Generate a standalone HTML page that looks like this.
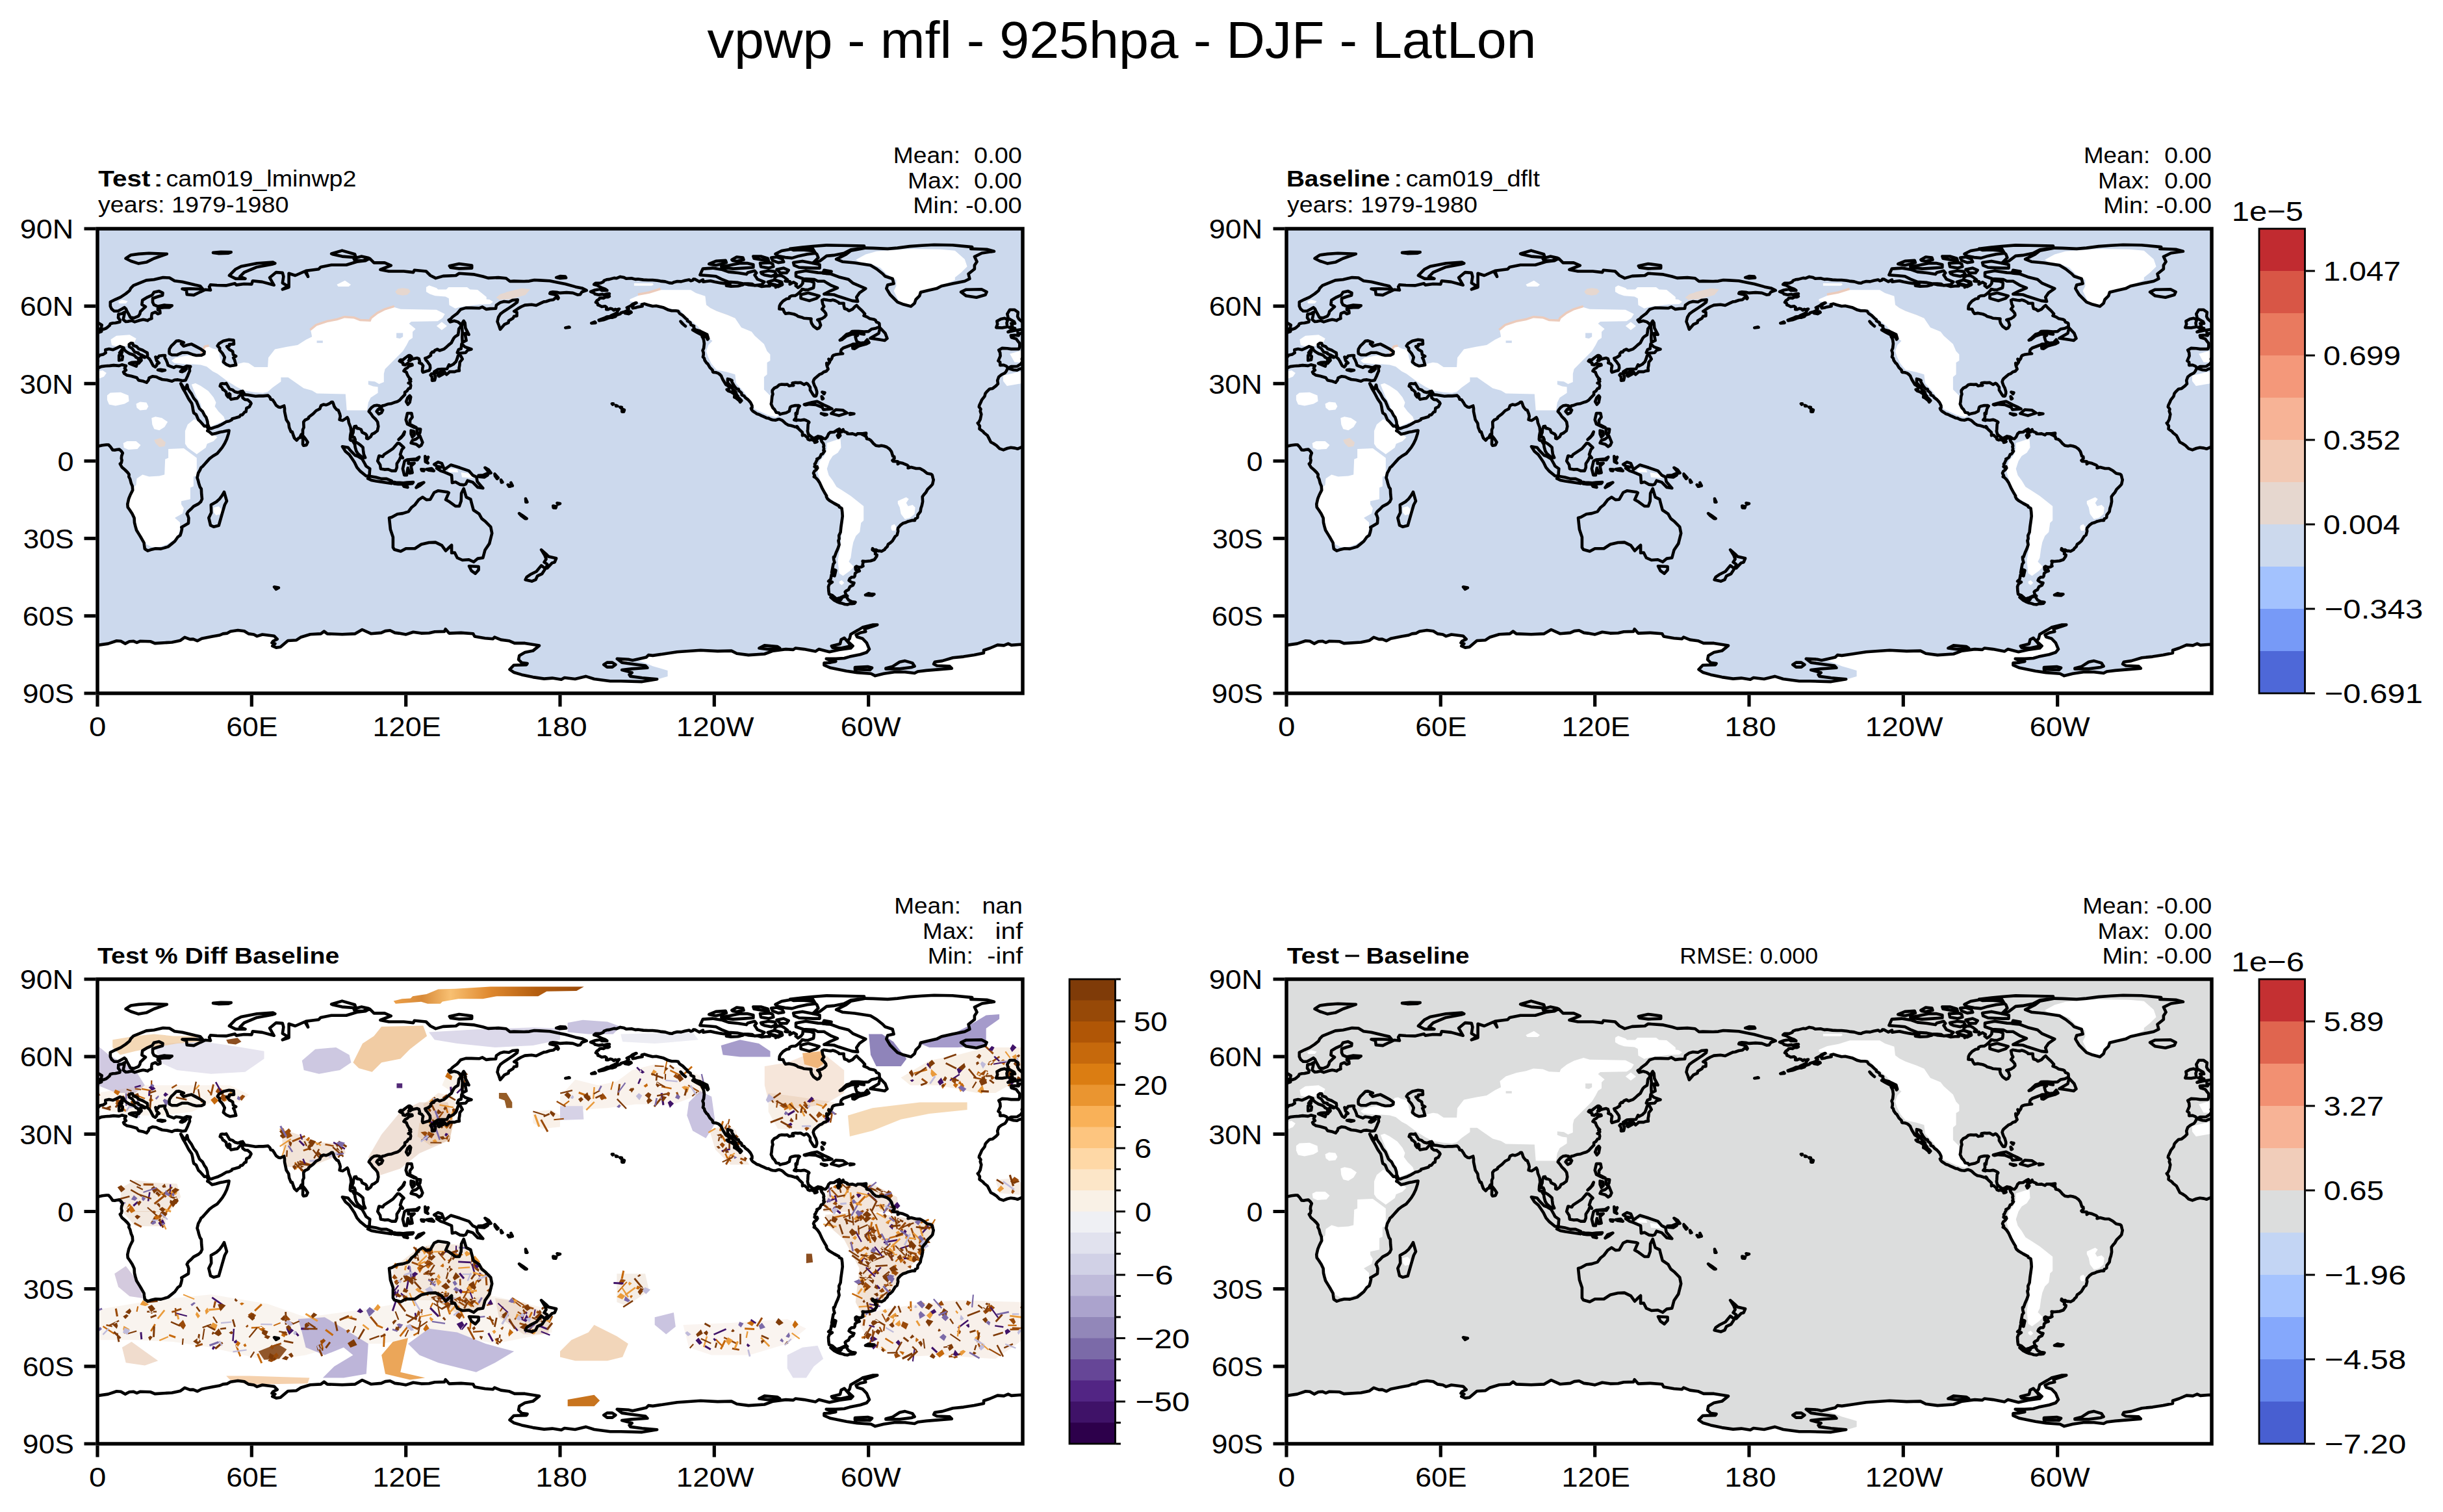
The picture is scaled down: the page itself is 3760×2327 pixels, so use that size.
<!DOCTYPE html>
<html><head><meta charset="utf-8"><title>vpwp - mfl - 925hpa - DJF - LatLon</title><style>html,body{margin:0;padding:0;background:#fff;overflow:hidden}svg{display:block}</style></head><body><svg width="3760" height="2327" viewBox="0 0 3760 2327" font-family='"Liberation Sans", sans-serif'>
<defs>
<path id="coast" d="M2176.7 94.9L2169.6 91.4L2159.7 89.4L2143.9 85L2136 83.4L2120.2 80.2L2104.4 79.4L2096.4 79L2088.5 80.6L2080.6 81L2064.8 80.6L2058.9 81L2052.9 76.3L2041.1 75.1L2025.2 75.9L2017.3 73.5L2004 70.4L1980.6 68.8L1975.7 72L1956 72.9L1944.6 76.1L1936.4 72L1929.8 65.5L1911.8 63.8L1910.2 67.1L1895.4 65.5L1872.5 65.5L1859.4 63L1875.8 56.5L1866 52.4L1849.6 52.4L1843.1 45.8L1836.5 49.1L1823.4 50.7L1807 55.7L1784.1 55.7L1767.7 58.9L1764.5 62.2L1744.8 64.7L1748.1 73.7L1743.2 65.5L1728.4 72L1718.6 68.8L1718.6 80.2L1718.6 90L1708.8 93.3L1717 88.4L1708.8 83.5L1710.4 73.7L1708.8 67.9L1699 67.1L1689.1 75.3L1695.7 86.8L1677.7 81.9L1662.9 80.2L1661.3 85.4L1649.5 85L1637.6 86.6L1635.6 84.2L1621.8 87.4L1607.9 87L1598 86.2L1596.1 89.4L1598 94.5L1590.1 93.7L1582.2 97.3L1572.3 102.1L1561.7 101.3L1560.9 94.5L1554.5 92.6L1566.4 92.2L1586.2 93L1582.2 88.2L1574.3 86.6L1554.5 81.8L1542.7 80.2L1534.8 75.5L1524.9 75.1L1511 78.3L1499.2 79.4L1489.3 83.4L1479.4 87.4L1475.4 91.4L1473.4 95.3L1467.5 100.1L1459.6 105.3L1451.7 108.8L1443.8 112.8L1443.8 119.2L1445.8 123.5L1449.7 126.7L1455.6 126.7L1461.6 123.5L1465.5 121.2L1467.9 123.5L1469.5 127.1L1472.7 132.7L1474.6 136.6L1480.2 137.4L1486.9 134.7L1489.3 131.1L1490.1 127.5L1495.2 122.7L1498 120L1492.4 116.8L1493.2 110L1501.1 105.3L1508.3 102.1L1511 97.7L1518.9 96.1L1524.5 98.9L1524.1 102.5L1517 104.5L1509 107.2L1509 113.2L1511 117.2L1517 119.6L1526.8 117.6L1538.7 118.4L1534.8 121.2L1526.8 121.2L1517 122.3L1517 125.1L1520.1 125.9L1520.5 129.9L1517 131.1L1513 128.3L1507.9 130.3L1507.1 135.1L1507.5 138.2L1503.1 139.8L1501.1 141.4L1497.2 140.2L1494.4 139.8L1488.9 141L1481.4 143.4L1476.6 141.4L1471.5 142.6L1467.5 143L1465.5 141.4L1463.6 139.8L1465.1 133.1L1465.9 128.3L1461.6 130.7L1456.4 131.5L1456 137L1458.8 140.6L1458.4 143.4L1455.2 144.2L1451.7 145L1447.7 145.2L1443.8 146.2L1442.6 149L1439.8 151.3L1437.1 153.3L1433.9 154.5L1430.3 155.3L1430.3 158.1L1424.8 160.1L1419.3 161.7L1416.5 160.1L1417.7 164.4L1411.3 163.7L1405.8 164.4L1406.6 167.2L1414.1 169.6L1416.5 172.8L1419.3 176.4L1419.3 181.9L1418.1 185.1L1412.1 185.1L1406.2 185.1L1400.3 184.3L1392.4 183.9L1387.2 186.7L1389.2 190.7L1389.6 195.8L1386.4 203.4L1389.2 205.4L1389.2 210.1L1394.3 209.7L1398.7 211.3L1401.8 214.5L1406.2 212.1L1415.7 211.7L1421.2 208.1L1424.4 203.4L1422.8 200.6L1424.4 198.2L1427.6 194.6L1432.7 193.4L1436.7 191.1L1436.3 186.3L1441.8 185.1L1447.7 186.3L1453.3 183.9L1458.8 181.1L1464.3 183.1L1465.5 186.7L1468.3 189.1L1473.4 192.3L1478.2 193.8L1481.8 195.8L1483.3 197.8L1486.1 199L1487.7 203L1486.1 205.8L1487.7 207L1489.7 204.6L1491.6 202.6L1491.2 200.6L1489.3 199.4L1492 196.6L1496.8 198.2L1497.2 197L1493.2 195L1487.3 192.7L1486.9 191.1L1481.4 189.9L1477.8 184.7L1473 181.5L1472.7 178L1475.4 176L1478.2 176.4L1479 179.5L1484.5 181.5L1487.3 184.7L1493.2 186.7L1497.2 189.1L1500.7 191.1L1501.1 194.6L1500.7 197.4L1503.9 200.2L1505.9 203.4L1508.3 208.1L1509.8 210.9L1513 212.9L1515 210.5L1515.8 208.1L1518.9 206.6L1515 203L1513.4 197.4L1517 198.6L1518.9 195.8L1524.9 195L1528 195L1527.6 198.6L1529.6 201.8L1531.6 206.6L1532.4 210.1L1535.9 211.7L1541.5 213.7L1545 211.7L1550.6 212.5L1556.5 213.7L1561.3 211.3L1567.2 212.1L1565.6 214.9L1566 218.9L1564.4 222.4L1562.8 226.4L1560.9 230.4L1559.7 233.2L1554.5 234L1551.8 233.2L1547.8 232.4L1542.7 232.8L1538.7 234.8L1530.8 232.8L1523.7 232L1518.5 230L1514.6 228L1509 227.2L1503.5 229.6L1502.7 232.8L1499.6 236.7L1494.8 234.8L1487.3 233.2L1484.5 229.2L1475.8 226.8L1469.5 225.6L1465.1 222.8L1464 220.5L1467.9 217.7L1465.9 214.9L1467.9 210.9L1461.6 209.3L1457.2 210.9L1448.9 210.1L1443 210.9L1436.7 211.3L1429.9 212.1L1424 214.9L1419.3 215.7L1415.3 217.7L1409.8 217.3L1403.4 215.3L1400.7 215.3L1398.7 219.3L1396.7 222L1391.2 224.8L1387.2 228L1385.2 233.6L1386 238.7L1382.9 241.9L1377.7 245.9L1373 246.7L1369 250.6L1366.6 253.4L1365.5 257.8L1361.1 263.4L1359.5 267.3L1357.2 272.1L1356.8 274.1L1359.5 277.7L1358.7 280.8L1360.3 285.6L1358.7 293.5L1356.4 297.9L1354.8 299.1L1357.9 303.5L1357.5 308.2L1362.7 311.8L1364.7 314.2L1369.8 318.2L1371.8 322.1L1375 328.5L1378.9 330.5L1383.7 333.7L1388.4 338.4L1394.3 340.4L1400.3 338L1405.8 336.8L1412.1 337.6L1416.1 338.8L1420 337.2L1426 334.5L1431.5 333.3L1437.8 332.5L1441 332.5L1443.8 335.3L1447.3 340.4L1450.5 340.8L1453.7 340L1457.6 339.6L1460.4 342L1462.8 345.2L1461.2 349.6L1460.8 353.5L1461.6 356.3L1460.8 360.3L1458.8 361.9L1461.6 367L1466.3 371L1470.3 375L1472.7 378.2L1472.3 381.7L1474.2 385.3L1475.8 391.7L1477.8 396.4L1478.2 402.4L1474.6 409.5L1472.3 415.1L1470.3 423.8L1470.7 428.6L1473.8 433L1477.4 438.5L1480.6 445.3L1481 452.4L1482.5 458.4L1484.1 464L1488.5 471.1L1491.6 476.3L1495.6 483.4L1496 487L1496.8 492.6L1498.8 494.1L1501.5 495.7L1505.9 494.1L1513.4 492.2L1521.7 492.6L1526.1 491.4L1532.8 489.4L1538.7 484.6L1543.1 481L1547.8 474.3L1551.4 471.9L1553 466.7L1554.1 461.6L1553.3 459.6L1558.1 456.8L1564 453.2L1564.4 445.3L1563.2 441.7L1561.7 438.9L1563.6 435.4L1567.6 431.8L1571.9 427.4L1579.5 423.4L1583 420.3L1585 415.9L1584.2 408.3L1583.8 400.4L1581.8 397.6L1579.8 391.3L1579.1 388.1L1577.5 383.3L1579.1 376.2L1581.4 372.2L1583.4 367.8L1586.2 365.4L1589.7 361.5L1592.9 357.9L1596.5 353.9L1601.6 350L1608.3 346L1612.7 340.8L1616.2 336.4L1619.8 330.5L1623 323.7L1625.7 315.4L1626.5 310.6L1623 311L1617.4 312.2L1612.7 313L1606 315L1600.4 316.2L1596.1 312.6L1593.3 311L1594.9 308.2L1591.7 303.5L1588.6 303.9L1585.8 300.7L1581.8 296.3L1579.5 294.3L1575.9 286L1572.3 283.6L1571.1 278.9L1570.4 274.1L1569.2 268.9L1564.8 262.6L1563.2 259.8L1560.1 253.8L1558.1 250.2L1555.3 245.5L1553 240.3L1552.2 238.3L1554.1 240.7L1557.3 245.5L1559.3 247.1L1560.5 243.9L1562 240.3L1563.2 245.9L1565.6 249.9L1568.8 254.2L1572.3 261L1576.3 265.7L1578.7 271.3L1581 276.9L1585.8 281.2L1588.6 286.8L1591.3 290.4L1593.3 296.7L1593.7 300.7L1595.3 304.7L1596.1 307.1L1599.2 307.5L1603.6 305.9L1608.7 304.3L1613.9 301.9L1618.2 299.5L1622.2 297.1L1626.5 296.3L1630.5 294.3L1631.3 292.4L1636 291.2L1642.7 289.2L1644.3 286.8L1647.1 286.4L1650.3 282.4L1652.6 281.6L1653.4 276.1L1657.8 274.1L1660.5 268.9L1659.4 266.9L1655.4 263.4L1651 263L1647.5 260.2L1647.1 254.6L1645.5 254.2L1643.5 256.2L1639.2 261L1635.2 261.4L1629.7 262.6L1628.1 260.6L1628.1 255L1626.9 253.8L1624.9 259L1622.6 255.8L1622.2 251.4L1619 248.3L1617 247.5L1615.4 243.9L1612.7 242.3L1613.9 238.7L1616.2 238.3L1620.2 238.7L1622.2 237.9L1625.3 243.1L1627.3 246.7L1631.7 247.9L1635.6 251L1640.4 252.2L1644.3 250.6L1647.5 249.9L1651 255.4L1655.4 255.8L1659.8 256.6L1667.3 257.8L1672.8 257.4L1679.1 257.4L1686.6 256.6L1689.4 259.4L1690.6 262.6L1693.8 263.4L1696.1 266.9L1697.7 269.7L1699.3 272.1L1702.9 274.5L1705.6 274.9L1711.2 272.5L1712 276.5L1712 281.2L1714.7 293.9L1718.3 299.5L1719.1 305.9L1721.9 312.6L1723.8 312.6L1725 316.6L1727 322.1L1730.6 325.7L1733.7 322.1L1737.3 321L1736.1 319.8L1737.7 316.6L1740 316.2L1740 309.4L1741.6 305.9L1741.2 297.5L1743.6 294.3L1747.2 292.8L1749.1 291.6L1749.1 290L1755.9 284.8L1760.6 280L1766.2 277.3L1768.1 272.1L1772.1 270.5L1775.6 271.3L1778.8 270.1L1782 268.5L1784 266.9L1785.9 266.9L1787.1 269.3L1788.3 273.3L1789.5 275.3L1792.3 278.5L1794.6 279.2L1797 285.2L1797.8 288.8L1796.6 293.9L1799.4 294.7L1801.4 295.1L1805.7 292.4L1808.5 290.4L1810.1 293.5L1810.9 298.7L1813.6 305.5L1814.4 312.2L1813.2 318.2L1812.8 324.1L1813.6 325.7L1816.4 326.1L1820 331.7L1820.7 336.4L1822.3 342L1824.7 346L1827.9 348.8L1833 352.7L1836.2 352.3L1833.8 346.8L1833 340.8L1832.6 336.4L1829 333.3L1825.9 330.9L1820.7 327.7L1820.7 324.5L1819.2 321L1816.4 321L1816.4 316.2L1817.6 313.8L1818 309L1819.2 305.9L1819.6 304.3L1821.9 303.9L1823.5 307.1L1826.3 307.5L1829.8 309L1831.4 313.4L1836.6 315.8L1838.5 318.2L1838.1 322.5L1840.1 323.3L1844.5 320.2L1846.5 316.2L1850 314.6L1854.8 311L1856.3 304.3L1855.2 297.5L1852.4 293.5L1847.6 288.8L1844.9 284.8L1841.7 281.2L1842.9 278.9L1845.7 275.3L1849.6 272.5L1854 271.7L1858.3 272.5L1858.7 276.9L1860.7 276.5L1862.3 272.5L1866.2 271.7L1871.8 269.7L1875.7 269.3L1882.4 266.9L1885.6 266.1L1889.2 263.8L1892.7 259.8L1897.1 255.4L1897.1 251.8L1900.2 249.9L1903 245.9L1905.4 245.5L1906.2 241.5L1905.4 238.3L1902.6 237.5L1906.2 234.8L1904.2 232.4L1906.2 231.6L1903 228.4L1901 224.8L1899.5 220.9L1895.5 218.9L1897.5 216.1L1901 214.1L1903 211.7L1908.6 210.1L1908.2 208.5L1905.4 208.5L1903 208.1L1901.8 207L1897.9 209.7L1894.3 208.9L1894.3 206.6L1888.8 203.8L1890.4 201.8L1894.3 201.8L1897.5 199L1903 195L1905 195L1907.4 197L1904.2 199.4L1905 201L1903 203L1905 203L1907.4 201L1910.1 200.2L1915.7 199L1918.8 200.2L1920 204.2L1919.2 206.6L1922.8 207.7L1925.2 210.9L1924.4 214.1L1924 218.9L1924.8 220.9L1927.9 220.1L1931.1 218.9L1934.7 218.1L1936.2 214.5L1935.8 210.1L1931.5 204.2L1929.5 202.2L1928.3 199.4L1932.7 197.8L1937 195L1937 192.3L1939.4 189.5L1941.4 189.9L1943.4 187.1L1947.3 185.5L1950.5 187.5L1957.6 185.1L1960 183.1L1964.3 179.1L1968.7 175.6L1970.7 171.6L1972.2 168.8L1974.2 166.4L1979 163.3L1979.8 158.5L1980.2 154.1L1983.3 150.1L1982.9 146.6L1978.6 143.4L1973 141.8L1966.7 143.4L1964.7 140.6L1967.5 139L1970.7 135.5L1977.4 130.7L1982.9 124.3L1986.5 123.1L1990.8 121.9L1999.5 121.9L2011.4 122.3L2016.5 120.4L2022.5 123.9L2028.4 123.1L2037.1 122.7L2037.9 117.6L2043.8 113.6L2049.8 112L2057.3 112.8L2062.8 110L2070.7 109.2L2069.9 113.2L2064 117.6L2057.7 121.9L2049 127.5L2044.2 131.1L2041.1 136.2L2039.5 143L2041.9 149L2043.8 154.9L2050.2 147.4L2056.5 144.6L2056.9 141.8L2063.6 137.8L2065.2 134.7L2069.5 134.3L2069.5 128.7L2065.2 127.1L2071.1 123.1L2076.3 120L2081.8 117.6L2092.1 116.8L2099.2 118L2105.1 115.2L2111.1 112.4L2114.6 112L2120.2 110L2125.7 109.2L2129.7 105.7L2132.8 108L2133.6 106.5L2131.6 102.9L2125.7 100.9L2120.2 99.7L2121 98.1L2124.9 97.3L2130.9 97.7L2136 98.9L2145.9 98.1L2155.8 98.9L2162.9 101.7L2166.9 101.3L2169.6 97.3L2176.7 94.9ZM752.7 94.9L745.6 91.4L735.7 89.4L719.9 85L712 83.4L696.2 80.2L680.4 79.4L672.4 79L664.5 80.6L656.6 81L640.8 80.6L634.9 81L628.9 76.3L617.1 75.1L601.2 75.9L593.3 73.5L580 70.4L556.6 68.8L551.7 72L532 72.9L520.6 76.1L512.4 72L505.8 65.5L487.8 63.8L486.2 67.1L471.4 65.5L448.5 65.5L435.4 63L451.8 56.5L442 52.4L425.6 52.4L419.1 45.8L412.5 49.1L399.4 50.7L383 55.7L360.1 55.7L343.7 58.9L340.5 62.2L320.8 64.7L324.1 73.7L319.2 65.5L304.4 72L294.6 68.8L294.6 80.2L294.6 90L284.8 93.3L293 88.4L284.8 83.5L286.4 73.7L284.8 67.9L275 67.1L265.1 75.3L271.7 86.8L253.7 81.9L238.9 80.2L237.3 85.4L225.5 85L213.6 86.6L211.6 84.2L197.8 87.4L183.9 87L174 86.2L172.1 89.4L174 94.5L166.1 93.7L158.2 97.3L148.3 102.1L137.7 101.3L136.9 94.5L130.5 92.6L142.4 92.2L162.2 93L158.2 88.2L150.3 86.6L130.5 81.8L118.7 80.2L110.8 75.5L100.9 75.1L87 78.3L75.2 79.4L65.3 83.4L55.4 87.4L51.4 91.4L49.4 95.3L43.5 100.1L35.6 105.3L27.7 108.8L19.8 112.8L19.8 119.2L21.8 123.5L25.7 126.7L31.6 126.7L37.6 123.5L41.5 121.2L43.9 123.5L45.5 127.1L48.7 132.7L50.6 136.6L56.2 137.4L62.9 134.7L65.3 131.1L66.1 127.5L71.2 122.7L74 120L68.4 116.8L69.2 110L77.1 105.3L84.3 102.1L87 97.7L94.9 96.1L100.5 98.9L100.1 102.5L93 104.5L85 107.2L85 113.2L87 117.2L93 119.6L102.8 117.6L114.7 118.4L110.8 121.2L102.8 121.2L93 122.3L93 125.1L96.1 125.9L96.5 129.9L93 131.1L89 128.3L83.9 130.3L83.1 135.1L83.5 138.2L79.1 139.8L77.1 141.4L73.2 140.2L70.4 139.8L64.9 141L57.4 143.4L52.6 141.4L47.5 142.6L43.5 143L41.5 141.4L39.6 139.8L41.1 133.1L41.9 128.3L37.6 130.7L32.4 131.5L32 137L34.8 140.6L34.4 143.4L31.2 144.2L27.7 145L23.7 145.2L19.8 146.2L18.6 149L15.8 151.3L13.1 153.3L9.9 154.5L6.3 155.3L6.3 158.1L0.8 160.1L-4.7 161.7L-7.5 160.1L-6.3 164.4L-12.7 163.7L-18.2 164.4L-17.4 167.2L-9.9 169.6L-7.5 172.8L-4.7 176.4L-4.7 181.9L-5.9 185.1L-11.9 185.1L-17.8 185.1L-23.7 184.3L-31.6 183.9L-36.8 186.7L-34.8 190.7L-34.4 195.8L-37.6 203.4L-34.8 205.4L-34.8 210.1L-29.7 209.7L-25.3 211.3L-22.2 214.5L-17.8 212.1L-8.3 211.7L-2.8 208.1L0.4 203.4L-1.2 200.6L0.4 198.2L3.6 194.6L8.7 193.4L12.7 191.1L12.3 186.3L17.8 185.1L23.7 186.3L29.3 183.9L34.8 181.1L40.3 183.1L41.5 186.7L44.3 189.1L49.4 192.3L54.2 193.8L57.8 195.8L59.3 197.8L62.1 199L63.7 203L62.1 205.8L63.7 207L65.7 204.6L67.6 202.6L67.2 200.6L65.3 199.4L68 196.6L72.8 198.2L73.2 197L69.2 195L63.3 192.7L62.9 191.1L57.4 189.9L53.8 184.7L49 181.5L48.7 178L51.4 176L54.2 176.4L55 179.5L60.5 181.5L63.3 184.7L69.2 186.7L73.2 189.1L76.7 191.1L77.1 194.6L76.7 197.4L79.9 200.2L81.9 203.4L84.3 208.1L85.8 210.9L89 212.9L91 210.5L91.8 208.1L94.9 206.6L91 203L89.4 197.4L93 198.6L94.9 195.8L100.9 195L104 195L103.6 198.6L105.6 201.8L107.6 206.6L108.4 210.1L111.9 211.7L117.5 213.7L121 211.7L126.6 212.5L132.5 213.7L137.3 211.3L143.2 212.1L141.6 214.9L142 218.9L140.4 222.4L138.8 226.4L136.9 230.4L135.7 233.2L130.5 234L127.8 233.2L123.8 232.4L118.7 232.8L114.7 234.8L106.8 232.8L99.7 232L94.5 230L90.6 228L85 227.2L79.5 229.6L78.7 232.8L75.6 236.7L70.8 234.8L63.3 233.2L60.5 229.2L51.8 226.8L45.5 225.6L41.1 222.8L40 220.5L43.9 217.7L41.9 214.9L43.9 210.9L37.6 209.3L33.2 210.9L24.9 210.1L19 210.9L12.7 211.3L5.9 212.1L0 214.9L-4.7 215.7L-8.7 217.7L-14.2 217.3L-20.6 215.3L-23.3 215.3L-25.3 219.3L-27.3 222L-32.8 224.8L-36.8 228L-38.8 233.6L-38 238.7L-41.1 241.9L-46.3 245.9L-51 246.7L-55 250.6L-57.4 253.4L-58.5 257.8L-62.9 263.4L-64.5 267.3L-66.8 272.1L-67.2 274.1L-64.5 277.7L-65.3 280.8L-63.7 285.6L-65.3 293.5L-67.6 297.9L-69.2 299.1L-66.1 303.5L-66.5 308.2L-61.3 311.8L-59.3 314.2L-54.2 318.2L-52.2 322.1L-49 328.5L-45.1 330.5L-40.3 333.7L-35.6 338.4L-29.7 340.4L-23.7 338L-18.2 336.8L-11.9 337.6L-7.9 338.8L-4 337.2L2 334.5L7.5 333.3L13.8 332.5L17 332.5L19.8 335.3L23.3 340.4L26.5 340.8L29.7 340L33.6 339.6L36.4 342L38.8 345.2L37.2 349.6L36.8 353.5L37.6 356.3L36.8 360.3L34.8 361.9L37.6 367L42.3 371L46.3 375L48.7 378.2L48.3 381.7L50.2 385.3L51.8 391.7L53.8 396.4L54.2 402.4L50.6 409.5L48.3 415.1L46.3 423.8L46.7 428.6L49.8 433L53.4 438.5L56.6 445.3L57 452.4L58.5 458.4L60.1 464L64.5 471.1L67.6 476.3L71.6 483.4L72 487L72.8 492.6L74.8 494.1L77.5 495.7L81.9 494.1L89.4 492.2L97.7 492.6L102.1 491.4L108.8 489.4L114.7 484.6L119.1 481L123.8 474.3L127.4 471.9L129 466.7L130.1 461.6L129.3 459.6L134.1 456.8L140 453.2L140.4 445.3L139.2 441.7L137.7 438.9L139.6 435.4L143.6 431.8L147.9 427.4L155.5 423.4L159 420.3L161 415.9L160.2 408.3L159.8 400.4L157.8 397.6L155.8 391.3L155.1 388.1L153.5 383.3L155.1 376.2L157.4 372.2L159.4 367.8L162.2 365.4L165.7 361.5L168.9 357.9L172.5 353.9L177.6 350L184.3 346L188.7 340.8L192.2 336.4L195.8 330.5L199 323.7L201.7 315.4L202.5 310.6L199 311L193.4 312.2L188.7 313L182 315L176.4 316.2L172.1 312.6L169.3 311L170.9 308.2L167.7 303.5L164.6 303.9L161.8 300.7L157.8 296.3L155.5 294.3L151.9 286L148.3 283.6L147.1 278.9L146.4 274.1L145.2 268.9L140.8 262.6L139.2 259.8L136.1 253.8L134.1 250.2L131.3 245.5L129 240.3L128.2 238.3L130.1 240.7L133.3 245.5L135.3 247.1L136.5 243.9L138 240.3L139.2 245.9L141.6 249.9L144.8 254.2L148.3 261L152.3 265.7L154.7 271.3L157 276.9L161.8 281.2L164.6 286.8L167.3 290.4L169.3 296.7L169.7 300.7L171.3 304.7L172.1 307.1L175.2 307.5L179.6 305.9L184.7 304.3L189.9 301.9L194.2 299.5L198.2 297.1L202.5 296.3L206.5 294.3L207.3 292.4L212 291.2L218.7 289.2L220.3 286.8L223.1 286.4L226.3 282.4L228.6 281.6L229.4 276.1L233.8 274.1L236.5 268.9L235.4 266.9L231.4 263.4L227 263L223.5 260.2L223.1 254.6L221.5 254.2L219.5 256.2L215.2 261L211.2 261.4L205.7 262.6L204.1 260.6L204.1 255L202.9 253.8L200.9 259L198.6 255.8L198.2 251.4L195 248.3L193 247.5L191.4 243.9L188.7 242.3L189.9 238.7L192.2 238.3L196.2 238.7L198.2 237.9L201.3 243.1L203.3 246.7L207.7 247.9L211.6 251L216.4 252.2L220.3 250.6L223.5 249.9L227 255.4L231.4 255.8L235.8 256.6L243.3 257.8L248.8 257.4L255.1 257.4L262.6 256.6L265.4 259.4L266.6 262.6L269.8 263.4L272.1 266.9L273.7 269.7L275.3 272.1L278.9 274.5L281.6 274.9L287.2 272.5L288 276.5L288 281.2L290.7 293.9L294.3 299.5L295.1 305.9L297.9 312.6L299.8 312.6L301 316.6L303 322.1L306.6 325.7L309.7 322.1L313.3 321L312.1 319.8L313.7 316.6L316 316.2L316 309.4L317.6 305.9L317.2 297.5L319.6 294.3L323.2 292.8L325.1 291.6L325.1 290L331.9 284.8L336.6 280L342.2 277.3L344.1 272.1L348.1 270.5L351.6 271.3L354.8 270.1L358 268.5L360 266.9L361.9 266.9L363.1 269.3L364.3 273.3L365.5 275.3L368.3 278.5L370.6 279.2L373 285.2L373.8 288.8L372.6 293.9L375.4 294.7L377.4 295.1L381.7 292.4L384.5 290.4L386.1 293.5L386.9 298.7L389.6 305.5L390.4 312.2L389.2 318.2L388.8 324.1L389.6 325.7L392.4 326.1L396 331.7L396.7 336.4L398.3 342L400.7 346L403.9 348.8L409 352.7L412.2 352.3L409.8 346.8L409 340.8L408.6 336.4L405 333.3L401.9 330.9L396.7 327.7L396.7 324.5L395.2 321L392.4 321L392.4 316.2L393.6 313.8L394 309L395.2 305.9L395.6 304.3L397.9 303.9L399.5 307.1L402.3 307.5L405.8 309L407.4 313.4L412.6 315.8L414.5 318.2L414.1 322.5L416.1 323.3L420.5 320.2L422.5 316.2L426 314.6L430.8 311L432.3 304.3L431.2 297.5L428.4 293.5L423.6 288.8L420.9 284.8L417.7 281.2L418.9 278.9L421.7 275.3L425.6 272.5L430 271.7L434.3 272.5L434.7 276.9L436.7 276.5L438.3 272.5L442.2 271.7L447.8 269.7L451.7 269.3L458.4 266.9L461.6 266.1L465.2 263.8L468.7 259.8L473.1 255.4L473.1 251.8L476.2 249.9L479 245.9L481.4 245.5L482.2 241.5L481.4 238.3L478.6 237.5L482.2 234.8L480.2 232.4L482.2 231.6L479 228.4L477 224.8L475.5 220.9L471.5 218.9L473.5 216.1L477 214.1L479 211.7L484.6 210.1L484.2 208.5L481.4 208.5L479 208.1L477.8 207L473.9 209.7L470.3 208.9L470.3 206.6L464.8 203.8L466.4 201.8L470.3 201.8L473.5 199L479 195L481 195L483.4 197L480.2 199.4L481 201L479 203L481 203L483.4 201L486.1 200.2L491.7 199L494.8 200.2L496 204.2L495.2 206.6L498.8 207.7L501.2 210.9L500.4 214.1L500 218.9L500.8 220.9L503.9 220.1L507.1 218.9L510.7 218.1L512.2 214.5L511.8 210.1L507.5 204.2L505.5 202.2L504.3 199.4L508.7 197.8L513 195L513 192.3L515.4 189.5L517.4 189.9L519.4 187.1L523.3 185.5L526.5 187.5L533.6 185.1L536 183.1L540.3 179.1L544.7 175.6L546.7 171.6L548.2 168.8L550.2 166.4L555 163.3L555.8 158.5L556.2 154.1L559.3 150.1L558.9 146.6L554.6 143.4L549 141.8L542.7 143.4L540.7 140.6L543.5 139L546.7 135.5L553.4 130.7L558.9 124.3L562.5 123.1L566.8 121.9L575.5 121.9L587.4 122.3L592.5 120.4L598.5 123.9L604.4 123.1L613.1 122.7L613.9 117.6L619.8 113.6L625.8 112L633.3 112.8L638.8 110L646.7 109.2L645.9 113.2L640 117.6L633.7 121.9L625 127.5L620.2 131.1L617.1 136.2L615.5 143L617.9 149L619.8 154.9L626.2 147.4L632.5 144.6L632.9 141.8L639.6 137.8L641.2 134.7L645.5 134.3L645.5 128.7L641.2 127.1L647.1 123.1L652.3 120L657.8 117.6L668.1 116.8L675.2 118L681.1 115.2L687.1 112.4L690.6 112L696.2 110L701.7 109.2L705.7 105.7L708.8 108L709.6 106.5L707.6 102.9L701.7 100.9L696.2 99.7L697 98.1L700.9 97.3L706.9 97.7L712 98.9L721.9 98.1L731.8 98.9L738.9 101.7L742.9 101.3L745.6 97.3L752.7 94.9ZM759.1 96.9L765.4 94.5L773.3 93L776.5 94.9L784.4 94.9L781.2 92.6L776.1 91L769.8 87.4L764.2 85.8L766.6 83.8L773.7 83.8L778.5 81.8L779.6 79.8L783.6 78.3L787.6 77.9L795.1 75.9L798.6 76.3L804.6 73.9L810.5 75.1L813.7 76.7L822 76.3L827.9 77.9L831.9 77.5L840.2 78.6L847.7 79L854.4 79L861.9 79.8L866.3 80.6L873.8 81.4L880.1 83.4L884.1 83.8L887.6 82.2L892.4 81L898.3 81.4L904.2 79.8L910.6 78.6L913.3 80.2L916.1 79.4L917.3 77.5L920.1 77.9L926.4 81.4L931.9 78.6L932.3 81.8L937.1 81L943.4 80.2L949.7 81.8L958.8 83.4L964.4 84.2L968.3 83.8L973.5 85.8L967.9 87.8L975 88.6L985.7 88.2L989.3 87.4L993.6 86.2L996 84.6L1001.2 84.6L1007.5 85L1011.4 87.4L1015.8 87L1022.5 89L1028.8 88.2L1034.8 88.2L1034 85.8L1037.5 85L1043.9 86.6L1043.9 90.2L1046.2 87L1049.4 87L1051.4 83L1047 80.6L1042.3 79L1042.7 74.7L1047.4 71.9L1052.6 72.3L1056.5 74.3L1062.1 78.6L1058.5 80.6L1066 81.4L1065.6 85.4L1071.2 82.2L1075.9 85L1074.7 87.8L1078.3 90.6L1082.6 87.8L1085.4 84.2L1085.8 79.8L1091.3 80.2L1097.3 80.6L1102.4 82.6L1102.8 84.6L1102.4 89L1102 91L1094.5 93.7L1089 94.1L1084.6 93L1083.4 94.9L1079.9 98.5L1076.7 101.3L1073.9 102.9L1068.4 103.3L1065.2 104.9L1064.8 107.2L1060.5 108L1055.3 111.2L1051.4 115.6L1049.8 118.8L1049.4 123.5L1055.3 123.9L1056.9 127.9L1058.9 130.7L1064.4 129.9L1072 131.5L1075.9 133.1L1078.7 135.1L1083.4 136.2L1087.8 137.8L1094.1 138.2L1098.5 138.6L1098.1 141.8L1099.2 145.8L1102 150.1L1107.6 154.1L1110.7 152.9L1113.1 148.6L1111.1 142.6L1108.3 140.2L1114.7 138.6L1119 135.9L1121.4 133.1L1121 130.3L1118.2 126.7L1115.1 123.9L1118.2 119.6L1116.3 116L1115.1 110L1117.8 108.8L1124.6 110L1128.5 110.4L1132.1 109.6L1135.6 110.8L1140.4 113.2L1141.6 114.8L1148.7 114.8L1148.7 118.4L1149.9 123.1L1153.4 123.9L1156.6 126.3L1162.1 123.9L1166.1 119.6L1168.5 118L1171.6 121.5L1176.8 126.3L1181.1 131.1L1179.5 133.9L1184.7 135.9L1188.2 138.2L1194.6 139.4L1197.3 140.6L1198.9 143.8L1201.7 144.6L1203.3 145.8L1203.7 150.5L1198.1 153.3L1191.4 154.5L1186.7 158.1L1179.9 158.5L1171.2 157.7L1165.3 157.7L1161.4 158.1L1158.2 160.9L1153 162.5L1147.1 168L1142.8 171.6L1145.9 170.8L1152.3 165.6L1160.6 162.5L1166.5 162.1L1170.1 164.1L1166.5 166.4L1167.7 170.8L1168.9 174L1174 176L1180.7 175.2L1184.7 170.8L1187.5 175.2L1182.7 177.6L1173.6 179.9L1170.1 181.5L1165.3 184.7L1162.5 184.3L1162.1 180.7L1169.3 177.6L1162.9 177.6L1158.6 179.5L1153.4 181.5L1147.9 183.5L1144.7 186.3L1143.9 189.5L1145.1 191.5L1147.1 192.3L1142.8 192.7L1135.6 193.8L1132.5 195L1131.3 196.2L1130.1 199.8L1127.7 203L1125.4 200.6L1126.9 205.4L1123.8 209.7L1122.2 207L1122.6 210.5L1124.6 216.1L1121.8 219.3L1117.8 220.5L1115.1 222.8L1111.1 224.4L1106.4 228.4L1104 230.4L1102.4 232.8L1101.6 235.6L1102.4 238.3L1103.6 241.5L1105.6 245.1L1107.2 250.6L1107.2 253.4L1106 257.4L1104.8 257.8L1102.8 257.4L1100.8 254.6L1098.9 251.4L1096.9 248.3L1096.9 243.9L1092.9 238.7L1091.3 237.9L1087.4 239.9L1082.2 236.7L1077.9 237.1L1074.3 236.7L1069.6 237.5L1070.4 240.3L1071.2 241.1L1068.8 241.1L1064.4 241.9L1061.7 239.5L1058.1 239.9L1053 239.5L1049.4 240.3L1045.8 243.5L1041.9 245.1L1038.7 248.7L1038.7 251.4L1039.5 254.6L1038.3 258.2L1037.5 266.5L1036.8 269.7L1039.5 275.7L1042.3 278.5L1044.7 282.8L1049 283.6L1050.6 285.6L1054.2 284.4L1060.1 283.2L1064.8 280.8L1066 275.3L1066.8 274.1L1069.6 272.9L1073.9 272.1L1079.5 272.1L1080.7 272.9L1078.3 276.9L1077.5 279.6L1076.7 284.8L1074.7 284L1075.1 290L1074.3 292L1072.4 294.3L1075.5 295.1L1077.5 294.3L1082.2 294.7L1087.8 293.9L1090.2 294.7L1094.1 296.7L1095.3 297.9L1093.7 300.7L1093.3 308.2L1092.9 311.4L1094.1 316.2L1097.7 319.4L1100.8 321.8L1104 322.1L1109.1 319.4L1113.5 320.2L1117.8 322.9L1120.2 323.3L1123 320.6L1125.4 315.4L1127.7 313.4L1133.7 313L1138.4 309.8L1141.6 308.2L1142.8 309.4L1139.2 311.4L1140.8 313.8L1140.8 316.2L1138.8 318.2L1140.4 321.4L1143.2 318.2L1141.6 313.8L1146.3 312.2L1147.5 309L1148.7 311.8L1154.2 314.2L1154.2 315.4L1157.8 315.8L1162.1 315.4L1167.3 317.4L1169.7 315.4L1179.2 315L1176 316.2L1180.3 318.2L1183.5 320.2L1183.9 323.3L1187.5 324.1L1190.2 325.7L1192.6 328.5L1194.2 330.5L1198.1 333.7L1202.9 334.5L1206.4 333.7L1210.4 334.5L1214.8 336L1219.1 339.2L1221.9 342.8L1224.2 350L1226.2 350.7L1226.6 353.5L1223.5 356.7L1224.6 357.9L1231.8 358.3L1231.8 362.3L1234.9 359.9L1239.7 361.1L1246.4 363.9L1248.4 365.8L1247.6 368.2L1252.3 367L1259.8 369L1265.8 369L1271.7 372.2L1276.9 376.6L1283.2 377.8L1284.8 379.3L1286 384.1L1286.7 386.5L1285.2 393.2L1283.2 395.6L1277.6 401.2L1274.9 406L1272.1 409.1L1269.7 412.3L1270.1 419.9L1268.9 425.8L1267.4 430.2L1266.6 435.4L1262.6 440.5L1262.2 444.5L1258.7 446.5L1257.9 448.9L1253.5 448.9L1247.6 450.4L1244.4 452L1240.1 453.2L1235.7 456.4L1232.2 460.4L1231.8 463.2L1232.2 465.5L1230.6 471.5L1227.8 473.5L1223.5 480.6L1219.9 483.8L1217.1 485.4L1215.5 489.4L1212.8 491.8L1211.2 494.1L1206.8 496.5L1203.7 495.7L1201.7 496.1L1198.1 494.1L1195.4 494.5L1193 492.2L1192.6 494.1L1197.7 497.7L1197 500.5L1199.7 502.1L1199.3 504.1L1195.8 509.2L1189.8 511.2L1181.9 512L1177.6 511.6L1178.4 514L1177.6 517.2L1178.4 519.2L1176 520.4L1171.6 521.2L1168.1 519.6L1166.5 520.8L1166.9 524.7L1169.7 525.9L1171.6 524.3L1172.8 526.7L1169.3 527.9L1166.1 530.3L1165.7 534.3L1164.5 536.2L1161 536.2L1157.8 538.6L1156.6 541.4L1160.6 544.2L1164.5 545L1162.9 548.6L1158.2 550.9L1155.8 555.7L1152.3 557.3L1150.7 558.9L1151.9 563.3L1154.2 565.2L1149.1 565.2L1143.9 567.6L1137.2 569.6L1131.3 564.5L1126.1 562.5L1125.4 557.7L1125 550.9L1126.5 547L1130.9 543.8L1125 542.6L1128.5 539.4L1129.7 532.7L1134.5 534.3L1136.4 525.9L1133.7 524.7L1132.5 529.9L1130.1 529.1L1132.5 516L1134.5 513.6L1133.3 509.6L1132.9 505.3L1134.5 504.9L1136.8 498.5L1139.6 492.2L1141.6 486.2L1140.4 480.2L1141.6 477.1L1141.2 472.3L1143.6 467.1L1144.3 459.6L1145.5 451.2L1146.7 442.5L1146.3 436.1L1145.5 430.2L1141.6 428.2L1141.2 426.6L1133.7 422.6L1126.5 418.3L1123.4 415.5L1121.8 412.3L1122.2 411.1L1119 406L1115.1 398.8L1111.5 390.9L1108.3 386.1L1105.6 383.3L1102.8 381.7L1104 380.1L1102 376.2L1103.2 373.4L1106.4 371L1108.3 368.2L1107.6 366.2L1106 368.2L1103.6 366.2L1104.4 365.4L1104 361.9L1105.2 361.1L1106 358.7L1107.6 355.9L1107.2 354.3L1109.5 353.5L1111.9 351.9L1112.7 350L1113.9 347.2L1115.9 346.8L1119 342.4L1117.4 341.2L1118.2 338.8L1117.4 335.3L1118.2 334.5L1117.4 330.9L1115.9 328.9L1114.7 327.7L1113.9 325.3L1114.7 324.5L1113.1 322.9L1111.1 321.8L1109.1 322.1L1108.3 323.3L1106 324.5L1105.6 325.3L1107.6 327.7L1106 328.5L1104 328.9L1103.2 326.5L1100.8 325.3L1098.1 324.5L1096.1 325.3L1093.7 324.1L1092.9 322.9L1093.3 321.4L1090.5 319.8L1089 318.2L1087 317.4L1085 318.2L1085 314.6L1085 313.4L1081.8 310.6L1079.1 307.8L1077.1 306.3L1078.3 306.3L1076.7 304.3L1073.9 305.1L1070.8 303.9L1067.6 303.1L1063.3 302.3L1059.3 299.9L1054.6 295.5L1052.6 294.3L1049.4 293.1L1047 293.5L1043.9 294.7L1039.1 294.3L1036.4 293.5L1032.8 291.6L1029.6 291.2L1025.3 289.2L1021.7 287.6L1018.6 286L1014.6 284.8L1012.6 283.2L1008.7 280.8L1006.7 278.5L1005.9 276.5L1007.5 275.7L1007.5 272.5L1005.9 268.9L1004.7 266.9L1001.2 263L997.2 260.2L995.2 257.4L991.7 255.8L991.3 253L989.7 251.4L987.3 249.5L986.5 246.7L984.1 246.7L981.8 244.3L980.2 242.3L977.8 238.3L976.2 235.2L976.6 233.6L973.5 232L969.9 231.2L969.9 234.8L970.3 237.5L971.9 239.1L974.6 241.9L976.6 244.7L977.8 247.1L980.2 249.5L982.6 251.4L983.7 255.4L986.1 258.2L986.1 261L988.1 261L991.3 264.5L989.3 266.9L987.7 264.5L984.9 262.2L982.2 260.2L980.2 259.4L980.6 256.2L979.8 254.2L975 251L971.1 249.9L968.7 247.5L970.7 247.5L972.3 245.9L972.3 243.9L969.5 241.1L967.1 239.9L962.4 232L960.8 228.4L960 226.4L957.6 224L955.3 222.4L951.7 221.3L947.8 220.9L947 220.1L946.6 217.7L942.6 213.7L939.4 208.1L937.5 206.6L934.7 202.6L933.9 199.4L931.9 197.4L932.7 194.2L932.7 190.7L931.5 187.5L933.1 183.9L933.9 176.8L933.1 171.2L931.9 168L930.7 166L937.1 166.8L939 170.4L940.2 169.2L938.3 162.9L930 158.9L927.2 157.3L920.1 155.7L917.7 152.1L918.1 149.8L913.3 147.8L912.5 144.6L907.8 141.8L907.8 139.8L905.4 138.2L900.7 133.5L895.9 130.3L893.6 126.7L890 126.3L883.7 126.3L878.9 125.1L870.6 121.2L859.9 118.8L854.4 119.2L846.9 117.2L842.1 115.6L837.8 116.4L838.6 119.2L831.9 120.4L828.3 121.5L823.9 122.3L823.2 120.4L825.1 116.4L829.5 114L828.3 114L823.2 116.4L820.4 118.8L814.8 121.5L817.6 123.5L814.1 126.7L809.7 128.3L805.7 129.5L804.6 131.1L798.6 133.1L797.4 135.1L792.7 136.6L789.9 136.6L786.4 137.4L782.4 139L778.8 140.2L772.1 141.4L771.7 140.6L776.1 139L779.6 137.8L784 135.5L788.7 135.1L790.7 133.5L796.3 131.1L800.2 128.7L800.6 125.9L803 123.5L798.2 124.7L797 123.9L794.7 125.5L792.3 123.5L789.5 122.7L785.6 124.3L783.2 124.3L783.6 120.8L781.2 119.2L776.1 120L772.5 118L770.1 117.2L769.8 114.8L767 113.2L768.6 110.8L771.7 108.8L772.9 106.9L776.1 106.5L778.8 106.9L782 105.3L785.2 105.3L787.9 104.1L787.2 102.5L785.2 101.7L787.9 100.1L785.6 100.1L781.2 100.9L780 102.1L777.3 100.9L771.3 101.7L765.8 100.5L764.2 98.9L759.1 96.9ZM1337 103.3L1329.1 97.3L1337 93.7L1360.7 93.3L1368.6 97.3L1366.6 101.7L1352.8 105.7L1337 103.3ZM1401.5 158.9L1412.1 156.5L1429.5 154.1L1430.7 148.2L1425.2 145L1418.1 139L1416.1 135.1L1416.9 128.7L1411.3 124.7L1404.2 124.7L1400.3 131.1L1401.8 137.8L1405 139.8L1410.9 143L1412.1 145.8L1406.2 145.8L1408.2 149.8L1403.4 152.1L1412.1 153.3L1401.5 158.9ZM-22.5 158.9L-11.9 156.5L5.5 154.1L6.7 148.2L1.2 145L-5.9 139L-7.9 135.1L-7.1 128.7L-12.7 124.7L-19.8 124.7L-23.7 131.1L-22.2 137.8L-19 139.8L-13.1 143L-11.9 145.8L-17.8 145.8L-15.8 149.8L-20.6 152.1L-11.9 153.3L-22.5 158.9ZM1400.3 150.9L1399.5 145L1401.1 139.8L1396.3 137.8L1390.4 139L1384.4 142.2L1385.2 147L1383.3 152.1L1392.4 152.5L1400.3 150.9ZM114.7 194.2L122.6 194.2L130.5 190.7L138.4 190.7L146 193.4L152.3 195L160.2 194.6L164.2 192.7L164.6 189.1L158.2 184.7L151.5 181.1L144.8 177.6L140.4 178.4L132.5 180.7L129 177.2L132.9 175.2L125.4 172.4L121.4 172.8L117.5 176.8L113.5 180.7L110.8 185.1L110.4 188.7L110.8 192.3L114.7 194.2ZM187.1 176.8L193.8 172.8L202.5 170.8L209.6 171.6L210 177.6L202.9 178L202.9 180.7L199 181.1L202.9 185.9L208.1 188.7L208.9 193.8L213.2 196.2L209.2 198.6L210.8 201.4L213.2 209.7L204.1 211.3L198.2 208.9L193.8 205L195.8 197.8L192.2 191.5L187.9 186.7L188.3 183.9L184.7 180.3L187.1 176.8ZM43.5 45.7L51.4 40.5L63.3 38.9L79.1 37.7L106.8 38.9L87 45.7L75.2 51.6L63.3 53.6L51.4 49.7L43.5 45.7ZM178 36.9L189.9 35.8L205.7 36.1L201.7 37.7L185.9 38.1L178 36.9ZM706.1 75.1L712 73.1L719.9 73.5L721.1 75.5L712 76.3L706.1 75.1ZM561.7 174.8L567.6 172L565.6 160.9L571.6 162.9L566.4 152.9L565.6 145L563.7 141.8L561.7 145L560.9 150.9L561.7 158.9L561.3 166.8L561.7 174.8ZM553.8 190.7L555.8 185.9L559.7 184.7L560.5 177.2L565.6 181.9L575.5 185.5L569.6 187.1L566.8 190.7L557.7 191.5L553.8 190.7ZM557.3 192.7L559.7 196.6L561.7 200.6L557.7 205.4L557.3 210.5L556.5 214.5L556.9 218.5L553 218.9L549.8 220.1L541.9 220.1L541.1 221.3L537.2 224.4L534 220.1L526.1 221.3L518.2 222.4L518.2 220.1L524.1 216.5L530 216.1L538 215.7L541.1 209.3L542.7 211.3L547.8 208.5L551.8 204.6L553.8 199.4L555 195.4L557.3 192.7ZM514.2 223.2L518.2 222.8L520.2 228.4L519 233.2L515 233.6L515 228.4L512.6 225.2L514.2 223.2ZM524.1 225.6L524.1 222.4L530 221.3L532.8 223.2L529.3 225.2L525.7 227.2L524.1 225.6ZM475.1 266.1L477.8 270.5L480.6 267.3L482.2 259L480.6 257L477.4 260.2L475.1 266.1ZM429.6 281.2L433.1 285.2L437.1 283.2L439.1 279.2L437.1 277.7L431.9 278.1L429.6 281.2ZM477 284L483.4 284L484.6 290L481 294.7L481 301.1L490.5 305.9L487.7 305.9L477 300.7L474.7 293.9L477 284ZM482.6 329.7L484.6 325.7L490.5 323.7L496.4 319L500.4 328.9L498.4 333.3L495.2 335.3L490.5 331.7L482.6 329.7ZM491.7 307.8L497.2 308.6L496.4 313.8L494.4 317.8L492.1 315.8L491.7 311.8L491.7 307.8ZM482.6 310.6L486.9 311.8L487.7 317.8L484.6 320.6L482.6 315.8L482.6 310.6ZM463.6 324.5L469.5 318.6L472.7 312.6L471.5 317L466.8 322.1L463.6 324.5ZM433.1 350.4L431.2 357.5L435.1 363.5L435.9 369.4L441.8 370.6L447 370.2L452.9 372.6L458.8 372.6L460.8 367.4L460.8 361.5L464.8 355.5L466.4 351.5L469.9 352.7L466 347.6L468.7 339.6L471.5 336.8L464.8 330.5L462 330.1L458.8 333.7L454.9 338.4L449 342.4L441 347.6L439.1 350.7L433.5 349.6L433.1 350.4ZM377 335.3L385.7 336.8L389.6 341.6L396.7 348.8L401.5 350.7L407.4 354.3L411.4 361.5L413.4 365.4L419.3 369.4L418.9 373.4L418.5 380.5L413.4 380.5L404.7 373.4L399.5 367.4L395.6 359.5L391.6 353.5L387.6 347.6L381.7 342.8L377 335.3ZM416.1 384.5L419.3 380.9L428.4 382.5L437.1 384.9L445 384.9L452.9 388.1L452.5 392.1L439.1 390.1L429.2 388.5L421.3 386.9L416.1 384.5ZM469.9 369.4L472.7 357.5L476.6 355.5L490.5 354.3L495.2 351.5L492.5 355.9L478.6 355.5L478.6 361.5L487.7 360.7L482.6 365.4L484.6 375.4L480.6 376.2L477.8 368.2L475.9 379.3L472.3 379.3L469.9 369.4ZM504.3 350.4L507.1 354.3L509.1 351.5L506.3 357.5L508.7 360.7L504.7 358.7L504.3 350.4ZM506.3 370.2L514.2 369L517.8 372.6L510.3 371.8L506.3 370.2ZM498.4 370.2L503.1 370.6L502.4 372.6L499.2 372.2L498.4 370.2ZM490.5 398.4L494.4 393.2L502.4 390.5L496.4 395.2L490.5 398.4ZM452.9 389.7L456.9 390.1L460.8 390.9L464.8 390.9L470.7 391.3L476.6 390.5L486.1 390.1L484.6 392.1L476.6 392.9L470.7 392.9L462.8 393.2L456.9 392.5L452.9 389.7ZM470.7 395.2L476.6 396L477.4 398L471.9 396.8L470.7 395.2ZM518.2 362.7L524.1 359.1L530 361.1L534 370.6L543.9 363.5L557.7 367.8L571.6 372.6L577.5 379.3L583.4 382.1L584.6 389.3L593.3 399.2L585.4 398L577.5 390.1L569.6 387.7L566.8 393.2L563.7 394.4L557.7 393.6L551 389.7L545.9 390.9L545.1 379.3L534 374.6L528.1 372.6L522.1 368.6L529.3 367L522.1 365.4L518.2 362.7ZM586.6 379.7L593.3 379.3L599.3 377L602.4 374.6L600.5 379.3L595.3 382.5L587.4 381.7L586.6 379.7ZM596.5 367.8L602 371L605.6 375.8L604 376.2L599.7 371.4L596.5 367.8ZM611.5 377.4L616.7 383.3L615.1 384.9L611.9 380.5L611.5 377.4ZM631.7 394L636.1 396.4L633.7 396.8L631.7 394ZM636.4 390.9L638.8 395.6L638 395.6L636.4 390.9ZM621 386.5L623.4 390.1L621.8 390.5L621 386.5ZM659 415.5L661.4 420.7L659.4 420.7L659 415.5ZM649.1 438.1L654.6 441.7L660.6 446.1L658.2 446.1L652.3 441.7L649.1 438.1ZM701.3 426.6L706.1 427.4L705.3 429.8L701.7 429.4L701.3 426.6ZM707.6 422.2L712 423L708.8 424.2L707.6 422.2ZM449 444.9L450.9 462.8L454.9 474.7L454.9 490.6L456.9 493.7L466.8 496.5L474.7 492.2L488.5 492.2L498.4 485.8L510.3 483L520.2 482.6L530 487.4L536 495.7L539.9 491.8L545.1 487L545.1 498.9L549.8 498.5L553.8 506.5L561.7 510L571.6 509.2L579.1 512.8L585.4 507.6L593.3 506.5L596.5 494.5L603.2 484.6L607.2 468.7L605.2 458.8L597.3 450.8L591.4 446.1L587.4 438.9L578.7 433L575.5 421.1L574.3 416.3L567.6 413.1L563.7 400L560.1 407.2L559.7 419.1L556.9 427L551 427L541.9 420.3L536 417.1L540.7 406.4L538 405.2L524.5 403.2L518.2 406L512.2 416.7L506.3 417.1L500.4 413.1L494.4 417.1L488.5 425L483.4 429L478.6 435.4L469.9 438.1L461.6 439.3L452.9 444.1L449 444.9ZM572 519.2L586.6 520L586.6 525.1L581.5 530.7L575.5 526.3L572 519.2ZM683.1 494.1L690.2 500.5L694.2 504.5L706.1 507.3L703.7 513.2L699.7 514.4L692.2 522.3L690.6 521.6L692.2 516.4L687.5 513.2L690.6 508.4L688.3 502.5L683.1 494.1ZM683.1 518.4L689.5 523.1L684.3 531.1L677.2 534.3L674.4 540.2L668.5 542.6L658.6 540.2L660.6 536.2L666.1 532.3L675.6 527.5L680.4 521.6L683.1 518.4ZM316 331.7L316.4 318.6L320.4 323.7L323.6 328.5L321.6 332.9L317.2 333.7L316 331.7ZM195 405.2L199 419.1L195.8 425L191.8 438.9L186.7 456.8L178.8 458.8L174 456.4L171.3 444.9L175.2 436.9L174.8 425L183.1 420.3L187.9 415.9L191.8 410.7L195 405.2ZM127.8 219.7L130.5 216.9L136.9 215.7L134.1 218.5L130.5 220.1L127.8 219.7ZM93 217.3L96.9 216.9L104 217.7L98.9 218.9L93 217.3ZM49 207.3L53.4 205.8L61.7 205.4L59.7 211.7L49 207.3ZM33.2 202.6L33.2 195L36.4 193.8L38.8 196.6L38 201.8L33.2 202.6ZM34 191.1L37.2 186.7L38 189.9L36.4 193.1L34 191.1ZM1087.8 270.5L1099.6 267.3L1107.6 265.7L1117.4 270.9L1124.6 274.1L1130.5 277.3L1117.4 278.5L1115.5 274.9L1105.6 270.9L1095.7 270.1L1089.8 271.3L1087.8 270.5ZM1129.3 284.4L1136.4 278.5L1147.1 279.2L1153.8 283.6L1141.2 287.6L1129.3 284.4ZM1113.9 284.4L1122.6 286L1119.4 286.8L1113.9 284.4ZM1158.2 284L1164.5 284.8L1158.2 286L1158.2 284ZM1115.5 251.4L1119.4 252.2L1118.2 254.2L1115.5 251.4ZM1114.7 258.2L1117 261.4L1115.5 262.2L1114.7 258.2ZM1179.2 315L1183.1 314.6L1182.7 317.4L1179.2 317.4L1179.2 315ZM1189.4 168.4L1202.5 160.9L1204.5 152.5L1212.4 160.9L1215.5 168.8L1211.6 172L1204.5 170.8L1189.4 168.4ZM1168.9 159.3L1179.9 162.5L1174.8 161.7L1168.9 159.3ZM935.9 165.2L929.6 163.3L921.6 158.9L916.1 155.7L919.7 155.3L927.6 157.7L933.5 161.7L935.9 165.2ZM901.9 147.4L905 150.1L899.9 145.8L897.5 142.6L901.9 147.4ZM820.4 127.5L811.7 129.9L817.6 131.1L821.6 128.7L820.4 127.5ZM765.4 143.4L760.3 145.4L766.6 145L765.4 143.4ZM725.8 151.3L720.3 152.5L726.6 151.7L725.8 151.3ZM807.3 277.3L810.9 278.9L810.1 281.6L807.3 281.6L807.3 277.3ZM804.2 274.5L806.9 274.9L805.4 275.7L804.2 274.5ZM797.8 271.7L800.2 272.9L798.2 272.9L797.8 271.7ZM791.9 269.3L793.9 269.3L793.1 270.5L791.9 269.3ZM1181.9 563.7L1186.7 561.3L1189.8 562.1L1195.4 562.5L1192.6 564.5L1187.5 564.1L1181.9 563.7ZM1152.6 566.4L1153.8 568.4L1156.2 571.6L1161 574L1166.5 574.8L1164.9 576.8L1161 577.2L1157.8 577.2L1154.6 578.4L1150.3 578L1147.1 576.8L1143.2 576L1138 574L1134.1 572L1128.5 567.2L1132.1 568L1137.6 570.8L1142.8 572.4L1144.7 570.4L1145.9 567.6L1149.9 566L1152.6 566.4ZM272.1 551.3L278.9 552.5L274.9 554.9L272.1 551.3ZM0 640.9L2.5 640.6L16.4 638.6L29.5 634.3L36 634.8L42.6 638.6L49.1 635.3L55.7 634.8L60.6 637L65.5 634.8L81.9 635.3L88.4 638.1L114.6 636.5L127.7 633.7L134.3 628.8L142.4 631.9L147.4 631.6L153.9 634.3L160.5 630.7L176.8 627.5L188.3 625.5L193.2 623.4L199.8 622.6L204.7 619.8L216.1 618L226 619.3L232.5 623.4L240.7 624.5L245.6 627.1L253.8 624.5L271.8 626.7L276.7 631.6L270.2 634.8L268.5 637.3L273.4 638.6L269.3 642.2L275.1 644.7L281.6 643.8L293.1 634L306.2 633.2L312.7 628.8L327.5 624.2L343.8 623.4L348.8 619.6L353.7 623.4L376.6 624.2L396.2 623.4L407.4 617L420.9 623.2L436.8 621.9L443 619.1L450.3 618.3L457.7 621.9L463.9 622.6L474.9 624.4L486 620.7L498.2 622.6L510.5 622.3L519.1 620.3L533.9 619.9L535.7 616.2L541.2 622.6L559.6 621.9L578.1 623.2L580.5 627.5L596.5 630.2L608.8 631.2L611.2 628.7L621 632.6L633.3 634.2L641.9 637.9L657.9 637.9L680 641.6L670.2 649.6L657.9 652L649.3 656.9L648.1 663.1L653 668L661.6 669L660.3 671.1L640.7 671.7L634.5 678.4L640.7 682.7L653 686.4L670.2 690.1L687.4 692.6L700 691.6L713.9 693.8L718.8 691L735.1 693L751.5 688.9L764.6 693L789.2 696.2L805.5 696.2L838.3 697.1L861.2 693.3L838.3 691.3L820.3 688.9L818.6 686.4L822.7 683.1L807.2 679L821.9 677.4L846.5 675.8L843.2 672.5L823.6 670L807.2 667.6L799.8 661.9L817 662.7L823.6 664.3L844.8 659.4L848.1 656.1L854.7 656.9L871 654.5L892.3 651.2L928.3 648.8L954.5 650.1L975.8 649.6L984 653.7L1002 656.1L1026.6 654.5L1039.8 649.6L1059.5 647.1L1070.9 647.9L1074.2 645.5L1087.3 647.1L1105.3 650.4L1110.2 647.1L1126.6 651.2L1141.3 647.9L1159.3 645.5L1162.6 642.2L1154.4 634.8L1157.7 630.7L1159.3 624.2L1170.8 617.6L1177.4 613.6L1193.7 609.5L1200.3 609.5L1193.7 611.9L1180.6 616L1182.3 620.1L1174.1 621.7L1167.5 625L1169.2 628.3L1177.4 630.7L1183.9 637.3L1188 647.1L1183.9 652L1174.1 655.3L1157.7 658.6L1149.5 661L1136.4 661.9L1121.7 661.9L1128.2 664.3L1136.4 665.9L1128.2 667.6L1118.4 668.4L1118.4 671.7L1128.2 675.8L1152.8 680.7L1169.2 683.1L1190.5 684.8L1197 688.1L1210.1 684.8L1226.5 682.3L1242.9 682.3L1257.6 684L1262.5 681.5L1275.6 679.9L1314.9 676.6L1311.6 673.3L1292 672.5L1287.1 670L1288.7 666.8L1300.2 665.1L1316.5 660.2L1332.9 658.6L1349.3 656.1L1364 652.9L1364 648.8L1373.8 645.5L1385.3 640.6L1395.1 641.4L1401.7 638.6L1406.6 640.9L1421.3 639.8L1424 640M779.3 670.9L784.3 667.6L792.4 667.6L797.4 670.9L792.4 674.6L784.3 674.6ZM1129.9 642.2L1143 638.9L1144.6 632.4L1149.5 629.9L1156.1 637.3L1159.3 642.2L1144.6 645.5L1131.5 644.7ZM1213.4 676.6L1223.2 674.1L1234.7 666.8L1242.9 665.1L1254.3 668.4L1257.6 673.3L1252.7 675L1234.7 677.4L1213.4 677.4ZM1165.9 675L1185.5 674.1L1192.1 675.8L1188.8 679L1165.9 678.2ZM1018.4 645.5L1026.6 641.4L1046.2 643L1050 645.5L1031.5 647.1ZM1137.1 46.9L1146.5 50.7L1165.4 52.5L1189.8 56.3L1199.3 62L1208.7 69.5L1212.4 73.3L1223.7 77L1225.6 84.5L1216.2 86.4L1214.3 92.1L1220 101.5L1231.3 112.8L1240.7 116.6L1252 119.4L1257.6 114.7L1259.5 109L1265.2 103.4L1267 97.7L1278.3 94.9L1291.5 92.1L1299 88.3L1316 84.5L1334.8 80.8L1342.4 77L1340.5 69.5L1349.9 62L1349.9 56.3L1353.6 50.7L1349.9 43.1L1361.2 37.5L1380 34.7L1368.7 31.8L1344.2 30.9L1346.1 28.1L1316 25.2L1287.7 24.7L1268.9 25.8L1250.1 27.1L1242.6 28.1L1231.3 29.6L1216.2 30.9L1193.6 29.9L1182.3 29.6L1159.7 33.7L1152.2 39.4ZM1075 67.6L1090 64.8L1108.9 67.6L1125.8 68.5L1140.9 74.2L1155.9 78L1162.5 83.6L1182.3 92.1L1172.9 98.7L1168.2 105.3L1170.1 111.9L1161.6 110.9L1140.9 104.3L1133.4 101.5L1118.3 100.6L1127.7 95.8L1139 91.1L1129.6 87.4L1118.3 80.8L1108.9 80.8L1103.2 78L1086.3 77L1075 73.3ZM1082.5 101.5L1093.8 98.7L1110.8 103.4L1107 107.1L1095.7 110.9L1082.5 107.1ZM1118.3 63.8L1129.6 65.7L1127.7 69.5L1116.4 68.5ZM927.4 71.2L931.7 61.6L946.6 60.6L960.4 62.7L971.1 66.4L986 68L998.8 70.1L1000.9 67.5L1011.5 64.8L1014.2 68L1011.5 71.2L1015.8 77.6L1026.4 81.9L1022.2 86.1L1011.5 87.2L1000.9 86.1L986 82.9L971.1 81.9L960.4 77.6L951.9 73.3L941.3 72.3ZM941.3 54.2L951.9 49.9L966.8 48.9L967.9 52.1L960.4 54.2L951.9 56.3ZM976.4 47.8L983.9 43.5L993.4 44.6L994.5 47.8L983.9 49.9L977.5 48.9ZM960.4 58.4L973.2 56.3L989.2 53.1L999.8 53.1L1009.4 55.2L1009.4 59.5L994.5 60.6L978.5 61.6L964.7 60ZM1009.4 42.5L1021.1 42.5L1031.7 45.7L1032.8 48.9L1022.2 47.8L1010.5 45.7ZM1020 53.1L1034.9 52.1L1039.2 54.2L1040.3 58.4L1032.8 60.6L1021.1 58.4ZM1037.1 44.6L1045.6 43.5L1054.1 46.7L1056.2 51L1047.7 52.1L1039.2 48.9ZM1021.1 67L1032.8 64.8L1042.4 65.9L1044.5 70.1L1037.1 73.3L1026.4 71.2L1022.2 69.1ZM1031.7 81.9L1042.4 78.7L1053 81.9L1054.1 86.1L1047.7 89.3L1037.1 86.1ZM1045.6 62.7L1056.2 60.6L1063.7 63.8L1060.5 68L1050.9 68ZM1043.5 38.8L1053 34L1069 31.3L1090.3 29.7L1100.9 30.8L1105.2 37.7L1092.4 39.3L1079.6 41.9L1069 45.1L1058.4 44.1L1047.7 41.9ZM1065.8 30.8L1085 28.6L1100.9 27L1122.2 25.4L1143.5 25.7L1180 26.5L1180 29.7L1159.5 32.4L1148.8 37.7L1132.9 40.9L1122.2 41.9L1111.6 49.9L1100.9 53.1L1109.4 44.6L1107.3 39.3L1100.9 34L1085 32.4L1071.1 32.9ZM1071.1 52.1L1085 49.9L1100.9 53.1L1111.6 55.2L1111.6 60.6L1100.9 60.6L1079.6 59.5L1072.2 56.3ZM202.9 72L212.7 62.2L220.9 58.1L245.5 53.2L270.1 51.6L273.3 53.2L268.4 54.8L245.5 58.9L225.8 67.1L219.3 73.7L227.5 76.9L212.7 76.9ZM360.1 38.5L376.5 33.6L396.1 39.3L397.8 44.2L376.5 42.6L361.7 39.3ZM394.5 45.8L406 42.6L417.4 45L409.2 49.1L396.1 49.1ZM541.9 57.3L556.6 54L576.2 56.5L576.2 60.6L556.6 61.4L543.5 59.8Z" fill="none" stroke="#000" stroke-width="4.6" stroke-linejoin="round" stroke-linecap="round"/>
<clipPath id="clipA"><rect x="150" y="352" width="1424" height="715"/></clipPath>
<clipPath id="clipB"><rect x="1980" y="352" width="1424" height="715"/></clipPath>
<clipPath id="clipC"><rect x="150" y="1507" width="1424" height="715"/></clipPath>
<clipPath id="clipD"><rect x="1980" y="1507" width="1424" height="715"/></clipPath>
<path id="white" d="M113.8 203L120.3 198.4L136.8 195.6L160.8 192.9L166.3 182.7L171.8 181.8L177.4 184.6L186.6 186.4L188.4 197.5L192.1 208.5L199.5 212.2L210.5 213.1L214.2 208.5L225.3 205.8L232.6 206.7L241.8 213.1L262.1 213.1L263 198.4L273.1 185.5L291.6 181.8L308.1 179L321 170.8L330.2 166.2L328.4 156.9L337.6 149.6L354.2 144L368.9 141.3L380 137.6L394.7 138.5L403.9 142.2L420.5 143.1L422.3 138.5L431.6 131.2L442.6 125.6L457.3 121L466.6 123.8L521.8 124.7L534.7 131.2L531 137.6L523.7 142.2L483.1 143.1L479.5 145.9L489.6 154.2L485 158.8L485 168L479.5 171.7L475.8 179L470.2 188.3L461 197.5L451.8 206.7L442.6 215.9L440.8 223.3L440.8 236.1L433.4 238.9L427 235.2L416.8 234.3L416.8 239.8L424.2 242.6L431.6 243.5L431.6 252.7L420.5 260.1L416.8 267.5L415 279.4L383.7 279.4L381.8 254.6L337.6 253.6L330.2 249L317.4 245.4L293.4 228.8L282.4 228.8L282.4 235.2L269.5 244.4L262.1 250.9L254.7 252.7L241.8 251.8L225.3 249L214.2 243.5L199.5 234.3L184.7 223.3L177.4 219.6L168.2 212.2L158.9 209.4L146 208.5L136.8 208.5L118.4 206.7ZM109.1 339L132.9 338L152.8 352.8L152.8 380.6L147.8 381.6L147.8 396.5L142.9 398.5L142.9 416.3L129 419.3L129 424.3L132.9 430.2L131 438.2L119 445.1L127 452L127 462L125 469.9L119 477.8L107.1 485.8L95.2 489.7L83.3 489.7L75.4 485.8L69.4 475.9L63.5 465.9L58.5 456L53.6 436.2L47.6 426.3L47.6 416.3L51.6 406.4L54.6 398.5L59.5 394.5L60.5 384.6L69.4 378.6L79.4 381.6L95.2 380.6L103.2 378.6L104.2 354.8L109.1 352.8ZM134.9 311.2L138.9 301.3L148.8 293.3L158.7 297.3L166.7 307.2L172.6 311.2L184.5 321.1L178.6 327L168.7 331L166.7 337L152.8 346.9L138.9 337L134.9 331ZM144.8 239.7L150.8 237.8L158.7 241.7L170.6 249.7L178.6 259.6L182.5 267.5L180.6 273.5L186.5 281.4L194.4 289.3L196.4 295.3L186.5 299.3L172.6 305.2L170.6 295.3L162.7 283.4L158.7 269.5L152.8 259.6L148.8 249.7ZM14.9 256.6L19.8 252.6L35.7 251.7L47.6 256.6L48.6 265.5L41.7 269.5L27.8 272.5L17.9 270.5L14.9 263.6ZM59.5 269.5L65.5 266.5L75.4 267.5L78.4 273.5L75.4 278.4L65.5 279.4L60.5 275.5ZM83.3 291.3L89.3 289.3L99.2 291.3L108.1 297.3L103.2 305.2L95.2 310.2L87.3 308.2L84.3 301.3ZM39.7 330L45.6 327L59.5 327L66.5 333L61.5 339L47.6 339.9L40.7 337ZM-1 219.9L7.9 217.9L13.9 221.9L9.9 227.8L-1 231.8ZM178.6 429.2L186.5 427.2L191.5 432.2L189.5 439.2L182.5 441.1L178.6 436.2ZM819.5 108.5L832.2 102.9L849.7 99.7L867.1 94.2L913.2 94.2L921.1 99L935.4 103.7L937 117.2L943.3 122L952.9 126.7L970.3 133.1L981.4 137.8L991 152.1L1006.8 158.5L1011.6 164.8L1025.9 177.5L1030.6 188.6L1035.4 193.4L1035.4 202.9L1030.6 206.1L1030.6 224.3L1025.9 228.3L1025.9 247.4L1035.4 256.9L1037 272.8L1048.1 287L1044.9 290.2L1032.2 287L1011.6 277.5L1008.4 271.2L1000.5 258.5L995.7 252.1L983 237.8L981.4 224.3L968.7 220.4L952.9 217.2L944.9 207.7L940.2 198.2L937 188.6L940.2 179.1L946.5 172.8L940.2 168L933.8 163.2L924.3 150.5L913.2 141L902.1 131.5L897.3 125.1L884.6 123.6L865.6 118.8L844.9 115.6L835.4 114L819.5 111.7ZM825.9 83.9L854.4 83.9L856 86.3L852.9 87.8L825.9 87.8ZM1122.7 329.8L1143.5 322.9L1144.5 336.8L1139.5 344.7L1131.6 349.7L1126.6 357.6L1122.7 369.5L1125.6 379.4L1131.6 387.4L1137.5 397.3L1145.5 402.2L1159.4 411.2L1179.2 427L1179.2 448.9L1175.2 452.8L1173.3 466.7L1167.3 472.7L1163.3 482.6L1161.3 492.5L1159.4 506.4L1156.4 512.4L1164.3 520.3L1158.4 526.3L1147.5 534.2L1141.5 530.2L1139.5 510.4L1143.5 486.6L1145.5 466.7L1148.5 446.9L1147.5 430L1143.5 425.1L1129.6 417.1L1123.7 411.2L1119.7 403.2L1113.7 391.3L1109.8 379.4L1107.8 371.5L1111.7 357.6L1119.7 347.7L1122.7 337.8ZM1141.5 543.1L1145.5 541.1L1149.4 545.1L1145.5 548.5L1141.9 546.1ZM1231.8 419.1L1244.7 413.2L1248.7 416.1L1244.7 422.1L1247.7 427L1254.6 425.1L1258.6 429L1257.6 439L1250.6 444.9L1242.7 446.9L1236.7 439L1234.8 429L1231.8 423.1ZM1221.9 456.8L1226.8 454.8L1229.8 459.8L1227.8 464.7L1222.9 464.7L1221.3 460.8ZM505.9 90.1L510.5 87.2L521.9 91.2L524.2 93.5L536.8 93.5L540.3 90.1L568.9 90.1L573.5 93.5L585 94.1L598.7 105L598.7 108.4L603.3 109L609 112.4L604.4 115.9L588.4 116.5L572.3 118.7L559.7 119.9L550.6 122.8L541.4 117.6L540.8 107.3L535.7 104.4L519.6 103.3L511.6 100.4L505.9 97ZM368.3 86.1L380.9 79.8L390.1 86.1L386.7 88.9L370.6 88.9ZM529.9 143.4L538 149.7L529.9 156L521.9 149.7ZM20.4 170.5L29.1 164.7L49.5 163.2L59.7 169L55.4 177.8L35 182.2L21.9 179.2ZM32.1 112.2L37.9 109.3L46.6 111.6L43.7 115.1L33.5 115.1ZM1404.2 192.4L1420.2 188L1426 189.4L1426 205.5L1411.5 205.5ZM1394 225.9L1420.2 220L1426 221.5L1426 237.5L1399.8 241.9L1394 234.6ZM539.2 368.7L553.7 370.1L555.2 375.1L540.6 374.5ZM559.6 375.1L577.1 377.4L578.5 383.8L561 382.6ZM1167.2 47.8L1182.3 39.4L1199.3 34.7L1250.1 30.9L1297.2 31.8L1319.8 33.7L1334.8 46.9L1338.6 58.2L1329.2 67.6L1319.8 75.1L1319.8 78.9L1306.6 84.5L1278.3 94L1265.2 99.6L1259.5 109L1253.9 118.4L1235 115.6L1229.4 103.4L1225.6 95.8L1229.4 88.3L1229.4 78.9L1214.3 69.5L1204.9 60.1L1189.8 53.5L1172.9 51.6ZM460.1 160.6L470.2 160.6L470.2 166.2L465.6 168.9L460.1 168ZM337.6 172.2L346.8 172.2L346.8 175.7L337.6 175.7ZM0 640.9L2.5 640.6L16.4 638.6L29.5 634.3L36 634.8L42.6 638.6L49.1 635.3L55.7 634.8L60.6 637L65.5 634.8L81.9 635.3L88.4 638.1L114.6 636.5L127.7 633.7L134.3 628.8L142.4 631.9L147.4 631.6L153.9 634.3L160.5 630.7L176.8 627.5L188.3 625.5L193.2 623.4L199.8 622.6L204.7 619.8L216.1 618L226 619.3L232.5 623.4L240.7 624.5L245.6 627.1L253.8 624.5L271.8 626.7L276.7 631.6L270.2 634.8L268.5 637.3L273.4 638.6L269.3 642.2L275.1 644.7L281.6 643.8L293.1 634L306.2 633.2L312.7 628.8L327.5 624.2L343.8 623.4L348.8 619.6L353.7 623.4L376.6 624.2L396.2 623.4L407.4 617L420.9 623.2L436.8 621.9L443 619.1L450.3 618.3L457.7 621.9L463.9 622.6L474.9 624.4L486 620.7L498.2 622.6L510.5 622.3L519.1 620.3L533.9 619.9L535.7 616.2L541.2 622.6L559.6 621.9L578.1 623.2L580.5 627.5L596.5 630.2L608.8 631.2L611.2 628.7L621 632.6L633.3 634.2L641.9 637.9L657.9 637.9L680 641.6L670.2 649.6L657.9 652L649.3 656.9L648.1 663.1L653 668L661.6 669L660.3 671.1L640.7 671.7L634.5 678.4L640.7 682.7L653 686.4L670.2 690.1L687.4 692.6L700 691.6L713.9 693.8L718.8 691L735.1 693L751.5 688.9L764.6 693L789.2 696.2L805.5 696.2L838.3 697.1L861.2 693.3L838.3 691.3L820.3 688.9L818.6 686.4L822.7 683.1L807.2 679L821.9 677.4L846.5 675.8L843.2 672.5L823.6 670L807.2 667.6L799.8 661.9L817 662.7L823.6 664.3L844.8 659.4L848.1 656.1L854.7 656.9L871 654.5L892.3 651.2L928.3 648.8L954.5 650.1L975.8 649.6L984 653.7L1002 656.1L1026.6 654.5L1039.8 649.6L1059.5 647.1L1070.9 647.9L1074.2 645.5L1087.3 647.1L1105.3 650.4L1110.2 647.1L1126.6 651.2L1141.3 647.9L1159.3 645.5L1162.6 642.2L1154.4 634.8L1157.7 630.7L1159.3 624.2L1170.8 617.6L1177.4 613.6L1193.7 609.5L1200.3 609.5L1193.7 611.9L1180.6 616L1182.3 620.1L1174.1 621.7L1167.5 625L1169.2 628.3L1177.4 630.7L1183.9 637.3L1188 647.1L1183.9 652L1174.1 655.3L1157.7 658.6L1149.5 661L1136.4 661.9L1121.7 661.9L1128.2 664.3L1136.4 665.9L1128.2 667.6L1118.4 668.4L1118.4 671.7L1128.2 675.8L1152.8 680.7L1169.2 683.1L1190.5 684.8L1197 688.1L1210.1 684.8L1226.5 682.3L1242.9 682.3L1257.6 684L1262.5 681.5L1275.6 679.9L1314.9 676.6L1311.6 673.3L1292 672.5L1287.1 670L1288.7 666.8L1300.2 665.1L1316.5 660.2L1332.9 658.6L1349.3 656.1L1364 652.9L1364 648.8L1373.8 645.5L1385.3 640.6L1395.1 641.4L1401.7 638.6L1406.6 640.9L1421.3 639.8L1424 640L1430 730L-6 730Z" fill="#fff" fill-rule="evenodd"/>
<path id="beige" d="M87.3 325.1L97.2 322.1L105.2 329L103.2 335L95.2 336L89.3 330ZM937 117.2L943.3 122L952.9 126.7L970.3 133.1L981.4 137.8L980.6 141.8L968.7 136.3L952.9 130.7L941.7 125.9L937 122ZM458.3 97L462.3 92.4L469.8 91.2L478.4 92.4L481.8 96.4L477.2 101.6L469.8 102.7L461.2 101ZM613.6 106.1L620.5 100.4L630 98.1L630 108.4L619.3 109.6ZM614.9 104.9L629.5 97.6L652.8 91.8L665.9 93.3L658.7 102L635.3 108.4L617.9 109.3Z" fill="#e6d7cf"/>
<path id="fringe" d="M328.4 156.9L337.6 149.6L354.2 144L368.9 141.3L380 137.6L394.7 138.5L403.9 142.2L420.5 143.1L422.3 138.5L431.6 131.2L442.6 125.6L457.3 121M160.8 192.9L166.3 182.7L171.8 181.8M832.2 102.9L849.7 99.7L867.1 94.2" fill="none" stroke="#eccbbb" stroke-width="7" stroke-linejoin="round"/>
<path id="antblue" d="M820.3 689.7L861.2 693.8L877.6 688.9L877.6 679.9L867.8 676.9L854.7 673.3L843.2 668.4L833.4 665.1L820.3 663.5L807.2 666.8L805.5 675L813.7 683.1Z"/>
<linearGradient id="streak" gradientUnits="userSpaceOnUse" x1="455" y1="0" x2="749" y2="0"><stop offset="0" stop-color="#eca04a"/><stop offset="0.15" stop-color="#d88a38"/><stop offset="0.3" stop-color="#f8c072"/><stop offset="0.5" stop-color="#e08a30"/><stop offset="0.75" stop-color="#b45e10"/><stop offset="1" stop-color="#9a4a0a"/></linearGradient>
</defs>
<rect width="3760" height="2327" fill="#fff"/>
<g clip-path="url(#clipA)">
<rect x="150" y="352" width="1424" height="715" fill="#ccd9ed"/>
<use href="#beige" transform="translate(150 352)"/>
<use href="#fringe" transform="translate(150 352)"/>
<use href="#white" transform="translate(150 352)"/>
<use href="#antblue" transform="translate(150 352)" fill="#ccd9ed"/>
<use href="#coast" transform="translate(150 352)"/>
</g>
<rect x="150" y="352" width="1424" height="715" fill="none" stroke="#000" stroke-width="5.5"/>
<path d="M147.3 352H129.5M147.3 471.2H129.5M147.3 590.3H129.5M147.3 709.5H129.5M147.3 828.7H129.5M147.3 947.8H129.5M147.3 1067H129.5M150 1069.7V1087.5M387.3 1069.7V1087.5M624.7 1069.7V1087.5M862 1069.7V1087.5M1099.3 1069.7V1087.5M1336.7 1069.7V1087.5" stroke="#000" stroke-width="5.2" fill="none"/>
<g clip-path="url(#clipB)">
<rect x="1980" y="352" width="1424" height="715" fill="#ccd9ed"/>
<use href="#beige" transform="translate(1980 352)"/>
<use href="#fringe" transform="translate(1980 352)"/>
<use href="#white" transform="translate(1980 352)"/>
<use href="#antblue" transform="translate(1980 352)" fill="#ccd9ed"/>
<use href="#coast" transform="translate(1980 352)"/>
</g>
<rect x="1980" y="352" width="1424" height="715" fill="none" stroke="#000" stroke-width="5.5"/>
<path d="M1977.3 352H1959.5M1977.3 471.2H1959.5M1977.3 590.3H1959.5M1977.3 709.5H1959.5M1977.3 828.7H1959.5M1977.3 947.8H1959.5M1977.3 1067H1959.5M1980 1069.7V1087.5M2217.3 1069.7V1087.5M2454.7 1069.7V1087.5M2692 1069.7V1087.5M2929.3 1069.7V1087.5M3166.7 1069.7V1087.5" stroke="#000" stroke-width="5.2" fill="none"/>
<g clip-path="url(#clipC)">
<rect x="150" y="1507" width="1424" height="715" fill="#ffffff"/>
<g transform="translate(150 1507)"><path d="M455.7 33.6L468.8 30.3L481.9 29.5L485.1 26.2L506.4 22.9L524.4 15.6L550.6 14.7L604.7 11.5L748.8 11.5L737.3 18L691.4 18.8L678.3 26.2L614.5 26.2L593.2 30.3L555.5 30.3L531 34.4L527.7 37.7L508.1 37.7L498.2 34.7L458.9 37.7Z" fill="url(#streak)"/><path d="M87.4 99.1L163.2 96.2L204 102L256.5 110.7L256.5 122.4L227.3 142.8L174.9 145.7L122.4 139.9L96.2 128.2Z" fill="#e6e4ef"/><path d="M23.3 93.3L58.3 87.4L87.4 84.5L116.6 87.4L151.6 87.4L157.4 96.2L122.4 99.1L87.4 104.9L58.3 110.7L35 116.6L23.3 104.9Z" fill="#efc797" fill-opacity="0.70"/><path d="M0 102L17.5 116.6L58.3 139.9L72.9 163.2L58.3 174.9L29.1 174.9L0 163.2Z" fill="#c4bcda" fill-opacity="0.80"/><path d="M314.8 125.3L335.2 107.8L367.2 104.9L387.6 116.6L390.5 128.2L373 139.9L341 145.7L317.7 139.9Z" fill="#cdc8e1"/><path d="M393.4 128.2L408 99.1L425.5 87.4L437.2 72.9L501.3 71.4L507.1 87.4L480.9 107.8L466.3 122.4L437.2 128.2L422.6 142.8L402.2 137Z" fill="#eec394" fill-opacity="0.85"/><path d="M510 81.6L582.9 77.2L670.3 74.3L712 75.8L712 93.3L670.3 102L612 104.9L553.7 99.1L518.8 93.3Z" fill="#dcd9ea"/><path d="M0 174.9L72.9 163.2L116.6 163.2L163.2 163.2L204 163.2L233.2 177.8L218.6 189.4L174.9 189.4L145.7 204L102 209.8L58.3 209.8L23.3 204L0 198.2Z" fill="#d49a66" fill-opacity="0.12"/><path d="M282.7 230.2L308.9 239L335.2 250.6L378.9 253.6L381.8 268.1L349.7 279.8L320.6 291.4L291.4 288.5L285.6 262.3Z" fill="#b86a25" fill-opacity="0.18"/><path d="M416.8 274L437.2 239L466.3 204L495.5 189.4L539.2 189.4L547.9 218.6L542.1 247.7L495.5 268.1L466.3 291.4L431.3 303.1Z" fill="#efe0d6"/><path d="M495.5 221.5L524.6 209.8L547.9 221.5L542.1 247.7L512.9 256.5L492.5 241.9Z" fill="#d28e4c" fill-opacity="0.19"/><path d="M501.3 192.4L524.6 174.9L547.9 180.7L553.7 204L539.2 227.3L512.9 224.4Z" fill="#c8813a" fill-opacity="0.15"/><path d="M37.9 320.6L58.3 308.9L87.4 313.3L122.4 314.8L128.2 335.2L110.7 357.9L43.7 357.9L35 338.1Z" fill="#b87a45" fill-opacity="0.17"/><path d="M539.2 142.8L568.3 145.7L571.2 163.2L547.9 174.9L530.4 163.2Z" fill="#c8904f" fill-opacity="0.12"/><path d="M670.3 204L699.5 201.1L712 209.8L712 227.3L684.9 230.2L670.3 221.5Z" fill="#d9a06a" fill-opacity="0.15"/><path d="M617.9 174.9L629.5 174.9L638.3 189.4L638.3 198.2L629.5 198.2L626.6 186.5L617.9 183.6Z" fill="#8a4a10" fill-opacity="0.90"/><path d="M198.2 93.3L215.7 90.3L221.5 96.2L212.8 100.5L201.1 99.1Z" fill="#7f3b08" fill-opacity="0.90"/><path d="M460.5 160.3L469.2 160.3L469.2 167.6L460.5 167.6Z" fill="#3f1268" fill-opacity="0.90"/><path d="M723.7 67L747 62.7L784.9 65.6L805.3 72.9L793.6 84.5L755.7 84.5L723.7 81.6Z" fill="#c8c3df"/><path d="M805.3 84.5L916 81.6L924.8 93.3L857.7 99.1L808.2 96.2Z" fill="#ececf3"/><path d="M959.7 102L988.9 93.3L1018 99.1L1035.5 110.7L1035.5 119.5L988.9 119.5L962.6 116.6Z" fill="#a69ccb"/><path d="M1026.8 134.1L1061.7 128.2L1090.9 116.6L1120 116.6L1149.2 139.9L1149.2 174.9L1120 192.4L1061.7 201.1L1032.6 186.5L1026.8 163.2Z" fill="#f6e6da"/><path d="M1085 113.7L1114.2 110.7L1120 128.2L1108.4 137L1088 131.1Z" fill="#f0b070" fill-opacity="0.90"/><path d="M1032.6 174.9L1076.3 180.7L1134.6 189.4L1128.8 218.6L1105.4 233.2L1047.2 230.2L1032.6 204Z" fill="#c07a3d" fill-opacity="0.12"/><path d="M910.2 189.4L927.7 172L945.2 180.7L951 221.5L936.4 244.8L916 233.2L907.3 209.8Z" fill="#c9c3e0"/><path d="M712 180.7L735.3 154.5L770.3 163.2L799.4 157.4L822.7 139.9L857.7 131.1L901.4 137L933.5 151.6L933.5 174.9L886.9 192.4L828.6 192.4L784.9 198.2L741.1 201.1L712 201.1Z" fill="#c58a55" fill-opacity="0.11"/><path d="M712 195.3L747 195.3L748.4 215.7L712 217.1Z" fill="#d6d2e6"/><path d="M942.2 233.2L968.5 221.5L983 233.2L988.9 262.3L1003.4 285.6L974.3 285.6L951 262.3Z" fill="#b8743a" fill-opacity="0.14"/><path d="M1187.1 84.5L1207.5 84.5L1224.9 96.2L1245.3 122.4L1236.6 134.1L1198.7 134.1L1190 116.6Z" fill="#8f84ba"/><path d="M1265.7 99.1L1309.5 87.4L1338.6 72.9L1367.7 55.4L1388.1 53.9L1388.1 61.2L1367.7 75.8L1367.7 102L1324 104.9L1280.3 104.9Z" fill="#a59bcb"/><path d="M1236.6 151.6L1280.3 125.3L1324 116.6L1367.7 104.9L1424 104.9L1424 151.6L1382.3 174.9L1353.2 174.9L1294.9 163.2L1251.2 163.2Z" fill="#cf8c48" fill-opacity="0.14"/><path d="M1155 209.8L1192.9 198.2L1265.7 189.4L1338.6 189.4L1338.6 201.1L1280.3 206.9L1236.6 215.7L1192.9 233.2L1157.9 241.9Z" fill="#f3cfa3" fill-opacity="0.80"/><path d="M1117.1 357.9L1125.8 320.6L1149.2 314.8L1192.9 314.8L1230.8 335.2L1233.7 357.9Z" fill="#b86d2d" fill-opacity="0.17"/><path d="M1382.3 308.9L1411.5 306L1424 314.8L1424 332.2L1388.1 329.3Z" fill="#b86d2d" fill-opacity="0.12"/><path d="M37.9 357L104.9 357L104.9 380.3L58.3 380.3Z" fill="#b87a45" fill-opacity="0.17"/><path d="M26.2 453.2L43.7 441.5L64.1 467.7L69.9 491.1L49.5 488.1L32.1 473.6Z" fill="#b7a6c8" fill-opacity="0.60"/><path d="M454.7 444.4L495.5 412.4L524.6 406.5L568.3 409.5L582.9 429.9L606.2 459L606.2 488.1L582.9 511.5L553.7 514.4L518.8 494L480.9 494L457.6 485.2Z" fill="#c0834f" fill-opacity="0.19"/><path d="M0 508.6L87.4 494L174.9 485.2L262.3 499.8L320.6 520.2L408 508.6L495.5 494L612 488.1L699.5 508.6L699.5 543.5L612 561L524.6 543.5L437.2 561L378.9 561L320.6 578.5L262.3 587.2L174.9 566.8L116.6 558.1L58.3 555.2L0 555.2Z" fill="#c79060" fill-opacity="0.10"/><path d="M308.9 523.1L349.7 520.2L378.9 537.7L416.8 561L413.8 607.6L378.9 613.5L346.8 613.5L364.3 596L393.4 578.5L378.9 566.8L349.7 578.5L320.6 566.8L314.8 543.5Z" fill="#b1a8d2" fill-opacity="0.85"/><path d="M478 561L510 537.7L553.7 543.5L597.5 561L641.2 572.7L612 590.2L582.9 604.7L524.6 590.2L495.5 578.5Z" fill="#c2bcdc"/><path d="M437.2 578.5L454.7 558.1L478 552.3L472.1 578.5L466.3 604.7L504.2 613.5L480.9 616.4L443 607.6Z" fill="#eba659"/><path d="M198.2 610.6L233.2 610.6L326.4 613.5L323.5 622.2L233.2 623.7L204 616.4Z" fill="#f3c699" fill-opacity="0.80"/><path d="M37.9 566.8L52.5 558.1L72.9 572.7L93.3 587.2L72.9 594.5L43.7 590.2Z" fill="#f0dccd"/><path d="M612 491.1L655.7 496.9L699.5 520.2L693.6 546.4L655.7 546.4L617.9 520.2Z" fill="#b0682a" fill-opacity="0.15"/><path d="M247.7 572.7L276.9 561L291.4 569.8L279.8 584.3L256.5 585.8Z" fill="#7f3b08" fill-opacity="0.85"/><path d="M712 572.7L729.5 555.2L755.7 543.5L764.5 531.9L799.4 549.4L816.9 561L808.2 581.4L784.9 587.2L735.3 587.2L712 581.4Z" fill="#f1d2b2" fill-opacity="0.90"/><path d="M857.7 520.2L886.9 512.9L889.8 534.8L875.2 546.4L857.7 531.9Z" fill="#cac4e0"/><path d="M1061.7 578.5L1085 566.8L1108.4 563.9L1117.1 584.3L1102.5 596L1090.9 613.5L1070.5 613.5L1061.7 598.9Z" fill="#e2e0ee"/><path d="M1120 362.8L1178.3 357L1289.1 374.5L1274.5 415.3L1236.6 459L1207.5 494L1178.3 520.2L1166.7 496.9L1172.5 444.4L1149.2 400.7L1125.8 380.3Z" fill="#b76a28" fill-opacity="0.19"/><path d="M1166.7 520.2L1207.5 508.6L1265.7 499.8L1324 494L1424 496.9L1424 555.2L1382.3 584.3L1294.9 578.5L1236.6 581.4L1192.9 566.8Z" fill="#c07a3d" fill-opacity="0.11"/><path d="M723.7 647L764.5 639.7L773.2 648.4L764.5 657.2L723.7 657.2Z" fill="#c8741e"/><path d="M901.4 531.9L974.3 529L1061.7 523.1L1090.9 537.7L1061.7 561L1003.4 578.5L945.2 578.5L910.2 566.8Z" fill="#c58a55" fill-opacity="0.09"/><path d="M1090.9 422.6L1099.6 422.6L1101.1 435.7L1090.9 437.1Z" fill="#7f3b08" fill-opacity="0.90"/><path d="M799.4 453.2L843.1 453.2L849 479.4L814 502.7L799.4 496.9Z" fill="#a56a35" fill-opacity="0.12"/><path d="M67.7 170L82.9 172.8L83.3 170.4L68.1 167.6ZM35 173L31.4 178.9L25.2 174.4L27.3 169.7ZM193.2 171.8L191.7 174.6L186.5 171L189.5 167.5ZM59.2 179.6L72.7 184.8L73.5 182.8L60 177.6ZM51.6 182.6L54.9 190L57.2 189L53.9 181.6ZM163.9 188.5L159.8 190.2L158.5 187.5L159.9 184.5ZM199.4 186.1L195 188.7L193.7 185.6L196.7 183.1ZM86.3 186.3L82.4 188.8L78.9 186.4L81.6 181.8ZM186.6 186.5L180 193.1L174.2 185.7L180.3 180.8ZM27.2 191.3L42.9 204.3L44.9 201.9L29.2 188.9ZM327.1 244.6L324.6 249.8L320.5 247.2L325.1 242.7ZM302.9 282.8L314.6 296.5L316.4 295L304.7 281.2ZM515.6 220.7L513.8 224.2L509.8 221L510.9 217ZM524.6 216.1L537.4 230.2L539.3 228.4L526.5 214.3ZM534.9 196.8L537.8 206.3L540.4 205.5L537.5 195.9ZM48.6 345.3L44.8 352.5L47.5 354L51.4 346.8ZM56.2 354.9L49.2 356.6L45.5 351.6L51.8 347.7ZM118.9 331.1L111.4 335.8L107.1 331L110.5 326.3ZM58.2 356.5L52 360.1L46.8 352.9L53.5 349.4ZM114.9 342.2L104 358.9L106.5 360.5L117.4 343.9ZM546.3 149.8L544.4 155.4L535.1 150L538.7 143.3ZM1121.4 211.1L1118.1 213.9L1115.3 210.5L1117.5 207.8ZM1079.1 193.9L1088.6 202.7L1090.6 200.5L1081.2 191.7ZM1067.4 193.5L1056.2 199.2L1057.6 201.8L1068.7 196.1ZM1121 190.8L1114.6 197.9L1116.9 200L1123.3 192.9ZM725.4 186.6L716.3 193.5L717.6 195.2L726.7 188.3ZM914.1 133.5L900 146.7L901.8 148.7L916 135.4ZM740.2 175.9L757.7 182.5L758.8 179.7L741.2 173.1ZM880.9 141.4L896.7 149.1L897.8 146.9L882 139.1ZM792.6 157.3L789.4 169.9L791.3 170.4L794.5 157.8ZM867.9 166.5L883.3 169.4L883.8 167L868.3 164ZM784 183.6L781.6 184.8L775.4 181.6L779.7 177.5ZM923.4 158.5L933.5 174.9L935.7 173.5L925.6 157.2ZM875.4 125.7L871.4 145.4L873.4 145.8L877.5 126.1ZM847.2 164L843.2 166.7L840.5 164.1L845.8 160.3ZM965.2 268.9L968.7 276.7L971 275.7L967.5 267.8ZM968.1 274.1L974.1 281.1L975.8 279.7L969.7 272.7ZM961.4 218L956.8 233L959.6 233.9L964.2 218.9ZM959.9 241.8L965.1 250.8L967.8 249.2L962.6 240.3ZM1330.7 160.9L1328.7 162.6L1324.7 160.6L1327.3 156.1ZM1398.3 126L1395.3 132.5L1388.2 127L1393.9 123.2ZM1304.7 159.6L1299.2 167L1301.1 168.4L1306.5 161ZM1420.5 130.3L1414.5 133.9L1411 130.9L1414 125.9ZM1325.1 162L1321.1 167.4L1316.7 162.7L1320.2 160.1ZM1334.2 164.8L1329.1 169.1L1327.6 163.4L1331.5 159.8ZM1276.6 138L1256.3 143.7L1256.9 146.1L1277.3 140.4ZM1361 145.5L1358.7 149.7L1353 146.8L1355.2 141.4ZM1365.1 144.6L1355.1 145.2L1355.2 147.3L1365.2 146.8ZM1165.3 340L1157.3 344L1158.2 345.8L1166.2 341.8ZM1152.3 318.9L1152.8 328.5L1156 328.4L1155.5 318.7ZM1180.7 332.8L1167.5 346.8L1169.8 348.9L1183 334.9ZM1135.2 336.7L1132.9 339.9L1129.7 337.6L1133.6 334ZM1118.7 348.3L1131.7 360.3L1133.3 358.6L1120.2 346.6ZM1217.8 348.5L1212.5 354.8L1214.5 356.5L1219.8 350.2ZM1139.9 319.9L1136.6 322.2L1131.8 320.1L1136.2 316.1ZM1147.1 317.8L1145.3 321.8L1141.5 319.5L1143.8 315.7ZM98.3 366L88.4 372.8L86.6 366.1L90.8 362ZM500.9 444.2L496.1 452.3L491.9 444.4L495.8 440ZM510.7 413.6L498.6 416.1L499.1 418.6L511.2 416.2ZM545.3 422.2L559.6 427L560.4 424.7L546.1 419.9ZM578.5 502.1L575.3 504.7L569.2 499.9L573.1 494.8ZM463.7 440.2L461 445.9L454.6 442.4L458 436.2ZM513.1 440.9L509.2 445.5L505.2 442.1L508.3 439.5ZM562.8 424.3L560.5 425.3L557.2 424.1L558.3 420.4ZM545.2 432.5L540.8 434.7L538.7 432.6L542.7 430.4ZM577.5 495.5L585.5 501.8L587.2 499.7L579.2 493.4ZM577.9 474.6L570.5 479.1L568 476.3L574.2 467.2ZM533.5 441L532.2 443.6L527.3 441.7L532.1 437.2ZM582.9 463.1L577.9 475.5L580.1 476.4L585 463.9ZM491.4 479.1L508.8 487.5L509.9 485.1L492.6 476.8ZM517.1 420.7L511.6 425.3L505.6 420.2L514.7 412.8ZM557.6 482.7L578.9 483.6L579 480.4L557.7 479.5ZM253.5 534.4L236.8 535.3L236.9 537.8L253.6 536.9ZM342.8 555.9L345.7 569.5L348.2 569L345.2 555.3ZM281.3 527.9L270.8 532.3L271.6 534.1L282.1 529.8ZM667.4 511.8L661.6 524.3L664.1 525.5L669.9 513ZM109.7 549.1L119.6 552.7L120.6 549.8L110.7 546.2ZM226 499.1L222 502.1L218.9 499.2L222.2 497.4ZM475.9 534.4L464.5 548.7L466.7 550.5L478.1 536.2ZM7.8 535.3L25.3 546.8L26.6 544.7L9.2 533.2ZM640.2 543.6L633.2 550L632.2 545.7L634.5 538.2ZM87.5 530.3L81.1 541L83.4 542.4L89.9 531.7ZM61.2 503.3L59.5 511.5L61.5 511.9L63.3 503.7ZM537 504.2L541.1 516.3L544.1 515.3L540 503.2ZM553.8 503.2L563 522.2L565.3 521.1L556.1 502.1ZM510.7 537.6L504.3 541.9L501.3 538.4L506.2 530.5ZM245 576.9L251.4 591.4L254.2 590.2L247.8 575.7ZM573.3 527L572.1 538.5L574.7 538.8L575.9 527.3ZM251.7 499.3L241 509.2L243.1 511.5L253.8 501.6ZM493.2 542.9L485.8 547.1L487.1 549.3L494.5 545.1ZM428.9 533.7L438.6 537.8L439.7 535.2L430 531.1ZM212.3 564.2L218.7 580.9L221.2 580L214.8 563.3ZM515.3 497.6L511.5 505L513.4 506L517.3 498.7ZM291.5 546.2L287.5 551.1L282.4 548L289.2 541.3ZM220.2 560L215.3 566.9L212.2 563.2L215.4 556.5ZM229.6 564.5L226.6 565.9L224.3 563L227.6 560.6ZM350.1 540.7L361.5 549.2L363.4 546.7L352.1 538.2ZM440.1 545.5L439.2 565.8L442.1 566L443 545.6ZM258.6 538.3L252.8 541.8L247.9 538L251.9 533.5ZM1227.3 439.3L1222 452.9L1224.8 454L1230.1 440.3ZM1279.1 368.8L1266.3 373.7L1267.3 376.2L1280.1 371.3ZM1183.9 390.4L1188.5 406.3L1191.4 405.4L1186.9 389.5ZM1151.2 361.5L1133.6 365.3L1134.2 367.9L1151.8 364.1ZM1163.7 406L1160.9 410.1L1157.8 406.2L1160.8 403.8ZM1239.6 391.7L1218.6 396.9L1219.3 399.5L1240.2 394.3ZM1122.9 375.1L1133.1 383.5L1134.9 381.3L1124.7 372.9ZM1190.5 373.3L1188.8 382.6L1191.6 383.2L1193.3 373.9ZM1238.4 428.5L1256.1 435.6L1257.2 433L1239.4 425.9ZM1219.3 373.1L1217.1 377.3L1213.6 374L1217.2 371.3ZM1181.6 410.5L1172.8 417.7L1174.7 420L1183.5 412.9ZM1236.4 424.6L1227.5 433.9L1229 435.4L1237.9 426ZM1241.7 431.9L1236.1 437.1L1233.9 432L1237.1 428.6ZM1223.5 407.6L1224.7 418.2L1227.7 417.8L1226.5 407.3ZM1196.6 377.4L1201.7 394L1204.5 393.1L1199.4 376.6ZM1265 397.5L1264 407.3L1266.9 407.6L1267.9 397.8ZM1274 416.6L1265.1 424.6L1261.6 419.9L1268.3 415.1ZM1198.4 367.7L1194.5 371.1L1190.4 369.5L1193.9 365.8ZM1198.4 446.9L1186.5 456.2L1188.3 458.4L1200.2 449.2ZM1160.9 485L1176.8 492.6L1177.9 490.4L1161.9 482.8ZM1246.5 429.3L1265.4 434.1L1266.1 431.3L1247.2 426.6ZM1288.4 369L1278.6 384.8L1280.4 385.9L1290.2 370.1ZM1173.6 366.7L1183.4 372.5L1184.4 370.8L1174.7 364.9ZM1370.6 500.2L1374.2 510.9L1376.5 510.2L1372.9 499.5ZM1250.3 495.7L1250.5 510.8L1253.3 510.8L1253.2 495.7ZM1303.6 576.5L1296.1 582.3L1290.4 576.7L1300 570ZM1264.2 555L1260 558.8L1258.9 556.3L1259.9 551.6ZM1242 574.1L1239.6 578.6L1234 573.1L1236.5 572.5ZM1401.3 533.8L1414.6 534.1L1414.7 531.7L1401.3 531.5ZM1190.6 545.2L1175.6 550.6L1176.7 553.5L1191.7 548.2ZM1353 540.7L1355.2 553.4L1358 553L1355.8 540.3ZM1253.2 507.1L1250.4 508.6L1246.5 505.5L1248.4 502.9ZM1211.8 553.9L1224.1 561.6L1225.4 559.5L1213.2 551.8ZM964.7 555.1L958 568.7L960.7 570L967.5 556.5ZM950.5 554.9L962.1 566.7L963.8 565L952.2 553.2ZM1011.2 528.9L1007.6 534.1L999.4 529.3L1006.6 525.6ZM1078.8 531.3L1072.9 537.4L1069.5 532.2L1073.5 525ZM996.1 539.3L1011 540.1L1011.1 537.1L996.2 536.3ZM824 487.6L821.2 491.3L819 487.8L822.1 486.2ZM814 465.2L800.1 480.9L801.6 482.2L815.5 466.5ZM836.4 473.8L832.3 477.8L829 476.2L830.9 471.5ZM808.2 448.3L805.6 460.8L808.6 461.5L811.2 448.9Z" fill="#c6690c"/><path d="M121.6 161.5L113.7 166.3L115 168.4L122.9 163.6ZM177.1 161.5L173.1 178.4L176 179.1L179.9 162.2ZM169 171.2L174.4 177.7L176 176.4L170.6 169.9ZM191 170.4L186 176.8L181.8 173.1L185.3 167.3ZM227.4 179.9L222 187L217.1 183.3L223 177.7ZM57.6 169.6L67 171.1L67.3 168.9L57.9 167.4ZM202.2 180.3L193.2 188.3L188.8 182.1L192.4 177ZM82.1 155.7L81.9 170.8L84.1 170.8L84.4 155.8ZM60.4 191.9L54.8 195.1L50.7 188.6L55.5 185.1ZM38.2 189.6L30.1 193.5L27.8 186.7L30.5 183.7ZM344.3 249.2L336.8 253.5L337.8 255.4L345.4 251.1ZM350.2 255.4L363.3 258L363.7 255.6L350.7 253ZM318.8 239.9L299.1 248.2L300.3 251L320 242.7ZM300.2 241.2L291.9 245.6L289 239.5L295 234.6ZM297.9 233.4L295.5 237.7L288.6 234.7L294.5 229.6ZM295 235.1L290.5 240.8L286 234.9L291.6 232.9ZM310.1 281.7L328 287.8L329 284.8L311.2 278.7ZM327.3 258.8L316.4 262.4L317.3 265.1L328.2 261.5ZM540.2 242L538.6 250L541.4 250.6L542.9 242.6ZM518.5 238.3L514.4 244.9L507.4 240.4L509.2 234.2ZM508.4 236.6L504.4 242.3L497.4 235.6L504.5 234.2ZM542.5 243.7L540.1 247.6L534.4 245.4L540.3 239.5ZM531.5 203L520.2 218.1L522.1 219.5L533.4 204.5ZM544.7 222.1L538.7 229.1L534.2 220.8L542.3 216.8ZM70.7 317.4L86.3 317.7L86.3 314.6L70.8 314.3ZM101.5 332.6L86.7 344.5L88.7 346.9L103.5 335ZM88.2 322.5L104.7 336.3L106.7 333.9L90.2 320.1ZM554.3 144.8L559.1 155.3L561.1 154.4L556.3 143.8ZM717.7 213.7L702.3 215.3L702.5 217.3L717.9 215.7ZM681.4 217L691.7 235.5L694.3 234.1L684 215.6ZM1063.3 197.1L1055.7 198.3L1049.8 194.3L1059.2 190ZM1045.8 186.2L1044.1 197.5L1046.2 197.8L1047.9 186.5ZM1116.3 208.6L1108.8 213.8L1106.1 209.6L1110.5 203.6ZM1129.3 207.6L1126.8 220.6L1129.2 221L1131.8 208ZM1104.3 186.9L1099 189.6L1098 186.6L1099.4 182.4ZM1096 228.9L1090.9 233.7L1088.2 229.2L1091.3 227.2ZM1067.1 224.9L1065.5 230.1L1060.6 226.6L1062.8 222.6ZM1086.4 189.4L1092 198.2L1094.6 196.6L1089 187.7ZM1085.8 193.9L1092.5 199.7L1094.1 197.9L1087.3 192.1ZM894.8 149.6L892.4 153.6L886.3 149.8L889.7 145.5ZM783.3 182.5L776 186.2L773 182.5L777.5 174.9ZM890.1 174.3L893.5 184L896.4 183L893 173.4ZM706.1 189.1L719.9 197.1L721.1 195.1L707.3 187ZM881.3 175L879.8 180.3L874.2 177.2L878.3 173.3ZM857.6 134.4L871.6 135.3L871.8 133.2L857.8 132.3ZM908.5 164.1L925.1 174.1L926.3 172.1L909.7 162.2ZM975.2 226.9L968.2 233L964.5 229.1L969.2 221.8ZM973.8 271.3L966.1 284.3L968.6 285.9L976.4 272.8ZM980.9 239.8L967.8 249.2L969.2 251.2L982.4 241.7ZM965.8 254.7L962.4 259.9L957.7 254.5L961.3 250.9ZM980.8 272L975.2 276.7L972.7 271.1L975 269.2ZM993.8 284L991.1 284.9L987.7 282L991.3 279.5ZM971.5 215.1L967.4 231.7L969.5 232.2L973.6 215.6ZM988.9 277.2L997.6 280.6L998.7 277.7L990 274.4ZM1371.5 145.5L1367.1 148.8L1357.5 146.6L1366.5 139.5ZM1387.6 117.9L1369.8 130.4L1371.4 132.7L1389.2 120.2ZM1381 151.7L1376.4 155.2L1374.5 151.7L1377.5 148.6ZM1380.3 127.3L1375.6 132.8L1371 128L1374.5 125.5ZM1360.2 151.1L1366.9 159.4L1368.9 157.8L1362.1 149.6ZM1267.8 154.4L1276.6 160.7L1278.2 158.4L1269.4 152.1ZM1408 157.3L1400.7 163.4L1402.1 165.1L1409.4 159ZM1410.3 159.3L1407.4 163L1405.4 161L1408.8 157.4ZM1322.3 154.7L1320.2 162.1L1314.3 156.6L1320.7 149.6ZM1365 103.8L1377.7 115.7L1379.7 113.6L1367 101.7ZM1347.9 152.6L1368.2 156.7L1368.7 154L1348.4 150ZM1368.2 140.1L1362.1 152.3L1364.5 153.5L1370.7 141.3ZM1187 356.2L1185.2 357.8L1182.8 354.2L1186.4 352.9ZM1224.3 333.8L1220.4 337.4L1212.6 331.9L1220.7 326.1ZM1128.7 325.1L1138.3 335.1L1140.1 333.4L1130.6 323.3ZM1138.9 345.8L1136.5 347.9L1131.4 345.8L1136.3 340.8ZM1193.4 317.2L1188.1 321.9L1185.4 319.4L1188.7 316.7ZM1211.2 346.2L1197.8 347.7L1198 349.8L1211.5 348.3ZM1411.9 326.3L1408.6 330.6L1406.3 328.1L1408 323.1ZM1418 308.5L1411.9 314.9L1404.8 311.8L1411.2 304.1ZM103.8 359.6L93.2 371.3L95.3 373.1L105.9 361.5ZM102.4 365.1L98.5 370.5L93.7 363.9L97.3 360.5ZM55.9 376.5L67 382.6L68.5 380L57.4 373.9ZM90.4 358.2L87.1 360.9L84.7 357.3L86.9 355.9ZM556.9 461.4L557.1 471.3L559.7 471.2L559.5 461.3ZM485.4 413.6L495.2 421.7L497 419.5L487.3 411.3ZM546.6 492.1L564.3 503.3L565.7 501L548.1 489.8ZM570.3 475.6L561.9 490.8L564.1 492L572.5 476.9ZM565.1 494.7L562.6 497.8L558.4 493.9L561.2 492.1ZM517.6 438.2L511 441.4L502.9 437.1L509.1 431.1ZM565.2 491.1L578.3 505.1L579.9 503.6L566.8 489.6ZM519.4 451.4L501.6 452.4L501.7 455L519.5 454ZM489.2 456.8L470.6 464.3L471.4 466.4L490 458.9ZM585.8 442.8L582 447.3L579 443.3L581.5 438.6ZM483.2 436.9L501 443.6L502 440.9L484.2 434.2ZM596.1 452.5L597.5 471.2L600.5 471L599.1 452.3ZM510 419L509 432.7L511.1 432.9L512.1 419.1ZM506.4 420L516.2 422.6L516.7 420.4L506.9 417.8ZM523.8 421.3L534.3 433.6L536.1 432.1L525.6 419.7ZM461.9 460L457.1 461.9L453.3 459.2L456.9 453.9ZM604.6 478.6L601.5 481L598.7 479.2L603.1 475.9ZM463.4 464.1L458.9 469.7L456.5 465.4L460 462.3ZM656.3 521.9L653.2 523.5L649.3 518.4L653.6 515.5ZM271.6 567.3L268.9 569.9L265.1 565.7L268.6 562.4ZM478.9 533.8L492.8 539.9L494 537.2L480.1 531.1ZM625.2 536L623 540L620.1 537.6L623.9 534.4ZM385.6 521.8L398.3 525.5L399.2 522.5L386.5 518.8ZM659.9 510.9L652.2 515.2L653.7 517.9L661.4 513.6ZM282.4 559.3L269.5 563.4L270.3 566.1L283.3 562.1ZM568.5 536.1L578.9 555.2L581.5 553.8L571.1 534.7ZM128.7 506L113.9 511.1L114.8 513.8L129.7 508.7ZM389.2 540.9L384.4 544.9L382.9 540.8L386.5 538.7ZM244.3 517L238.3 525.3L231.6 516.4L236.9 512.8ZM544.2 500.6L540.4 508L533 499.5L537.6 495ZM594.4 540.4L578 541.6L578.2 544.1L594.6 542.8ZM283.1 545L291.6 548.7L292.7 546.1L284.2 542.4ZM136 532.9L132.1 539.2L124.8 531.2L131.8 524.3ZM279 579.4L271.8 584.9L268.1 582.1L275.4 574.8ZM351.4 556.5L346.1 561.5L342.5 557.7L348 552.9ZM118.7 506.2L119.4 518.4L122 518.2L121.3 506ZM13.2 533.4L22.4 535.5L23 533L13.8 530.9ZM276.2 584.7L267.7 589.2L262.3 587.4L269.8 577.1ZM560.6 494.1L554.8 497.4L551.6 491.3L558.6 488ZM180 495.2L177.7 505.3L180.6 506L183 495.9ZM608.1 498.3L598.8 500.7L599.4 502.9L608.6 500.6ZM161.3 560.1L150.3 563.6L151.2 566.5L162.2 563ZM282.4 523L301.9 531.6L302.8 529.6L283.3 520.9ZM500.4 515.8L497 518.7L491.2 516.5L493.5 509.4ZM602 519.1L608.2 532.5L610.8 531.3L604.6 517.9ZM26.8 507.2L28.9 519.3L32 518.7L29.8 506.6ZM232.5 533.9L229.9 536.3L227.9 534.6L231.1 531.5ZM498.2 507.8L493.2 526.8L496.1 527.6L501 508.5ZM562.2 516.7L557.3 523.6L551.2 518.3L554.8 512.1ZM418.9 520.4L429.2 533L431.6 531L421.3 518.5ZM297.1 523.8L292.4 526.3L286.3 523.3L289.9 516.1ZM623.4 503.5L618.9 510.7L620.7 511.8L625.2 504.6ZM637.6 491.1L656.2 502.9L657.3 501.2L638.7 489.4ZM658.1 504.7L670.9 508.4L671.6 505.8L658.8 502.1ZM646.1 512.9L653.8 517.6L655 515.6L647.3 510.9ZM638.2 494.2L651 504.6L652.4 502.9L639.6 492.5ZM646.8 516L641.2 522.9L643.3 524.6L648.9 517.8ZM661.2 500.7L653.2 503.7L654.3 506.6L662.3 503.6ZM680.9 512.8L677.5 515.1L675 512.4L677.7 509.7ZM649.2 530.9L662.1 534.7L662.8 532.1L650 528.3ZM699.2 517.9L694.1 528.1L696.2 529.2L701.4 519ZM1187.8 414.5L1185.8 417.3L1181 414.1L1185.1 411.4ZM1220.5 470.1L1218.4 472L1215.6 467.8L1216.8 466.5ZM1240.6 380.3L1232 383.8L1232.9 386L1241.5 382.6ZM1233.1 451.8L1228.6 456.5L1222.1 451.3L1227.1 448.1ZM1246.4 420.8L1260.3 424.8L1261.2 421.8L1247.3 417.7ZM1272.1 411L1266.4 412.9L1263.1 409.4L1267.8 406.4ZM1197.3 388.8L1195.4 392.6L1186.1 385.6L1194.5 380.1ZM1240.8 386L1236.4 388.5L1234.4 385.9L1237.6 382.7ZM1241.8 391.3L1249.7 407.4L1251.8 406.4L1243.9 390.3ZM1208.9 393.9L1204.9 399.5L1200.5 396.2L1204.7 392.1ZM1170.7 416.7L1168.2 419.1L1164 416.7L1168.4 413.7ZM1261 428.3L1259 430.2L1255.9 427.1L1258.2 425.5ZM1252.8 377.8L1248.8 382L1244.9 377.9L1250.3 374.9ZM1226.2 365.6L1229.6 384.7L1232.1 384.3L1228.7 365.2ZM1272.4 405.6L1269 409.4L1263.9 405.8L1268.6 401.2ZM1210.3 471.7L1223.4 472.3L1223.5 469.9L1210.4 469.3ZM1252.9 441.5L1251.5 445.7L1246.5 442.6L1251 440.2ZM1211.7 480.4L1206.5 482.4L1202.8 479.8L1208.3 474.9ZM1146.6 397.9L1157.9 398.6L1158.1 395.7L1146.8 395.1ZM1255.7 422.2L1263 431.4L1265.3 429.5L1258 420.3ZM1278.2 379.3L1275.5 383.8L1272.6 380.9L1276 377ZM1159.9 360.9L1147.3 365.8L1148.2 368.1L1160.8 363.2ZM1179.9 357.7L1175.9 360.1L1173.2 357.2L1178.2 355ZM1174.6 417.9L1170.1 423.2L1165.7 417.6L1169.8 414ZM1169.9 379.2L1170.7 393.2L1173 393.1L1172.2 379.1ZM1251.1 383.4L1257.4 401.6L1260 400.7L1253.7 382.5ZM1244.6 436L1243 438.9L1239.1 435.5L1242 432.8ZM1220.5 465.7L1210.3 473.5L1211.7 475.3L1221.9 467.5ZM1190.7 473.3L1184.9 477.9L1178 474.1L1181.6 465.7ZM1242.9 373.5L1233 384.5L1235.1 386.4L1245 375.4ZM1180.4 366.6L1174.2 371.8L1170.2 363.6L1176.1 362.4ZM1186 379L1191.2 398.6L1193.2 398.1L1188 378.4ZM1299.2 512.7L1302.2 524L1304.2 523.4L1301.3 512.1ZM1381.3 505.6L1373.7 512.4L1370.7 507.4L1375.1 500.7ZM1329.1 542.6L1326.9 546.6L1322.5 541.8L1327.3 540.1ZM1427.3 536.2L1424 541L1419.7 536.4L1423.8 533.8ZM1371.5 569.9L1389.9 580.5L1391 578.6L1372.6 568ZM1206.6 515.5L1213.4 528.2L1215.2 527.2L1208.3 514.5ZM1303 501.6L1297.4 502.5L1292.6 501.1L1299 494.5ZM1200.3 557.5L1198.1 567L1200.7 567.6L1202.9 558.1ZM1178.9 523.2L1177.5 533.1L1180.6 533.5L1181.9 523.7ZM1224 519L1232.7 519.2L1232.7 517.1L1224 516.9ZM1344.7 497.5L1340.4 502.8L1336.6 500.1L1338.7 494.6ZM1354.3 561.1L1357.8 569L1360.4 567.8L1356.9 560ZM1330.7 574.7L1309.9 579.5L1310.6 582.5L1331.4 577.6ZM1413.3 527.8L1410 531.4L1402.9 523.2L1410.2 521.5ZM1374.3 509.5L1366.6 515.4L1362.9 511.3L1370.8 505.3ZM1324.5 582L1318.9 583.8L1313 577.3L1319.7 575.7ZM1248.1 530.5L1244.4 539.1L1236.7 533.9L1239.5 526.5ZM1202.6 535.8L1206.6 543.6L1208.8 542.5L1204.7 534.7ZM1236.2 579.9L1228.3 583.4L1225.9 577.5L1230.8 575.2ZM1194.9 541.1L1187.2 560.7L1189.7 561.7L1197.4 542.1ZM1210.3 530.7L1208.8 541.2L1211.3 541.5L1212.7 531ZM1219.7 522.5L1216.5 527L1212.5 524.6L1217 518.9ZM1407.8 538.2L1420.3 538.7L1420.4 536.1L1407.9 535.6ZM1418.4 537.5L1404.5 537.8L1404.5 540.5L1418.5 540.2ZM1021.6 520.3L1013.6 533.5L1016.1 535.1L1024.2 521.8ZM963.6 552.6L983.4 561.9L984.4 559.6L964.6 550.3ZM976.6 569.8L987.5 571.8L988.1 568.9L977.1 566.9ZM813.2 462.9L806.7 470.6L801.4 469L805.6 461.3Z" fill="#9a4a0a"/><path d="M109.2 177.4L104.2 180.9L101.3 178.1L104.4 174.1ZM78.7 171.3L78 179.6L81.1 179.8L81.8 171.5ZM66.3 162.5L56.9 165.2L57.5 167.6L67 164.9ZM180.9 158.9L190.7 176.5L192.9 175.3L183.2 157.7ZM89.6 168.8L84.1 171.6L78.6 166.4L84.1 163ZM315.2 277L318.5 285L320.9 284L317.5 276ZM309.5 249.6L317.2 257.2L319.2 255.1L311.5 247.6ZM311.2 238.8L314.1 247.2L316.1 246.6L313.2 238.1ZM362.5 252.3L380.3 262.3L381.5 260L363.8 250.1ZM540.1 238.3L536.7 242.3L534.1 240L536.1 236.6ZM512.6 221L532.1 221.1L532.1 218.9L512.6 218.8ZM546.3 211.1L541.5 214.2L540 210.4L541.6 208.2ZM527 216.2L511.7 228.5L513.6 230.9L528.9 218.6ZM79.2 327.5L76.8 341.4L79.3 341.8L81.7 327.9ZM111.1 315.7L110.8 330.8L113.1 330.8L113.4 315.8ZM61.2 341.6L54.3 347.6L56.2 349.9L63.2 343.8ZM542.3 165.8L542.9 174L545.9 173.8L545.3 165.6ZM565.1 161.8L552.3 174.4L554.1 176.2L566.8 163.5ZM1069.7 223.7L1066.8 226.2L1062.3 223.8L1067.2 220.5ZM1072.1 201.2L1061.5 207.6L1063.1 210.4L1073.7 203.9ZM1128.6 214.7L1125.1 221L1118.9 215.1L1121.8 208.9ZM1102.7 184.1L1096.8 190.1L1092 188.4L1099 180.8ZM834.5 152.5L831.2 160.4L833.6 161.4L837 153.6ZM829.2 136.6L835.8 143.2L837.6 141.4L831.1 134.8ZM887.1 191.6L881 198.1L877.7 189.8L881.6 186.4ZM866.6 175.5L869.4 194.1L872.5 193.6L869.8 175ZM842.3 143.2L838.8 145.2L833.7 142.2L836.8 138.4ZM973.4 260.2L960.4 263.3L961 265.9L974 262.8ZM1399.3 125.9L1378.8 129.8L1379.2 131.8L1399.7 127.9ZM1331 140.3L1325.7 146.3L1322.5 138.5L1327.6 134.8ZM1379.3 119.8L1387.3 127.1L1389 125.3L1381.1 118ZM1326.3 145.6L1311.4 154.9L1312.5 156.7L1327.4 147.4ZM1283 133.2L1282 138.3L1276 131.3L1277.6 128.5ZM1414.5 105.1L1407.7 111.9L1404.5 106.8L1408.6 100ZM1380.6 104.9L1377.4 110.6L1371.1 108.7L1376.4 102.7ZM1256.8 155.7L1253.6 158.2L1250.5 155.6L1254.8 154ZM1412.4 157.1L1407.1 163.1L1401.2 156.7L1406 149.1ZM1302.5 158.9L1296.6 163.6L1293 158.1L1298.5 151.5ZM1184.5 330.4L1197.3 342L1199.3 339.8L1186.5 328.2ZM1131.6 353.1L1142.7 361.6L1144.7 359.1L1133.5 350.6ZM1235.6 349.1L1231.1 353.4L1225.1 348.7L1231 342.8ZM1133.6 333L1136 343.1L1138.8 342.4L1136.4 332.3ZM1175.6 332.7L1171.1 336.7L1167.7 331.3L1172.4 328.5ZM1135.9 336.2L1122.1 341.6L1123 344L1136.8 338.6ZM104.1 376.5L97.1 380.8L93.4 374.9L100.7 369.5ZM477.4 462.4L474.5 477.1L477.2 477.6L480 462.9ZM462.1 477.4L458.9 489.5L460.9 490L464.1 477.9ZM471.8 486.1L469.6 487.5L466.4 484.5L467.3 482.3ZM588.6 440.8L584.3 445.5L580.2 440.7L583.4 437.9ZM493.6 453.5L485.3 460.1L484.2 453.6L488.8 450.3ZM555.1 436.2L574.7 437.2L574.8 434.6L555.3 433.6ZM593.1 455.3L587.9 457.9L585.9 455.9L588.1 450.9ZM556 453.4L562.8 461.7L565.3 459.7L558.4 451.4ZM537.6 417.5L527.5 423.1L528.6 425.1L538.7 419.5ZM551.1 410.1L550.8 421.3L552.9 421.4L553.2 410.2ZM461.4 484.4L457.7 487.3L454 483.6L458.9 478.4ZM462.4 470.4L454.4 481.1L456.2 482.5L464.2 471.8ZM561.8 479.4L559.8 484.4L555.4 479.2L559 476.4ZM570 475.6L576.3 492.3L578.3 491.5L572 474.9ZM575.1 438.3L580.2 456.2L582.6 455.5L577.5 437.6ZM482 444.8L478.6 447.3L476.5 445L479.4 440.1ZM65.4 543.4L66.4 554.4L69.3 554.1L68.3 543.1ZM302.8 543.8L308.3 550.1L310.7 548.1L305.1 541.7ZM564.7 532.2L559.2 540L552.7 530.5L561.3 526.5ZM181.9 565.9L178.4 570.5L176 569L177.8 564.4ZM487.8 513.8L489.2 523.1L491.9 522.7L490.5 513.4ZM208.7 537.9L207.2 556.7L209.7 556.9L211.1 538.1ZM448.3 538.8L446.3 541.3L442.9 540L447 535.4ZM302.3 540.6L295 547.4L290.3 537.4L294.4 534.8ZM313.2 539.4L325.1 539.8L325.2 536.7L313.3 536.2ZM608.7 500.1L606 501.3L600.3 499.6L605.3 492.6ZM600.3 545.4L607.3 558.1L609.9 556.7L603 544ZM526.7 491.5L547.1 496.9L547.8 494.4L527.4 489ZM459.1 491.8L452.9 510L455.5 510.9L461.7 492.7ZM511 506.9L524 520.2L526.2 518.1L513.2 504.8ZM409.2 511.4L404.8 514L399.3 511.6L404 506.3ZM121.3 515.2L137.6 519.5L138.1 517.6L121.8 513.3ZM567.7 528.5L559.4 538.1L561.4 539.9L569.7 530.2ZM215.1 558.6L212 560.8L209.4 557.9L214 554.4ZM175.5 491.1L193.1 503.2L194.7 500.9L177.1 488.8ZM678.4 534.6L692.4 540.1L693.5 537.3L679.5 531.8ZM615.8 499.4L631.2 513.7L632.5 512.2L617.1 497.9ZM682.3 543.3L696 548.8L696.8 546.7L683.1 541.2ZM632.4 526.1L645.9 541.9L647.8 540.2L634.3 524.5ZM672.7 508L671 517.7L673 518L674.6 508.4ZM664.2 522.3L659.3 527.8L648.7 522.3L658.8 513.2ZM659.7 512L654.2 522.6L656.4 523.8L661.9 513.1ZM1204.8 442.5L1194.9 453.3L1196.8 455L1206.7 444.2ZM1252.3 407.8L1235.7 413.2L1236.5 415.5L1253 410.1ZM1278.2 379.1L1267 391L1269 392.8L1280.1 380.9ZM1181.9 444.5L1195.8 458.5L1197.5 456.9L1183.6 442.8ZM1190 382.2L1181.7 394.4L1183.4 395.6L1191.7 383.3ZM1231.1 400.1L1209.7 403.9L1210.2 406.6L1231.6 402.7ZM1220.2 420.1L1221.4 433L1224 432.8L1222.8 419.9ZM1195.2 412.5L1208.8 429.3L1210.5 427.9L1197 411.1ZM1205.1 475.2L1203.3 477.3L1195.9 473.2L1200.4 470.3ZM1245.7 388.3L1243.2 391.9L1240 389.2L1242.5 384.9ZM1276.6 401.4L1272.5 406L1269.5 402L1271.8 399ZM1186.5 505L1197.8 511.4L1199.2 508.9L1187.9 502.5ZM1187.6 500.9L1204.5 504.4L1205 502.4L1188 498.9ZM1178.4 426L1172.5 437.8L1175.2 439.1L1181.1 427.3ZM1254.2 427.2L1240.8 428.5L1241.1 431.2L1254.5 429.9ZM1165.9 388.4L1174.9 404.8L1176.8 403.7L1167.8 387.3ZM1225.6 378.8L1223.7 385.6L1218.3 380.6L1222.4 376.5ZM1200.7 554.1L1191.7 558.8L1189.1 552.8L1192.6 548.6ZM1200.7 563L1194.1 570L1190.7 564.1L1194.9 561.1ZM1339.5 523.7L1323.6 535.8L1325.1 537.8L1341 525.7ZM1283 567.9L1291.2 575.4L1293.3 573.2L1285.1 565.6ZM1381 534.6L1394.1 536.5L1394.5 534.1L1381.4 532.2ZM1187.2 533.8L1195.8 536.2L1196.4 534L1187.8 531.7ZM1235.9 559L1233.9 564.6L1228.5 558.9L1232.6 555ZM1291.4 512.3L1283.2 516.9L1280.8 512.3L1288 507.4ZM1326 578L1320.6 580.2L1316.9 577.9L1319.8 570.3ZM1342.2 535L1340.5 536.6L1336.5 532.6L1341.3 529.9ZM1256.5 568.9L1253.8 588.1L1255.8 588.4L1258.5 569.2ZM1373.6 505.5L1385.4 521.7L1387.2 520.3L1375.4 504.2ZM1405.5 542.3L1398.3 547.2L1396.5 540.9L1401 538.1ZM930.9 559.7L926.5 562.7L920.5 556L925.1 551.8ZM934.1 566L943 571.1L944.6 568.4L935.7 563.3ZM1004.8 525.2L1012.6 530.5L1014 528.3L1006.3 523.1ZM967 537.3L948 545.7L949.1 548.1L968.1 539.7ZM1004.8 564L1001.3 566.3L998.9 563.2L1000.4 560.4ZM952.5 555L950.2 557.2L947.3 553.8L949.6 552.3ZM794.3 468.9L809.4 469.7L809.6 466.7L794.4 465.9Z" fill="#3f1268"/><path d="M209.9 177.6L202.1 182.1L200.6 177.3L205.2 172.7ZM155.8 162.1L149.9 168.9L151.6 170.5L157.6 163.7ZM287.9 232.5L285.5 237.7L279.8 230.5L286.6 228.9ZM308.2 284.8L303.9 291.9L306.1 293.3L310.5 286.2ZM333.3 251.4L343.4 256.7L344.5 254.7L334.3 249.4ZM288.8 254.9L282.7 273.7L284.8 274.4L290.8 255.6ZM297.2 245.1L280 256.4L281.2 258.3L298.4 247.1ZM522.9 250L519.2 252.4L515.4 248.6L519.9 245.9ZM545.8 202.4L542.4 216.1L545.2 216.8L548.7 203.1ZM526.2 194.7L547.7 198.6L548.1 196.2L526.7 192.3ZM520.4 185.1L515.6 190.4L510.2 188.6L516.7 181.9ZM100.5 327.1L92.5 334L93.8 335.6L101.8 328.7ZM122.8 329L120.3 332L111.4 327.9L120.1 320.2ZM97.2 353.7L112.6 358.9L113.6 356.2L98.2 350.9ZM671.6 209.1L678.3 227.5L681.3 226.4L674.6 208.1ZM1072.6 197.3L1065.4 202L1061.3 193.9L1068.8 189ZM1081.2 199.8L1087.1 211.4L1089.5 210.2L1083.6 198.6ZM1105.9 193.2L1115.8 196.4L1116.5 194.2L1106.6 191ZM763.9 187.9L751.4 200.6L753.2 202.3L765.6 189.7ZM910.9 166.1L908.1 174.7L899 166.1L903.6 164.3ZM860.9 142.5L853.9 149L851.8 146.3L855.8 138.9ZM763.4 166.1L762 184L764.4 184.2L765.9 166.3ZM950.6 228.8L939.8 235.1L940.9 237.1L951.8 230.8ZM980.2 266.9L970.9 272.9L972 274.7L981.4 268.7ZM1333.5 169.8L1328 173.5L1325.3 167.2L1327.1 164.4ZM1396.5 111.9L1403.9 121.8L1405.5 120.6L1398.2 110.7ZM1292.6 147.1L1285 150.2L1282.3 146L1283.2 138.2ZM1415 122L1412.2 123.7L1407.3 119.3L1413.6 115.2ZM1364.6 171.5L1360.7 176.1L1354.3 172.6L1362.2 162.6ZM1125.8 333.2L1134.1 338.2L1135.4 336L1127.2 331ZM1157.6 328.3L1159.3 346.6L1162 346.4L1160.4 328.1ZM1212 349.5L1206.1 354.5L1202.8 350L1204.5 345.3ZM1168.4 329.4L1186.8 333.5L1187.3 331.4L1168.9 327.3ZM1165.8 345.4L1175.9 348.9L1176.9 345.9L1166.8 342.4ZM1189.2 329.8L1181.4 334.8L1182.8 337L1190.6 332ZM1155.1 321.5L1147.2 335.1L1149.5 336.4L1157.4 322.9ZM1395.3 322.3L1388.5 327.7L1384.6 324.3L1390.5 317.4ZM99.9 376L104.6 385.4L106.6 384.4L101.8 375ZM575.2 423.1L567.4 426.8L564.9 421.3L568.3 418ZM577.6 452.8L595 458.3L595.8 455.6L578.4 450.1ZM535 418L517.5 418.6L517.6 420.7L535.1 420ZM527.9 458.4L526.7 461.4L522.1 458.3L525.1 453.6ZM583.8 477.7L569.4 479.5L569.7 482.4L584.1 480.7ZM573.1 442.3L555.2 443.5L555.3 445.8L573.3 444.6ZM577.3 476.3L574.1 480.9L568.7 474.7L574.7 470.5ZM475.5 431.4L471.8 447.6L474.7 448.3L478.4 432ZM509 416.9L503 424.1L499 415.7L503.7 413.5ZM478.1 439.4L474.1 441.3L471.5 439.1L474.8 435.9ZM515.6 481.9L513 486.6L507.1 479.5L513.3 478.1ZM589.1 435L583.5 439.6L576.3 432.6L580.9 425.2ZM529.8 466L524.2 471.7L521.2 464.6L523.3 460.1ZM475.9 486.5L468.8 492.7L470.4 494.4L477.4 488.3ZM504.3 433.3L492.8 438.5L493.8 440.6L505.2 435.4ZM479.3 483.2L487.5 503.3L489.6 502.4L481.3 482.4ZM506.1 424.5L492.9 436.9L494.6 438.7L507.8 426.3ZM498.5 479.4L495.2 482.5L489.1 477.8L492.8 474.7ZM534.9 479.5L530.9 500L533.8 500.5L537.8 480.1ZM514.7 514.7L496.6 518.5L497 520.5L515.1 516.7ZM617.7 557.1L614.5 560.3L611.8 555.6L614 552ZM172.3 510.8L167 516.3L165.5 510L169.1 505.6ZM121.6 515.9L123.3 523.8L126.1 523.2L124.4 515.3ZM79.1 500.8L73.7 503L65.5 501.1L70 493.9ZM49.4 538.4L41 546.2L39.3 538.3L40.5 533.6ZM646.2 494.4L641.2 499.7L637.8 496.1L642.6 492.2ZM435.7 504.8L431.2 510.5L425 508.3L431.5 500ZM550.1 501.6L541 512.2L543.1 514L552.2 503.4ZM191.3 505.5L170.3 507.4L170.6 510.5L191.6 508.5ZM391.9 517.9L374.9 521.9L375.5 524.2L392.5 520.3ZM613.6 542.7L610.3 546L607.4 541.8L611.2 539.6ZM131.6 486.2L148.8 493.2L149.5 491.4L132.4 484.4ZM319.5 516.3L338 527.3L339.6 524.8L321.1 513.7ZM102.2 508.5L91.7 521.7L93.8 523.3L104.3 510.2ZM674.7 543.7L671.6 547.1L665.9 542L671.5 539.2ZM108.4 549.3L94.9 555L95.8 557.1L109.3 551.3ZM407.6 532.8L416.9 540.2L418.5 538.1L409.2 530.7ZM517.4 523.6L513.9 526.9L510.8 522.3L512.2 519.6ZM157.9 518.2L154.6 522L150.8 515.9L152.9 511.8ZM184.7 532L181.3 540.7L173.6 534.7L177.6 528.2ZM653 518.4L648.7 524.6L643 521.1L645.3 514.4ZM687.6 525.9L697.2 527.8L697.7 525.3L688.1 523.4ZM1180.2 473.7L1178.8 482.1L1181.8 482.6L1183.2 474.2ZM1210.5 486.8L1208.9 491.7L1203.5 486.9L1206.5 485.1ZM1175.7 513L1181.5 520.6L1183.5 519.1L1177.7 511.6ZM1117 378.2L1137.3 381.7L1137.7 379.7L1117.4 376.1ZM1175.4 475.3L1169.4 483.5L1171.8 485.2L1177.8 477.1ZM1227.4 422L1221.5 426.1L1215.9 417.3L1219.8 412.8ZM1263.7 379L1268.7 396.1L1271.4 395.3L1266.4 378.2ZM1174.1 367.1L1167.3 371.3L1163.2 369.3L1170.8 361ZM1254.5 391.3L1264.3 400.9L1266.1 399.1L1256.3 389.5ZM1183.4 420.3L1170.6 433.1L1172.9 435.4L1185.6 422.5ZM1242.7 399.2L1259 400.8L1259.2 397.9L1243 396.3ZM1237.6 392.9L1232.5 395.3L1228.6 389.8L1232.7 387ZM1216.1 424.3L1230.8 425.1L1230.9 422.8L1216.2 422.1ZM1169.1 397.6L1166 401.4L1161.8 398.2L1166 394.5ZM1183.1 462.4L1177.9 467.4L1172.3 465.2L1175.8 458.8ZM1218.3 398.9L1207.2 399.4L1207.3 401.5L1218.4 401ZM1194.1 426.8L1190.7 432L1182.7 429.2L1191.3 423.2ZM1257 430L1253.6 433.9L1244.5 428.3L1251.6 424.1ZM1224 366.9L1213 374.3L1214.3 376.2L1225.3 368.8ZM1234.5 398.3L1220.3 411.2L1222.1 413.2L1236.4 400.3ZM1276.2 402.7L1270.9 407.6L1267.2 399.9L1270.9 395.9ZM1198.6 360.7L1212.5 368.5L1213.6 366.5L1199.7 358.7ZM1192.3 501.7L1171.7 503.1L1171.9 505.5L1192.5 504.1ZM1236.6 532.2L1233 534.6L1227.4 530.9L1234.7 524.5ZM1359.2 549.6L1353.6 555.7L1349.7 552.3L1355.8 547.5ZM1230.6 517.5L1227.6 523.9L1218.7 520L1228.3 513.3ZM1325 513.1L1323.4 515.2L1320.4 511.4L1321.7 509.5ZM1336.5 573.1L1329.3 579.7L1327.2 573.2L1332.5 570.4ZM1227.6 517.6L1221.6 531.7L1223.7 532.6L1229.7 518.5ZM1404 519.6L1425.5 522.1L1425.8 519.3L1404.4 516.8ZM1325.7 532L1322.6 549.6L1325 550L1328.1 532.4ZM1259.4 526.4L1264.2 534.3L1266.8 532.7L1262 524.8ZM1215.5 511.4L1212.7 514.1L1208.2 511.1L1212.5 507.6ZM1273.3 499.2L1270.5 504.7L1265.1 499L1268.2 496.1ZM1205.7 566.9L1212.6 572.6L1214 571L1207.1 565.3ZM1354.6 557.2L1370.6 571.1L1372 569.4L1356.1 555.6ZM1285.8 516.5L1281.2 523.1L1275.8 517.4L1282.3 511.4ZM999.4 541.7L997.5 551.8L999.8 552.2L1001.7 542.2ZM1020.2 552.4L1033.2 565.9L1035.2 564L1022.1 550.6ZM984.1 556.8L979.4 567.9L982.3 569.1L987 558ZM1068.1 545.5L1080.1 554.2L1081.3 552.5L1069.3 543.8ZM936.8 549.3L932 565.7L934.4 566.4L939.2 550ZM978 555.6L971.5 563.5L966.8 557L970.5 551.3ZM806.2 475.2L815.9 490.1L818 488.7L808.2 473.9ZM822.6 468.2L818.6 471.4L816.8 468.4L818.6 465.5ZM812.2 487.6L807.7 492.8L799.3 489L805.3 483ZM827.2 473.4L811.5 485L813.1 487.2L828.8 475.6Z" fill="#e99a3a"/><path d="M6.8 198.8L19.9 202.2L20.6 199.2L7.6 195.9ZM44.5 170.6L52.1 173.1L52.8 171L45.2 168.5ZM39.2 178.8L26.7 196.5L29.1 198.3L41.7 180.6ZM64.9 181.5L62.4 185.6L55.9 177.7L62.5 175ZM89.8 170.5L79.4 173.9L80.3 176.5L90.6 173.1ZM81.2 177.9L79.4 199.4L82.2 199.7L84 178.2ZM120.7 183.3L137.1 186.7L137.6 184.1L121.2 180.8ZM194.5 176L193.2 180.1L187.4 175.5L193.1 170.6ZM50 177.8L47.4 180.3L44.5 178.4L47.9 174.1ZM20.1 194.6L11.7 198.2L12.9 201L21.3 197.3ZM154 169.4L156.5 183.7L158.6 183.3L156.2 169.1ZM-2.1 172.6L2.8 179.6L4.5 178.4L-0.5 171.4ZM150.7 157.6L146.8 175.6L149.1 176.1L153 158.1ZM288.5 234.8L283.9 239.1L279.9 234.1L285.6 230ZM307.4 288.2L304.8 291.5L299.7 288.1L304 285.6ZM366.3 254.7L375 266.8L377 265.3L368.3 253.2ZM299.6 252L297.8 254.2L293.6 250.6L296.2 249ZM307 280.9L312.9 294.9L315 294.1L309.1 280.1ZM336.3 249.6L330.8 257.8L324.4 251.8L327.7 246.3ZM377.5 260.4L374 265.3L367.6 261.4L371 255.3ZM302.7 285.4L315.8 295.9L317.7 293.6L304.6 283ZM376.1 264.3L369.4 273.6L371.6 275.2L378.3 265.9ZM306.8 288.5L303.9 293.9L300.3 289.6L302.1 286.5ZM299.2 253.3L297.6 258.1L294 253L299 250.9ZM317.4 250.1L321 257.2L323.1 256.2L319.5 249ZM309 285.4L328.2 287.8L328.6 284.9L309.4 282.5ZM370.1 251.2L382.6 259.3L384.3 256.6L371.8 248.5ZM361.3 259.3L377.6 273.9L379.4 271.9L363 257.4ZM337.5 265.4L344.4 272.5L346.1 271L339.1 263.8ZM336.1 267.8L346.6 274.8L348.1 272.4L337.6 265.5ZM330.7 263.3L341.8 277L343.8 275.5L332.6 261.7ZM318 288.2L311.5 291.8L308.9 289.9L312.4 285.9ZM290.7 263.2L290 273.3L292.4 273.4L293 263.4ZM340 260.9L332.2 275.1L334.4 276.3L342.2 262.1ZM332 255.7L325.8 261.2L322.8 258.5L325.6 253.9ZM329.7 262.2L326.5 263.5L323.9 261.5L327.5 259.5ZM290.2 243L285.2 245.2L280.7 241.2L285.5 235.1ZM526.9 219.8L529 229.6L531.7 229.1L529.6 219.2ZM512.3 252.5L529.5 252.7L529.5 250.7L512.4 250.5ZM544.4 221.4L540.9 229.3L543.5 230.4L547 222.6ZM535.6 245.7L530 246.9L526.5 242.4L532.4 241.5ZM517.2 237.2L498 246.9L499.2 249.2L518.4 239.5ZM513.7 202.1L512.1 204.6L508.2 200.8L511.3 198.2ZM552.1 201L547.6 205L545.5 200.7L548.1 198.5ZM539.4 181.1L550.4 187.2L551.7 184.9L540.7 178.8ZM537.4 176.9L530.6 182.1L532.2 184L538.9 178.9ZM538.3 198.4L534.3 201.7L532.3 199.4L534.8 195.6ZM555.2 203.1L549.9 207.6L546.2 202L552.3 198.6ZM511.3 190.3L517.5 202.7L520.1 201.4L513.8 189ZM530.5 205L524.7 208L522 205.2L524.2 200ZM514.4 217.4L524 223.7L525.4 221.6L515.8 215.3ZM518.2 180.9L511.5 193.2L513.9 194.5L520.6 182.2ZM49.4 310.6L66.1 319.3L67.2 317.2L50.5 308.5ZM112.2 336.5L121.9 338.3L122.4 335.7L112.6 333.9ZM104.3 354.5L100.9 359.1L94.6 354L100.1 350.6ZM114.3 319L101.7 329.1L103.4 331.3L116 321.1ZM125 341.3L121.3 346.3L114.9 342L121.2 334ZM49.1 333L30.4 337.9L31 340.5L49.8 335.6ZM49.3 354.7L47.2 359.6L44.2 356.9L47.2 353ZM121.5 344.4L116.4 351.3L111.1 343.8L112 339.5ZM67.7 342.9L63.7 348.9L60.5 344L65.2 340.7ZM92.4 324.8L87.1 330L82.5 321.4L86.9 318.3ZM126.4 324L118.2 330.3L113.9 325.2L120 321.2ZM61.7 331.8L82.5 339L83.3 336.7L62.5 329.5ZM96.7 347.5L96.2 352L90.4 346.1L94.2 344.2ZM42.8 322.9L36.6 328.1L30.8 320.3L36.5 317.1ZM60 320.3L69.4 324.8L70.3 322.7L61 318.2ZM105.6 320.2L100.9 320.9L99.3 318.6L103.6 314.8ZM97 331.5L94.5 334.2L89.1 330.1L91.7 326ZM50.7 325.2L67.7 335.1L69 333L51.9 323.1ZM570.5 146.5L567.3 147.7L565.8 145.2L567.5 144.1ZM565.6 149.3L561 169.6L563.2 170.1L567.8 149.8ZM560.4 161L560.6 170.3L563.3 170.2L563.2 161ZM569.5 150.1L565.7 154.1L562.2 151.3L566.1 148.3ZM670.1 204.5L688.6 210.3L689.2 208.3L670.7 202.5ZM704.8 206.9L701.7 212.2L696 206L697.7 202.3ZM695.1 205.9L686.1 210.1L687.3 212.6L696.3 208.4ZM1074.5 207.2L1074.3 216.2L1076.8 216.2L1077 207.3ZM1122.5 202.9L1136.9 208.8L1137.7 206.7L1123.4 200.9ZM1092.2 204.3L1091.3 207.6L1086.7 203.7L1089 200ZM1083.5 195.6L1081 205.3L1083.6 205.9L1086.1 196.2ZM1050.7 174L1034.7 185.2L1036.2 187.4L1052.3 176.3ZM1130.7 205.6L1118.1 210.1L1118.8 212L1131.4 207.5ZM1064.1 192.4L1078.1 206L1079.8 204.3L1065.7 190.7ZM1043.9 188.4L1059.2 196.5L1060.3 194.4L1045 186.3ZM1050.7 220.1L1068 229.6L1069.5 227L1052.2 217.5ZM1071.6 218.4L1069.5 220.1L1065.1 218.3L1067.6 213ZM1094.9 197.3L1092.5 199.8L1088.7 197.2L1092.1 192.7ZM1054.6 211.5L1035.3 219L1036.3 221.7L1055.6 214.3ZM1094.8 208.5L1107 220.6L1109 218.6L1096.8 206.5ZM1032.1 179.4L1039.5 190.4L1041.2 189.3L1033.8 178.2ZM899.8 152.8L894.4 155.7L891.5 150.3L893.5 146.6ZM875.8 175.3L860.9 178.3L861.4 180.8L876.3 177.8ZM860.5 159.9L873.1 167.2L874.3 165.1L861.7 157.8ZM922.3 172.8L914.7 179.3L916 180.8L923.6 174.3ZM902.3 153.8L896 158.6L892.8 150.6L895.8 145.2ZM759.7 183.3L755.7 188.1L748.6 181.6L753.3 176.1ZM854.3 186.8L847.2 192.3L845 187.2L848.4 181.9ZM866.1 162.7L862.2 166.6L859.3 162.8L860.8 157.8ZM823.5 169.9L821.5 172.4L817.8 171.1L821.5 167.1ZM876.2 181.6L870.7 188.4L865.3 181.6L871.4 180ZM879.9 133.7L886.3 138.8L888 136.7L881.5 131.6ZM867.4 180.9L855.7 194.9L858.1 196.9L869.8 182.9ZM730.7 170.1L712 174.6L712.5 176.7L731.2 172.2ZM851.8 146.8L870.3 153.7L871.3 151.1L852.8 144.2ZM905.4 168.2L902.4 178.7L905.3 179.6L908.4 169ZM859.8 144.3L858.8 155.9L861.4 156.2L862.5 144.5ZM925.3 163.6L935.6 168.3L936.6 166.1L926.3 161.4ZM798.9 185.2L813.1 200.1L814.8 198.5L800.6 183.6ZM775.7 176.9L765.9 181.4L767 183.9L776.9 179.4ZM748 185L743.3 189.4L739.9 184.4L744.5 181.3ZM826.2 168.9L822 174.8L820.5 170.9L824.1 166.8ZM878.6 137.4L874.3 141.4L873.2 137L874.1 134.7ZM755.4 177.5L751.7 184.7L748 179.6L754.1 174.1ZM873.1 145.7L872.9 154.7L874.9 154.8L875.2 145.8ZM802.2 161.2L799.8 178.6L802.6 179L805 161.5ZM772.6 170.4L763.2 175.5L764.2 177.4L773.7 172.3ZM728.9 178.6L725.5 184.4L718.5 178.1L723.5 173.6ZM852.5 177.2L849.1 184.2L842.4 178.7L847.8 173.9ZM956.6 241L954.8 249L957 249.5L958.8 241.5ZM987 242.7L981.2 246.9L979.2 244.6L982.8 238.7ZM991.2 252.9L984.2 257.3L982.2 253.8L985.8 249.5ZM962.8 241.6L960.1 245.3L953.1 239.6L959.7 237.8ZM976.7 273.3L961.3 280.4L962.2 282.3L977.6 275.2ZM959 259.9L955.7 261.1L952.6 257.6L956.2 256.6ZM967.6 258.2L961.5 265.3L963.4 266.9L969.5 259.9ZM972.1 266.6L967.3 267.8L965.9 265.6L969.3 262.1ZM1000.2 276L997.4 279L995 275.4L996.5 273.2ZM971.4 250.7L971.2 261L973.8 261L974 250.7ZM1321.3 114.5L1302.3 121.3L1303.2 123.8L1322.2 117ZM1256.5 146.3L1253.9 151.2L1248.8 143.5L1253.1 139.1ZM1305 130.5L1321.3 138.8L1322.6 136.3L1306.3 128ZM1369.3 159.9L1360.3 164L1356.7 156.5L1365 150.1ZM1420.3 132L1416.1 136.6L1409.7 130.2L1414.3 124.6ZM1275 134.8L1257.5 146.7L1258.9 148.8L1276.5 136.9ZM1289.1 129.6L1280.5 136.3L1279.2 128.8L1284.3 123.9ZM1339.8 139L1351.5 153.3L1353.6 151.5L1341.9 137.3ZM1420 117.4L1418 120.6L1413.9 118.3L1418.2 115.5ZM1411 142.6L1407.4 145.4L1404.1 142.6L1407.8 139ZM1351.7 157.3L1345.8 166.8L1347.6 167.9L1353.5 158.4ZM1307.6 151.9L1305.2 156.9L1300.7 155.4L1304.3 149.3ZM1357.2 129.5L1353.2 132.5L1352.1 128.6L1355.2 126.4ZM1336.2 135L1331.1 140.3L1324.8 136.4L1334.2 129ZM1377 147.5L1366.7 147.8L1366.8 150.5L1377.1 150.2ZM1401.3 134L1402.1 150.7L1405.1 150.6L1404.3 133.8ZM1360.4 117.7L1357.6 122.4L1352.2 119.5L1357 114.8ZM1275.6 158.4L1266.7 161.6L1267.7 164.4L1276.6 161.1ZM1312.9 153.6L1325.2 157.4L1325.9 155.1L1313.6 151.3ZM1359.8 173.9L1371.8 174.4L1371.9 171.3L1359.9 170.8ZM1372.2 156.2L1378.9 161.3L1380.6 159L1373.9 153.9ZM1420.9 151.9L1418.6 156.6L1414.6 153.2L1416.7 149.3ZM1304.5 164.5L1300.3 166L1298.3 164.4L1301.8 160.6ZM1134.8 357L1132.7 359.4L1129.9 357.3L1133 353.8ZM1158.1 343.2L1162.6 353.3L1164.9 352.3L1160.3 342.2ZM1150.2 331.2L1137.4 333.8L1137.9 336.3L1150.7 333.7ZM1187.4 320L1180.5 321.3L1177.4 315.8L1180.8 314.2ZM1185.5 331.8L1199.2 344.1L1200.9 342.1L1187.3 329.8ZM1129.4 319.8L1122.4 326.9L1123.9 328.4L1131 321.4ZM1147.6 349.2L1143.1 354.7L1137.6 351.5L1140.5 347.2ZM1139.7 350.3L1135.4 353.2L1133.4 351.2L1137.2 348ZM1129 352.4L1117 353.7L1117.2 356L1129.2 354.8ZM1198.1 340.8L1190.3 356.4L1192.8 357.7L1200.6 342.1ZM1140.6 319.5L1143.1 329.1L1145.5 328.5L1143 318.9ZM1141.5 312.7L1154.9 324.4L1156.2 322.9L1142.9 311.2ZM1208 325L1202.9 328.8L1197.1 323.6L1200.1 320.1ZM1165.5 335L1161.4 339.5L1159 336L1164 331.7ZM1159.8 319.3L1155.1 323.5L1152.7 320.2L1156.8 317.5ZM1204.7 327.5L1217.7 334.1L1219.2 331.2L1206.1 324.7ZM1220.2 327.5L1215.2 333.1L1214 328.4L1217.8 324.6ZM1227.1 354.6L1222.6 361L1217.6 356.4L1220 348.9ZM1157.2 346.1L1163.1 357.3L1165.8 355.9L1159.8 344.7ZM1204.4 347.9L1210.4 357.7L1212.2 356.6L1206.2 346.8ZM1115.7 347.7L1122.9 352.9L1124.6 350.6L1117.3 345.3ZM1184.3 320.9L1204 329.1L1205.1 326.5L1185.3 318.3ZM1215.8 328.2L1206.5 335L1202.7 330.9L1211 325.9ZM1418.1 309.4L1408.1 312.5L1408.9 315.1L1418.9 312ZM1383.2 309.5L1393.6 316.2L1395 314L1384.6 307.3ZM1402.8 301.8L1408.1 318.8L1411.2 317.8L1405.8 300.8ZM66.3 365.2L61.4 369.8L57.3 365.3L61 362.6ZM107.8 361L102.7 367.5L96.2 360.1L100.2 356.2ZM93.8 369.5L99.9 382.9L102.3 381.8L96.2 368.4ZM76.2 352L90.7 364.7L92.1 363L77.6 350.4ZM86.9 366.5L81.5 375.5L83.8 376.9L89.3 367.9ZM534 483.8L527.5 488.6L525.7 484.7L530.8 480.4ZM541.2 485.2L538.4 489.9L532.2 488.3L537.7 483.7ZM529.8 492.7L524.7 494.8L523 490.8L527.6 488.2ZM508.8 462L515.6 470.5L517.2 469.1L510.4 460.7ZM492.2 462.5L483.1 466.3L482.3 460.5L483.7 456.8ZM538.5 495.2L548.5 498.5L549.5 495.7L539.5 492.4ZM591.1 462.7L586.4 467.2L583.7 463.9L587.3 459ZM521.4 459.5L511.4 469.2L513 470.8L523 461.2ZM488 413.4L492.6 433.7L495.4 433L490.8 412.8ZM520.5 427L514.1 433.3L507.9 428.7L514.7 422.8ZM579.8 452.8L574.1 460.8L576.4 462.4L582.1 454.4ZM546.4 423.4L539 436.5L541.1 437.7L548.6 424.6ZM487.9 465.4L484.4 470.4L477.8 463.8L481.7 459ZM574.7 421.8L575.5 440.9L578.4 440.8L577.6 421.7ZM517.7 438.9L507.8 454.7L509.8 456L519.8 440.2ZM553.3 426L547.2 432.6L544.3 428.2L549.6 422.5ZM484.1 463.7L496.8 478L499 476.1L486.3 461.7ZM527.2 495.3L523.4 499.1L521.4 496.3L523.3 494.2ZM554.9 481.6L552.4 484.1L550.1 481.2L552.4 478.1ZM554.5 416.3L543.1 419.8L544 422.8L555.4 419.3ZM526 493.5L524.2 499L515.2 492L523 488.1ZM570.8 495.3L565.9 499.6L563.4 496.1L565.4 492ZM569.4 494.7L563.2 506L565.8 507.3L571.9 496ZM521.3 463.2L517.7 467.9L511 463.9L514.7 459.6ZM553.3 458.4L550.1 461.3L547.7 457.4L551.3 455ZM480.3 491.5L474.1 496.6L469.5 488.3L471.6 485.4ZM535 421.5L531.6 425.9L527.7 422.7L531.6 418.6ZM544.1 465.3L540.7 468.6L537.4 465L539.3 460.9ZM478.5 479L475.7 482.8L469.8 480.8L472.1 475.1ZM517.2 454.1L513.2 457.8L509.9 454.1L511.1 450.2ZM528.7 486.1L513.7 489L514.2 491.5L529.1 488.6ZM541.3 441.1L535.7 461.1L538 461.8L543.6 441.7ZM466.8 487.1L462.9 489.4L457.5 485.7L462.5 483.1ZM541.2 482.4L520.7 483.6L520.9 485.9L541.3 484.7ZM583.1 474.1L580.6 478.2L573.9 473.9L578.5 468.4ZM527.9 483.4L524.4 485.6L521.2 484.6L524.4 480.7ZM508.5 418.6L504.6 420.4L502.6 418.3L504.1 414.7ZM587.6 446.4L586.7 450.5L581.8 446.7L584.5 444.1ZM482.8 459.3L474.5 464.9L470.6 457.3L472.6 454ZM468.3 459.2L459.2 469.4L460.8 470.8L469.9 460.6ZM582.1 474.3L579.2 477.6L570.8 470.2L578.9 464.5ZM547.1 446.5L539.9 452.1L537.4 445.3L543.8 444.3ZM542.5 474.1L536.4 478L529.1 472.5L536.3 467ZM582.9 494L576.5 501.5L572.9 497.7L580.7 489.1ZM519 492.7L530.3 498.9L531.8 496.3L520.5 490ZM468.8 487L464.8 490.2L463.7 487.8L465.4 485.4ZM557.9 458L549.5 463.4L546.8 459.5L551.4 451.1ZM512.5 451.8L508.9 455.8L503.1 451.7L510.2 447.2ZM582.5 438.1L579 442.8L573.6 437.8L577.8 434.3ZM493.8 427.4L488.6 430.9L486 426L490.2 423.1ZM511.8 415.1L508.7 422L503.2 418.1L505.4 412.2ZM513.1 435.2L495.2 445.4L496.2 447.1L514.1 437ZM504.6 413.6L513.9 426.8L516 425.3L506.7 412.1ZM338.3 516.4L331.3 522.1L328.6 518L332.8 512.9ZM130.6 552.9L129.8 562.5L131.9 562.7L132.8 553.1ZM613 520.7L609.9 534.8L612.6 535.4L615.7 521.3ZM89.1 507.6L82.7 512.4L77.3 504.2L83.7 501ZM507.2 526.1L492.1 536.4L493.3 538.1L508.4 527.8ZM245 535.5L232.6 550.4L234.3 551.9L246.7 536.9ZM85.7 534L85 550.7L88 550.8L88.8 534.2ZM181.1 544.3L177.1 547.3L175.8 545.7L177.3 542.3ZM301.8 580L298.4 582.7L293.7 577.6L298.5 574.8ZM52.2 511.1L49.1 515.7L42.8 512.6L49.7 506.7ZM618.3 546.7L617.4 557L619.7 557.2L620.6 546.9ZM84.8 550.7L80.6 556.4L78 551.3L81.3 548.7ZM24.2 543.9L34.3 553.8L36.5 551.5L26.4 541.6ZM457.5 511.8L462.3 524.6L464.4 523.8L459.5 511ZM86.1 510.9L83.9 515.2L78 510L83.5 508.2ZM492.3 516.6L476 527.5L477.4 529.7L493.7 518.7ZM216 494.7L213.3 496.6L210.7 494.1L212.1 490.8ZM345.9 566.4L338.9 571.7L337.2 565L342.8 561.2ZM337.4 564.2L344.4 580.8L347.2 579.6L340.2 563.1ZM59.9 540.4L46.3 544.4L46.9 546.4L60.5 542.4ZM582.6 491.4L572.8 491.9L572.9 494.4L582.7 494ZM151.4 505.1L156.5 512.2L158.7 510.7L153.5 503.5ZM322.7 529.7L334.8 537.7L336.3 535.4L324.2 527.4ZM191.4 545.7L186.3 549.6L179.3 545.2L186.8 537.6ZM262.7 542.1L259.2 549.8L252.9 545.2L254.1 538.5ZM688.6 505.8L684.7 508.9L683.1 507.1L685 504ZM32.7 524.6L17.5 531.9L18.5 534L33.7 526.6ZM294.6 581.9L291.2 586.6L283.7 584.2L289.3 579.8ZM242.2 522.2L238.5 525.5L231.1 519.2L240.2 513.9ZM582.1 537.5L578.7 540.4L576.6 536.9L580.3 534ZM521.8 497.8L526.2 519.2L528.3 518.8L523.8 497.4ZM279.2 543.2L291.4 545.1L291.7 543L279.5 541.1ZM177.1 519.9L183.2 529.8L185.1 528.6L179 518.7ZM288.3 512.1L288.7 531.8L291.6 531.8L291.1 512.1ZM442.7 545.4L435.2 548.8L436.5 551.6L444 548.2ZM546.1 496.4L528.7 506.5L530.2 509.1L547.5 499ZM271.5 579.4L269.2 586.4L263 582L265.6 575.2ZM112.5 528.5L126.6 534.8L127.6 532.5L113.5 526.3ZM342.1 561.6L345.5 572L347.8 571.2L344.5 560.9ZM266.2 549.7L262.4 554.1L256.3 550.9L260.2 547.8ZM327.4 532.1L319.4 538.5L318.9 531.6L321.4 528.7ZM274.5 584.4L272.9 586.9L269.5 584.5L272.8 581.6ZM92.4 493.7L75.6 495.3L75.9 498.5L92.8 496.8ZM683.9 513L680.2 515.1L677.6 513.5L680.8 508.6ZM155.1 545.9L153.4 557.3L156.3 557.8L158 546.4ZM658.9 511.5L656.6 513L654.2 510.2L655.8 507.5ZM477.7 539.3L472.7 549.8L474.6 550.6L479.5 540.1ZM317.4 539.2L338.5 539.4L338.5 536.8L317.4 536.7ZM286.5 558L301 561L301.6 558.3L287.1 555.2ZM191.5 558L180.2 567.6L182.2 569.9L193.5 560.4ZM292.6 522.1L285.8 525.7L281.5 522.9L287.4 516.9ZM197.8 535.8L188.8 537L189.2 539.6L198.1 538.4ZM536.4 523.5L534.7 525.5L530.8 522L533.1 519.5ZM629.9 519.1L628.8 524.3L621.2 519.2L628.1 514.8ZM399.6 563L389.4 567.1L384.9 560.2L394.6 554ZM460.6 496.4L472.8 512.3L475.1 510.5L462.9 494.6ZM47.9 518.1L43 522.9L39.3 518.9L44.6 515.6ZM364.5 527L367.7 541.7L370.6 541.1L367.4 526.4ZM28.8 545L31.6 558.6L34.4 558L31.6 544.4ZM206.9 524L210.2 535.5L212.9 534.8L209.6 523.3ZM240.4 572.8L234.6 581.7L236.5 582.9L242.2 574ZM598.8 522.1L609.4 526.6L610.2 524.5L599.6 520ZM310.2 525.2L299.3 529.9L300.2 531.9L311.1 527.2ZM209 544.6L206 546.5L202.2 544.1L206.5 541.5ZM496.1 525.3L492.3 546.1L494.7 546.6L498.5 525.7ZM298.1 536.1L295.9 542.6L289.8 535.3L294.5 531.8ZM464.7 539.6L460.3 542.6L457.7 539.7L459.8 534.2ZM159.4 558.1L154.3 562.2L147.1 557.4L155.1 551.4ZM386.3 516.7L372.1 523.1L373.3 525.9L387.5 519.5ZM467.8 535.8L463.9 538.1L460.4 536.4L464.4 532.1ZM163.4 537.6L160.8 554.5L162.9 554.8L165.5 537.9ZM396.1 533.4L392.2 543.8L394.3 544.6L398.2 534.2ZM618.1 561.4L616.6 562.6L612.8 560.3L615 557.2ZM474.2 517.4L490.9 524.9L492 522.5L475.3 514.9ZM174.7 530.2L161.3 535.1L162 537.2L175.5 532.3ZM623.7 555.6L619.4 560.8L611.2 553.8L617.9 551.6ZM197.5 502L189.3 511L185.1 500.4L191.3 499.6ZM167.5 534.3L180.4 541.1L181.7 538.6L168.8 531.8ZM90 515.8L81.2 519.3L82.3 522L91.1 518.5ZM593.3 550.1L591 555L588 551.1L588.8 548.8ZM91.1 510.4L76.2 510.5L76.2 512.9L91.1 512.8ZM460.8 525.1L455.6 531.7L453.6 527.8L457.4 524.2ZM517 500.1L530 508.8L531.2 507.1L518.1 498.3ZM356.7 557.8L350.2 566.6L352.6 568.4L359.1 559.6ZM31.4 533.6L29.7 538L23.4 532.1L29.3 526.5ZM433.3 548L418.2 553.4L419.1 555.7L434.1 550.3ZM409.4 537.7L400.5 553.2L403 554.6L411.9 539.2ZM661.7 534.3L658.4 540L649.6 535.7L659.3 529.2ZM698.7 528L690.8 538.3L693.3 540.3L701.2 529.9ZM671.8 526.9L663.3 539.7L665.6 541.2L674.1 528.4ZM672.3 542.2L669.8 546.2L663.4 542.2L669.8 538.5ZM685.3 517.7L682.3 527.2L672.1 520.9L681.1 512.5ZM668.3 521.7L685.3 528.8L686.2 526.4L669.2 519.4ZM666.6 507.2L661.2 510.6L656.4 506L662.6 499.9ZM632.3 523.6L641.3 538.8L643.8 537.3L634.9 522.1ZM633.3 518L626.8 521.8L622.1 517.1L629 511.5ZM1181.8 496.5L1179.6 498.2L1177.4 496L1180 493.1ZM1282.1 405.4L1278.7 406.3L1273.9 404.4L1276.6 398.9ZM1128.1 369.2L1118.9 379.8L1120.8 381.4L1130 370.8ZM1195.5 463.8L1193.6 469.1L1184.3 460.6L1188.4 456.1ZM1260.3 410.3L1255.7 417.2L1249 406.9L1252 401.5ZM1200.1 429L1192.9 435.3L1184.4 426.7L1194.1 422.2ZM1211.5 416.1L1209.7 419.3L1205 414.3L1209 412.2ZM1252.2 426.8L1247.3 431.8L1241.4 426.5L1247 418ZM1176.6 468.5L1171.5 470.7L1166.7 465.9L1171.6 462.3ZM1174.3 425.7L1187.8 428.3L1188.4 425.3L1174.9 422.7ZM1220.5 461.1L1216 466.7L1208.5 459.6L1214.2 455.3ZM1183.9 445.5L1175.3 454.7L1177 456.2L1185.5 447.1ZM1119 366.7L1132 383.4L1133.7 382.1L1120.7 365.4ZM1186 460L1182.5 463.8L1180 462.9L1181.4 457.9ZM1190.8 391.2L1187.7 395.1L1185 392.5L1186.9 387.9ZM1239.8 389.3L1228.2 394.1L1229.4 397L1241 392.1ZM1219.9 476.8L1206 487.5L1207.5 489.5L1221.5 478.8ZM1262.6 431.4L1256.6 436L1253.5 432L1255.6 425.3ZM1155 354L1156.7 369.5L1159.3 369.2L1157.5 353.7ZM1161 365.3L1162.6 378.8L1164.7 378.6L1163.2 365ZM1271.3 410.3L1268.1 413.3L1265.1 410.9L1269.5 406.6ZM1180.1 395.4L1185.7 403.6L1188.3 401.9L1182.7 393.7ZM1150.1 368.4L1152.5 377.5L1155.5 376.7L1153 367.6ZM1235.6 373.8L1232.7 376.1L1229.7 371L1234.3 368.5ZM1214.9 364.5L1212.6 367.7L1209 363L1212.1 361.1ZM1160.5 426.2L1176.5 437.6L1178.2 435.2L1162.2 423.8ZM1181.3 364.1L1164.9 372.6L1166.1 374.9L1182.5 366.4ZM1218 449L1207.8 457.3L1209.7 459.6L1219.9 451.3ZM1140.7 377.8L1145.8 392.9L1148.4 392L1143.3 376.9ZM1230.2 370.2L1239.6 374.4L1240.8 371.7L1231.5 367.4ZM1180.2 394.4L1196.6 395L1196.7 392.9L1180.3 392.4ZM1178.4 368L1174.9 372.2L1167.9 366.4L1172.5 362.6ZM1202.2 486.2L1199.9 488.7L1194.7 484.6L1200.4 482.2ZM1210.8 424.9L1193.6 431.7L1194.5 434L1211.8 427.3ZM1190.5 444.3L1188.1 447.1L1185.4 444.6L1188.3 440.8ZM1217.6 423.1L1213.6 425.6L1208.9 419.1L1214.2 416.6ZM1220.2 458.6L1214.4 462.9L1209.3 459.1L1217.3 452.5ZM1188.3 353.7L1199.2 371.1L1201 370L1190.1 352.6ZM1203.4 452.4L1200.8 454.3L1195.9 451.4L1197.3 445.2ZM1201.7 474.8L1200.4 477.5L1195.4 474.7L1197.7 469.6ZM1285.3 380.5L1267.1 382.8L1267.4 385.4L1285.6 383.1ZM1155.8 418.5L1171.3 428.6L1172.6 426.6L1157.1 416.5ZM1269.2 416.9L1266.6 421.7L1261.6 415.3L1267.5 413.8ZM1226.4 426.2L1223 428.2L1220.4 425.8L1223.4 422.2ZM1206.3 413.9L1222.9 422.5L1224 420.3L1207.4 411.6ZM1259.6 382.8L1275.4 384.4L1275.7 381.5L1259.9 379.9ZM1241.4 416.8L1238.5 419L1232.7 415.1L1235.9 413.6ZM1194 493.8L1191.7 496.6L1188.6 492.1L1191.5 489.3ZM1268.7 409.2L1265.9 424.7L1267.9 425.1L1270.7 409.6ZM1232.3 447.6L1222 450.4L1218.6 444.9L1226.1 440.2ZM1149.1 370.4L1162 375.3L1163 372.8L1150 367.9ZM1213.6 422.6L1224.4 424.6L1224.9 421.9L1214.1 419.9ZM1208.6 484.5L1199.3 494.6L1201.4 496.5L1210.7 486.3ZM1238.7 429.7L1234.3 432.6L1230.4 427.9L1235.5 423.3ZM1199.5 398.9L1196.7 405.5L1190.3 398L1197.3 394.6ZM1190 434.8L1186.3 441.4L1181.3 434.3L1188.6 430.8ZM1211.3 417.6L1223.2 433.9L1225.4 432.2L1213.6 416ZM1203.2 501L1198.1 502.3L1196.4 499.4L1198.8 495.1ZM1169.5 390.7L1161.5 395.6L1156.7 389L1161.3 383.5ZM1242.1 411.1L1248.3 429L1250.7 428.2L1244.5 410.3ZM1188.2 390.1L1185.2 396.3L1181.5 391.9L1186.9 387.7ZM1190.2 420.9L1204 425.7L1204.9 423L1191.1 418.3ZM1191.6 367.3L1182.6 374.7L1178.4 369.6L1183.8 364.7ZM1275 400.2L1272.3 401.8L1269.4 401.2L1272.8 396.9ZM1179.5 430.3L1189.6 437.1L1190.9 435.2L1180.8 428.3ZM1172.9 459.9L1192.5 463.3L1192.9 461.1L1173.3 457.7ZM1139.6 368.8L1135.4 375.2L1129.4 372L1131.4 364.3ZM1219.7 405.9L1204.6 421.3L1206.1 422.8L1221.2 407.4ZM1178.9 453.7L1176.2 457.5L1171.5 453.2L1174.1 449.6ZM1183 497.4L1187.6 517.8L1190.4 517.1L1185.8 496.8ZM1185.6 477.6L1181.5 480.6L1180.7 478L1184.8 473.1ZM1227.2 410.8L1242.2 425.9L1243.7 424.4L1228.7 409.3ZM1235.8 377.2L1220.9 378.8L1221.2 381.9L1236.2 380.3ZM1215.9 439.2L1197.3 440.3L1197.5 443L1216.1 441.8ZM1252.2 420.6L1244.2 426.5L1246 428.9L1254 423ZM1185.1 377L1169.8 383.8L1170.7 385.7L1185.9 378.9ZM1186.2 384.3L1198.4 388.6L1199.3 386.2L1187.1 381.9ZM1170.4 436.8L1188.6 444.6L1189.7 442.2L1171.5 434.4ZM1220.9 365.3L1230.8 377.1L1232.5 375.7L1222.6 363.9ZM1253.4 411.1L1251.2 414.3L1247.7 410.7L1249.3 407.8ZM1256 374.1L1238.7 380.4L1239.5 382.5L1256.8 376.2ZM1191.3 362.7L1181.2 369.9L1178 361.9L1184.1 356.6ZM1180.9 468.6L1178.1 471.5L1171.5 466.7L1177.7 461.1ZM1311.9 546.9L1327.6 557.8L1328.7 556.1L1313.1 545.2ZM1189.7 548.1L1183 549.8L1179.5 547.3L1183.7 541.3ZM1257.3 550.3L1252.3 553.3L1250.3 551.6L1254.2 546.7ZM1351.3 562.7L1348.8 570.4L1351.1 571.2L1353.6 563.5ZM1237 557.6L1228.3 572.9L1230.3 574L1239 558.7ZM1202.2 527.7L1193.7 533.8L1190.5 528.9L1193.2 525ZM1383.5 563.7L1392.9 581.4L1395.1 580.3L1385.7 562.6ZM1351.1 539.2L1342 542L1342.8 544.7L1352 541.9ZM1206 541.2L1201.9 547.3L1197 542.6L1200.6 538.4ZM1352.9 575.2L1348.4 579L1346.1 577L1348.6 573ZM1309.1 511.2L1305.9 517.6L1298.4 514.4L1302.3 506.2ZM1357.9 509.2L1338.4 516.7L1339.3 519.2L1358.8 511.7ZM1370.4 524.8L1366.8 529.2L1361.8 523.6L1367.2 520.1ZM1196.6 525L1210.3 533.2L1211.7 531L1197.9 522.7ZM1261 571L1245.9 585.5L1248 587.8L1263.2 573.3ZM1253.3 566.2L1259.8 572.3L1261.4 570.5L1255 564.4ZM1372.6 500.1L1371.3 503.1L1366.2 500.1L1368.7 497.7ZM1189.4 533.9L1178.5 552.5L1180.9 553.9L1191.8 535.3ZM1371.7 498.3L1365.5 509.8L1367.7 511L1373.9 499.5ZM1192.3 539.2L1192.4 557.1L1194.4 557.1L1194.3 539.2ZM1310.2 564.4L1302 565.5L1302.3 567.6L1310.4 566.4ZM1226.8 533.9L1223.3 536.4L1218.1 532.1L1223.5 527.8ZM1253.4 574.6L1238 582.6L1239.5 585.4L1254.9 577.4ZM1231.4 503.2L1235 513.4L1237.5 512.5L1233.8 502.3ZM1354.6 502.4L1368.6 513.1L1370.1 511.2L1356 500.5ZM1202.8 526.2L1199.6 529.2L1195 524.9L1198.3 523.9ZM1270 553.5L1272.1 568.6L1274.2 568.3L1272.1 553.3ZM1393.3 542.5L1378.2 547.2L1379 549.7L1394.1 545ZM1355.9 543.3L1353.1 558.4L1355.8 558.9L1358.6 543.8ZM1368.1 509.2L1364.3 510.3L1361.1 507.5L1364.1 504.5ZM1231.6 573.5L1215.5 573.9L1215.6 576.2L1231.7 575.9ZM1320.4 497.6L1328.6 510.1L1330.8 508.6L1322.6 496.1ZM1239.5 552.6L1247.3 558.7L1249.2 556.3L1241.4 550.2ZM1227 502.3L1216.2 517.4L1218.8 519.3L1229.6 504.2ZM1307.7 517.1L1303 519.7L1296.2 513.7L1304.6 508.8ZM1285.8 502L1279.8 509L1273.6 505.7L1279.3 498.1ZM1286.4 526.2L1279.9 534.7L1274.6 527.3L1277.5 523.3ZM1427.1 503.7L1422.8 507.9L1420.1 505.3L1422.2 502.3ZM1311.1 523.2L1316.2 531.1L1318.2 529.8L1313.1 521.9ZM1298.4 540.5L1294.8 542.6L1293.4 540.9L1295.1 537.4ZM1270.1 561L1267.8 566.1L1263 558.7L1267.3 556.5ZM1191 546.9L1186.4 554.6L1180.6 550.8L1184.5 542.8ZM1391.5 515L1381.5 526.1L1383.6 528.1L1393.7 517ZM1408.4 560.3L1394.9 566.2L1395.8 568.4L1409.4 562.5ZM1289.8 580.4L1287 584.2L1280.7 580.7L1284.9 575.4ZM1211.9 571.7L1209.3 573.9L1206 570.4L1208.8 566.9ZM1317.7 566.9L1311.2 572.2L1307.4 564L1314.8 561.2ZM1055.9 529L1049.1 533L1043.7 528.3L1048 521.5ZM1026.8 556.6L1022.3 561.3L1020.9 556.6L1023.9 555.3ZM928.4 554.2L943.9 561.5L944.8 559.6L929.3 552.2ZM916.4 560.9L911 567L912.5 568.4L918 562.2ZM980.8 541.3L978.2 543.2L975 542.1L977.9 538.2ZM951.7 559L949.7 566.9L952.3 567.6L954.3 559.7ZM988.2 545.7L988.2 561.9L990.7 561.9L990.7 545.7ZM939.9 543.9L937.7 548.7L932.6 544.2L937.6 540.4ZM931.8 545.4L923.3 550.5L921.2 546.4L928.8 539ZM1021.2 549.8L1032.4 554.8L1033.6 552.2L1022.4 547.2ZM933.8 531.2L942.6 536L944 533.4L935.2 528.6ZM1063.4 560.2L1059.6 562.6L1057.5 561.4L1061.5 556.7ZM823.4 493.8L808.5 503.4L809.8 505.5L824.7 495.9ZM842.1 477.3L835 486.2L831.5 481.2L836.8 473.8ZM836.7 455.4L833.1 458.2L830.8 456.9L834.4 454.1ZM825.4 461.4L837.8 476.2L839.9 474.5L827.5 459.6Z" fill="#7f3b08"/><path d="M110.2 187.6L105.8 196.1L100.5 186.7L103.1 184.1ZM87.5 163.7L85.1 166.8L81 163L84.7 161.3ZM94.6 181L90.8 185.4L88.7 183.2L93.9 178.8ZM220.5 182.7L218.6 186.8L214.6 184.2L216.2 179.6ZM63.3 188.2L61.6 191.6L57.5 190.7L61.6 185.7ZM42.8 175.6L43.1 195.1L45.6 195.1L45.3 175.6ZM366.5 269.6L362.1 273.3L358.2 267.6L362.4 265.5ZM280.3 226.7L289.3 242.9L292 241.4L283 225.2ZM378.9 267L367.8 268.5L368.1 271.1L379.3 269.6ZM380.9 251.7L376 259.2L367.9 251.6L373 249.4ZM292.7 256.8L299 266.6L301.2 265.2L294.9 255.4ZM518.4 227L525.6 247.7L528.2 246.8L521 226.1ZM508.8 245.8L506.8 249.1L501.4 244L506.4 239.7ZM510.1 194.1L503.8 202.7L505.7 204.1L512 195.5ZM518.4 202.7L524.3 218.9L527.1 217.8L521.2 201.7ZM34.3 345.4L43 345.6L43.1 343.2L34.4 343ZM74.4 337.6L70.6 341.5L68.1 339L68.8 333.6ZM61.5 337.2L57.8 340.9L51.8 338.9L56 332.6ZM112 332L109.8 334L103.5 331.1L105 324.4ZM118.7 331.6L117.5 334.6L113.4 332.1L116.7 327.9ZM90.7 320L70.2 327L70.8 329L91.4 322ZM1063.8 206.5L1059.1 209.2L1056.7 207.2L1059.1 203ZM1124.4 200.5L1134.8 209.2L1136.6 207L1126.3 198.3ZM811.6 158.8L800.5 173.8L802.2 175.1L813.3 160.1ZM897.1 180.5L894.5 185.1L889 182.5L892.1 176.4ZM859.5 182.7L857.1 194.6L859.6 195.1L862 183.2ZM774.4 163.6L770.6 170.7L772.9 171.9L776.7 164.8ZM805.6 194.7L803 198.3L799 196.6L803.2 192.5ZM928.7 146.3L932.1 160.8L934.2 160.3L930.9 145.8ZM984.6 274.2L980.8 276.5L979.3 275.3L980.5 272.3ZM1337.4 168.8L1332.7 173.8L1324.4 166.5L1329.4 163.6ZM1124.4 317.3L1127.1 335.4L1129.2 335.1L1126.5 317ZM1222 327.6L1211.3 331L1212.1 333.6L1222.8 330.2ZM1168.2 347.7L1159.3 363.6L1161.4 364.8L1170.3 348.9ZM1129.9 340.6L1127.4 343.6L1122.3 341.9L1125 336.5ZM1133.8 349.5L1133.6 360.3L1135.7 360.4L1135.9 349.6ZM1168.7 343.9L1163.1 345.7L1161 341.1L1164 338.5ZM1219.8 341.6L1208.7 359.5L1211.1 361.1L1222.3 343.1ZM1198 311.4L1186.8 320.4L1188.3 322.3L1199.5 313.2ZM90.3 375.2L85.2 377.9L81.9 375.4L88.6 369.7ZM103.8 376.1L100.7 379.2L97.7 376L101.2 374.9ZM553.9 469.1L549.8 472.1L546.5 466.6L550.4 463.8ZM479.3 442L481.4 459.1L484 458.8L481.9 441.6ZM556.1 414.4L568.3 415.1L568.5 412.3L556.3 411.5ZM557.5 477.8L553.1 481.2L547.5 477.4L551.3 473.4ZM544.8 487.6L533.3 489.9L533.8 492.5L545.3 490.1ZM508.6 464L520.2 469.2L521 467.2L509.5 462ZM521.3 468.2L519.6 473.3L512.6 468.3L519.7 464.5ZM151.1 498.5L145.4 503.2L143.3 500.5L148.6 496.9ZM470.4 531.5L465.9 537.7L460.5 531.2L464.1 529.7ZM596.2 518L584 519.3L584.3 521.5L596.5 520.2ZM6.6 505.8L-3.6 509.4L-2.6 512.3L7.6 508.6ZM186 557L171.9 562.2L173 565.2L187.1 560ZM514.8 528L534.8 531.1L535.2 528.8L515.1 525.8ZM427.1 510.7L418.3 519.4L413.8 510.1L418.9 504.5ZM453.6 540.3L461.4 542.7L462.1 540.3L454.3 537.8ZM590.5 489.3L585.2 497.6L587.7 499.2L592.9 490.8ZM6.9 538.4L3.2 541.6L-0.3 538.3L4.7 535.2ZM672.8 530.5L657.4 543.2L658.7 544.7L674.1 532ZM693.1 522L688.3 527L684.9 521L689.2 517.5ZM642.1 497.2L638.1 498.3L632.5 496.2L637.4 490.3ZM1218 368.2L1225.9 373.8L1227.5 371.5L1219.6 366ZM1203.2 491.2L1200.3 493.8L1197.8 491.7L1199.9 489.4ZM1235.2 388L1248.9 397.8L1250.5 395.6L1236.8 385.7ZM1158.3 404.6L1161.5 419L1164.1 418.4L1160.9 404.1ZM1208.3 473.2L1220.1 486.3L1222.3 484.3L1210.5 471.2ZM1267.4 372.8L1263.4 378.7L1257.4 373.5L1264.3 369.8ZM1205.4 392.3L1215.6 411L1218 409.7L1207.8 391ZM1188.1 512.9L1183.1 517.6L1180.9 512.5L1185.9 510ZM1226.6 456.5L1217.8 464.4L1214.8 457.2L1220 454.6ZM1218.6 397.8L1211.4 407.7L1213.2 409L1220.4 399.1ZM1271.2 399L1270 405L1262.4 397L1266.6 393.8ZM1198.3 416.2L1195.8 421.3L1189.3 418.7L1193.6 412.8ZM1226.8 460.9L1222.3 468.5L1219.4 463L1223.2 456.4ZM1176.1 467.2L1170.5 469.6L1163.9 465.2L1172.4 461.8ZM1178.8 359.8L1171.4 365.8L1166.5 359L1169.9 355.3ZM1306.5 510.3L1294 515.8L1295.1 518.4L1307.7 512.9ZM1286 492.9L1298.4 507L1300.1 505.5L1287.7 491.4ZM1274.3 517.4L1265.5 522.8L1263.9 515L1266.9 510.7ZM1374.3 528L1372.7 532.9L1367.1 528.6L1370.9 525.4ZM1273.7 501.8L1269.2 506.8L1260.7 498.2L1267.7 494.5ZM1306.7 550L1303 556.7L1295.8 550.9L1301.8 545.7ZM1402.5 510.8L1383.7 514.8L1384.3 517.6L1403.1 513.6ZM1310.2 521.1L1305.2 526.3L1299.1 520.8L1303.9 514.5ZM1346.8 485.4L1345 505L1347.2 505.2L1349 485.6ZM1341.3 575.4L1356.9 584.4L1358.2 582.2L1342.6 573.2ZM994.5 529.7L990.4 536L986.2 532.3L988.3 527.3ZM1056.1 556.5L1054.6 558.9L1050.2 556.2L1053 552.6ZM1066 548.8L1064.2 552L1059.2 549.9L1064.2 543.4ZM1028 535.9L1020 539L1017.8 533.2L1022.7 528.8ZM820 494.6L816.6 497.1L810.3 494.2L812.6 487.7Z" fill="#7b6aa8"/><path d="M70.7 192.4L49.7 195.4L50.2 198.6L71.1 195.6ZM56.9 204.2L63.3 213.7L65.9 211.9L59.5 202.4ZM50.4 191.4L43.1 202.6L45.3 204L52.6 192.8ZM368.5 265.4L355.7 272.4L357.1 275.1L369.9 268ZM336.1 277.6L326.3 278.3L326.6 281.4L336.3 280.7ZM540.4 223.2L538.1 226.5L532.5 224.2L535.7 218ZM508.9 239.9L497 248.8L498.5 250.9L510.5 242ZM520.5 185.8L518.9 188.5L515.3 183.8L518.3 182.4ZM1042.1 184L1031.8 190.1L1028.7 186L1033.1 176.3ZM1098.2 224.7L1084 224.9L1084.1 227.6L1098.2 227.4ZM1097.2 195.2L1094.7 198.4L1092 196.6L1095.1 192.8ZM733.4 181.3L731.5 184.2L727.4 183L731.1 178.2ZM911.5 164.2L920 178.5L922.4 177L913.9 162.7ZM874.1 156.7L892.6 158.4L892.8 156.3L874.3 154.6ZM838.3 179L834.1 186.3L828.6 180L833.2 175.2ZM1410.3 123.7L1389.1 125.8L1389.3 127.9L1410.5 125.8ZM1367.5 130.6L1362.9 137.8L1358.8 130.1L1361.5 126.6ZM1414.6 120.8L1416.7 135.4L1418.9 135.1L1416.8 120.5ZM1288.2 148.4L1280.2 160L1282.5 161.6L1290.5 149.9ZM1152.6 343.4L1143.1 344.3L1143.4 347.4L1152.9 346.5ZM1140.5 353.8L1133.5 362.6L1128.9 354.1L1135.7 351.8ZM1211.8 350.2L1230.8 359.4L1231.9 357L1213 347.8ZM1392.9 312.4L1410.2 324.8L1411.7 322.7L1394.4 310.3ZM83.9 371.7L92.7 372.3L92.9 370.1L84.1 369.5ZM97.1 361.8L107.1 370.8L108.7 369L98.6 360.1ZM516.9 478.8L512.3 484.8L503.9 477.6L512 472.8ZM468.2 465.1L466.3 468.1L461.9 465.1L464.6 461.5ZM573.8 451.6L568.7 463.9L570.8 464.8L575.9 452.5ZM561.5 455.1L575.9 455.2L576 453L561.5 452.9ZM484.2 449.5L471.6 454L472.6 456.8L485.2 452.4ZM604.1 452.7L584.9 460.9L586 463.4L605.2 455.3ZM551.2 489.4L531 497.6L531.8 499.5L552 491.3ZM186.7 557.4L190.4 564.6L192.6 563.5L188.9 556.3ZM301.3 531.6L296.1 534.1L288.1 527.7L295.3 524.5ZM16.5 536.8L7.6 546.2L9.3 547.8L18.2 538.4ZM306.8 544.4L304 547.8L301.1 545.6L303.3 540.8ZM50.3 539.7L46.2 547.2L39 544.1L41.6 536.2ZM486 494.8L496.7 512.4L498.9 511.1L488.2 493.4ZM487.1 540.3L482.7 541.3L474 533.8L481.3 530.8ZM229.4 569.4L208.3 572.3L208.6 574.4L229.7 571.4ZM251.2 532.1L268.8 532.4L268.8 530.2L251.3 530ZM206.2 526.6L189.9 528.1L190.1 530.2L206.3 528.7ZM555.7 510.5L547.5 516.2L548.9 518.2L557.1 512.5ZM631.4 513.4L621.3 530L624 531.7L634.1 515ZM653.3 523.3L648.7 525.2L644.4 522.5L648.7 516.6ZM658.1 516.2L653.9 520.2L650.2 517.8L653.5 513.2ZM667.2 522.2L664.8 528.4L658.9 522.3L664.5 520.4ZM1279.6 411L1273.5 414.4L1265.1 407.5L1272 400.3ZM1249.3 391.4L1240.9 408.7L1243.5 409.9L1251.9 392.7ZM1421.8 541.6L1417.6 547.2L1415.7 543.6L1419.6 537.9ZM1418.3 514.2L1407.8 514.3L1407.9 516.7L1418.4 516.5ZM1396.8 562.5L1413 568.8L1413.8 566.7L1397.6 560.4ZM1348.8 554.9L1363.9 564.4L1365.5 561.9L1350.4 552.4ZM1212.7 537.2L1224.8 544.2L1225.9 542.3L1213.8 535.3ZM1333.6 522.5L1329.7 525.4L1327.3 523L1328.8 516.2ZM1365.4 566.4L1359.8 571.5L1356.8 567.3L1361.4 560.6ZM1262 504.9L1257.9 506.3L1257.2 503.9L1259.4 501.4ZM1067 552.9L1056.9 562.5L1058.4 564.1L1068.5 554.5ZM1000.2 570.4L1002.8 580.9L1005.4 580.3L1002.8 569.8ZM913.7 546.6L908.9 549.6L904.3 544.5L907.6 541.8ZM851.1 477.7L844.3 484.8L838.7 479.3L842.6 474Z" fill="#bfbbda"/></g>
<use href="#coast" transform="translate(150 1507)"/>
</g>
<rect x="150" y="1507" width="1424" height="715" fill="none" stroke="#000" stroke-width="5.5"/>
<path d="M147.3 1507H129.5M147.3 1626.2H129.5M147.3 1745.3H129.5M147.3 1864.5H129.5M147.3 1983.7H129.5M147.3 2102.8H129.5M147.3 2222H129.5M150 2224.7V2242.5M387.3 2224.7V2242.5M624.7 2224.7V2242.5M862 2224.7V2242.5M1099.3 2224.7V2242.5M1336.7 2224.7V2242.5" stroke="#000" stroke-width="5.2" fill="none"/>
<g clip-path="url(#clipD)">
<rect x="1980" y="1507" width="1424" height="715" fill="#dcdddd"/>
<use href="#white" transform="translate(1980 1507)"/>
<use href="#antblue" transform="translate(1980 1507)" fill="#dcdddd"/>
<use href="#coast" transform="translate(1980 1507)"/>
</g>
<rect x="1980" y="1507" width="1424" height="715" fill="none" stroke="#000" stroke-width="5.5"/>
<path d="M1977.3 1507H1959.5M1977.3 1626.2H1959.5M1977.3 1745.3H1959.5M1977.3 1864.5H1959.5M1977.3 1983.7H1959.5M1977.3 2102.8H1959.5M1977.3 2222H1959.5M1980 2224.7V2242.5M2217.3 2224.7V2242.5M2454.7 2224.7V2242.5M2692 2224.7V2242.5M2929.3 2224.7V2242.5M3166.7 2224.7V2242.5" stroke="#000" stroke-width="5.2" fill="none"/>
<text x="1088.6" y="88.8" font-size="79.5" textLength="1275.9" lengthAdjust="spacingAndGlyphs">vpwp - mfl - 925hpa - DJF - LatLon</text>
<text x="151.3" y="287" font-size="35.3" font-weight="bold" textLength="80.1" lengthAdjust="spacingAndGlyphs">Test</text>
<text x="234.9" y="287" font-size="35.3" textLength="17.4" lengthAdjust="spacingAndGlyphs">:</text>
<text x="255.4" y="287" font-size="35.3" textLength="293.1" lengthAdjust="spacingAndGlyphs">cam019_lminwp2</text>
<text x="150.9" y="327" font-size="35.3" textLength="293.5" lengthAdjust="spacingAndGlyphs">years: 1979-1980</text>
<text x="1979.9" y="286.5" font-size="35.3" font-weight="bold" textLength="159.3" lengthAdjust="spacingAndGlyphs">Baseline</text>
<text x="2144.6" y="286.5" font-size="35.3" textLength="14.7" lengthAdjust="spacingAndGlyphs">:</text>
<text x="2163.7" y="286.5" font-size="35.3" textLength="206.3" lengthAdjust="spacingAndGlyphs">cam019_dflt</text>
<text x="1981.0" y="327.2" font-size="35.3" textLength="293.0" lengthAdjust="spacingAndGlyphs">years: 1979-1980</text>
<text x="1374.8" y="251" font-size="35.3" textLength="103.3" lengthAdjust="spacingAndGlyphs">Mean:</text>
<text x="1499.1" y="251" font-size="35.3" textLength="73.7" lengthAdjust="spacingAndGlyphs">0.00</text>
<text x="1396.9" y="290" font-size="35.3" textLength="81.2" lengthAdjust="spacingAndGlyphs">Max:</text>
<text x="1499.1" y="290" font-size="35.3" textLength="73.7" lengthAdjust="spacingAndGlyphs">0.00</text>
<text x="1405.3" y="327.5" font-size="35.3" textLength="71.0" lengthAdjust="spacingAndGlyphs">Min:</text>
<text x="1485.9" y="327.5" font-size="35.3" textLength="86.9" lengthAdjust="spacingAndGlyphs">-0.00</text>
<text x="3206.9" y="251" font-size="35.3" textLength="102.3" lengthAdjust="spacingAndGlyphs">Mean:</text>
<text x="3331.2" y="251" font-size="35.3" textLength="72.7" lengthAdjust="spacingAndGlyphs">0.00</text>
<text x="3228.9" y="290" font-size="35.3" textLength="80.1" lengthAdjust="spacingAndGlyphs">Max:</text>
<text x="3331.2" y="290" font-size="35.3" textLength="72.7" lengthAdjust="spacingAndGlyphs">0.00</text>
<text x="3237.3" y="327.5" font-size="35.3" textLength="71.0" lengthAdjust="spacingAndGlyphs">Min:</text>
<text x="3318.0" y="327.5" font-size="35.3" textLength="85.9" lengthAdjust="spacingAndGlyphs">-0.00</text>
<text x="150.0" y="1483.4" font-size="35.3" font-weight="bold" textLength="372.3" lengthAdjust="spacingAndGlyphs">Test % Diff Baseline</text>
<text x="1376.3" y="1406" font-size="35.3" textLength="102.7" lengthAdjust="spacingAndGlyphs">Mean:</text>
<text x="1511.4" y="1406" font-size="35.3" textLength="62.6" lengthAdjust="spacingAndGlyphs">nan</text>
<text x="1420.1" y="1444.6" font-size="35.3" textLength="79.6" lengthAdjust="spacingAndGlyphs">Max:</text>
<text x="1531.4" y="1444.6" font-size="35.3" textLength="42.9" lengthAdjust="spacingAndGlyphs">inf</text>
<text x="1427.7" y="1482.5" font-size="35.3" textLength="70.0" lengthAdjust="spacingAndGlyphs">Min:</text>
<text x="1519.2" y="1482.5" font-size="35.3" textLength="55.1" lengthAdjust="spacingAndGlyphs">-inf</text>
<text x="1980.8" y="1482.7" font-size="35.3" font-weight="bold" textLength="80.1" lengthAdjust="spacingAndGlyphs">Test</text>
<text x="2102.5" y="1482.7" font-size="35.3" font-weight="bold" textLength="159.0" lengthAdjust="spacingAndGlyphs">Baseline</text>
<text x="2585.3" y="1482.7" font-size="35.3" textLength="212.8" lengthAdjust="spacingAndGlyphs">RMSE: 0.000</text>
<text x="3205.2" y="1405.7" font-size="35.3" textLength="103.0" lengthAdjust="spacingAndGlyphs">Mean:</text>
<text x="3318.5" y="1405.7" font-size="35.3" textLength="85.8" lengthAdjust="spacingAndGlyphs">-0.00</text>
<text x="3228.6" y="1445" font-size="35.3" textLength="80.1" lengthAdjust="spacingAndGlyphs">Max:</text>
<text x="3331.1" y="1445" font-size="35.3" textLength="73.3" lengthAdjust="spacingAndGlyphs">0.00</text>
<text x="3235.5" y="1482.8" font-size="35.3" textLength="72.2" lengthAdjust="spacingAndGlyphs">Min:</text>
<text x="3318.5" y="1482.8" font-size="35.3" textLength="85.8" lengthAdjust="spacingAndGlyphs">-0.00</text>
<text x="30.7" y="367.3" font-size="42.8" textLength="82.4" lengthAdjust="spacingAndGlyphs">90N</text>
<text x="30.7" y="486.4666666666667" font-size="42.8" textLength="82.4" lengthAdjust="spacingAndGlyphs">60N</text>
<text x="30.2" y="605.6333333333333" font-size="42.8" textLength="82.7" lengthAdjust="spacingAndGlyphs">30N</text>
<text x="88.6" y="724.8" font-size="42.8" textLength="25.1" lengthAdjust="spacingAndGlyphs">0</text>
<text x="35.8" y="843.9666666666667" font-size="42.8" textLength="78.1" lengthAdjust="spacingAndGlyphs">30S</text>
<text x="34.8" y="963.1333333333333" font-size="42.8" textLength="79.1" lengthAdjust="spacingAndGlyphs">60S</text>
<text x="34.8" y="1082.3" font-size="42.8" textLength="79.1" lengthAdjust="spacingAndGlyphs">90S</text>
<text x="136.9" y="1132.6" font-size="42.8" textLength="26.4" lengthAdjust="spacingAndGlyphs">0</text>
<text x="348.2" y="1132.6" font-size="42.8" textLength="79.4" lengthAdjust="spacingAndGlyphs">60E</text>
<text x="573.5" y="1132.6" font-size="42.8" textLength="105.5" lengthAdjust="spacingAndGlyphs">120E</text>
<text x="824.3" y="1132.6" font-size="42.8" textLength="79.3" lengthAdjust="spacingAndGlyphs">180</text>
<text x="1040.7" y="1132.6" font-size="42.8" textLength="119.7" lengthAdjust="spacingAndGlyphs">120W</text>
<text x="1293.8" y="1132.6" font-size="42.8" textLength="92.9" lengthAdjust="spacingAndGlyphs">60W</text>
<text x="1860.7" y="367.3" font-size="42.8" textLength="82.4" lengthAdjust="spacingAndGlyphs">90N</text>
<text x="1860.7" y="486.4666666666667" font-size="42.8" textLength="82.4" lengthAdjust="spacingAndGlyphs">60N</text>
<text x="1860.2" y="605.6333333333333" font-size="42.8" textLength="82.7" lengthAdjust="spacingAndGlyphs">30N</text>
<text x="1918.6" y="724.8" font-size="42.8" textLength="25.1" lengthAdjust="spacingAndGlyphs">0</text>
<text x="1865.8" y="843.9666666666667" font-size="42.8" textLength="78.1" lengthAdjust="spacingAndGlyphs">30S</text>
<text x="1864.8" y="963.1333333333333" font-size="42.8" textLength="79.1" lengthAdjust="spacingAndGlyphs">60S</text>
<text x="1864.8" y="1082.3" font-size="42.8" textLength="79.1" lengthAdjust="spacingAndGlyphs">90S</text>
<text x="1966.9" y="1132.6" font-size="42.8" textLength="26.4" lengthAdjust="spacingAndGlyphs">0</text>
<text x="2178.2" y="1132.6" font-size="42.8" textLength="79.4" lengthAdjust="spacingAndGlyphs">60E</text>
<text x="2403.5" y="1132.6" font-size="42.8" textLength="105.5" lengthAdjust="spacingAndGlyphs">120E</text>
<text x="2654.3" y="1132.6" font-size="42.8" textLength="79.3" lengthAdjust="spacingAndGlyphs">180</text>
<text x="2870.7" y="1132.6" font-size="42.8" textLength="119.7" lengthAdjust="spacingAndGlyphs">120W</text>
<text x="3123.8" y="1132.6" font-size="42.8" textLength="92.9" lengthAdjust="spacingAndGlyphs">60W</text>
<text x="30.7" y="1522.3" font-size="42.8" textLength="82.4" lengthAdjust="spacingAndGlyphs">90N</text>
<text x="30.7" y="1641.4666666666667" font-size="42.8" textLength="82.4" lengthAdjust="spacingAndGlyphs">60N</text>
<text x="30.2" y="1760.6333333333332" font-size="42.8" textLength="82.7" lengthAdjust="spacingAndGlyphs">30N</text>
<text x="88.6" y="1879.8" font-size="42.8" textLength="25.1" lengthAdjust="spacingAndGlyphs">0</text>
<text x="35.8" y="1998.9666666666667" font-size="42.8" textLength="78.1" lengthAdjust="spacingAndGlyphs">30S</text>
<text x="34.8" y="2118.133333333333" font-size="42.8" textLength="79.1" lengthAdjust="spacingAndGlyphs">60S</text>
<text x="34.8" y="2237.3" font-size="42.8" textLength="79.1" lengthAdjust="spacingAndGlyphs">90S</text>
<text x="136.9" y="2287.6" font-size="42.8" textLength="26.4" lengthAdjust="spacingAndGlyphs">0</text>
<text x="348.2" y="2287.6" font-size="42.8" textLength="79.4" lengthAdjust="spacingAndGlyphs">60E</text>
<text x="573.5" y="2287.6" font-size="42.8" textLength="105.5" lengthAdjust="spacingAndGlyphs">120E</text>
<text x="824.3" y="2287.6" font-size="42.8" textLength="79.3" lengthAdjust="spacingAndGlyphs">180</text>
<text x="1040.7" y="2287.6" font-size="42.8" textLength="119.7" lengthAdjust="spacingAndGlyphs">120W</text>
<text x="1293.8" y="2287.6" font-size="42.8" textLength="92.9" lengthAdjust="spacingAndGlyphs">60W</text>
<text x="1860.7" y="1522.3" font-size="42.8" textLength="82.4" lengthAdjust="spacingAndGlyphs">90N</text>
<text x="1860.7" y="1641.4666666666667" font-size="42.8" textLength="82.4" lengthAdjust="spacingAndGlyphs">60N</text>
<text x="1860.2" y="1760.6333333333332" font-size="42.8" textLength="82.7" lengthAdjust="spacingAndGlyphs">30N</text>
<text x="1918.6" y="1879.8" font-size="42.8" textLength="25.1" lengthAdjust="spacingAndGlyphs">0</text>
<text x="1865.8" y="1998.9666666666667" font-size="42.8" textLength="78.1" lengthAdjust="spacingAndGlyphs">30S</text>
<text x="1864.8" y="2118.133333333333" font-size="42.8" textLength="79.1" lengthAdjust="spacingAndGlyphs">60S</text>
<text x="1864.8" y="2237.3" font-size="42.8" textLength="79.1" lengthAdjust="spacingAndGlyphs">90S</text>
<text x="1966.9" y="2287.6" font-size="42.8" textLength="26.4" lengthAdjust="spacingAndGlyphs">0</text>
<text x="2178.2" y="2287.6" font-size="42.8" textLength="79.4" lengthAdjust="spacingAndGlyphs">60E</text>
<text x="2403.5" y="2287.6" font-size="42.8" textLength="105.5" lengthAdjust="spacingAndGlyphs">120E</text>
<text x="2654.3" y="2287.6" font-size="42.8" textLength="79.3" lengthAdjust="spacingAndGlyphs">180</text>
<text x="2870.7" y="2287.6" font-size="42.8" textLength="119.7" lengthAdjust="spacingAndGlyphs">120W</text>
<text x="3123.8" y="2287.6" font-size="42.8" textLength="92.9" lengthAdjust="spacingAndGlyphs">60W</text>
<text x="3575.7" y="432.3" font-size="42.8" textLength="119.2" lengthAdjust="spacingAndGlyphs">1.047</text>
<text x="3575.7" y="562.3" font-size="42.8" textLength="119.3" lengthAdjust="spacingAndGlyphs">0.699</text>
<text x="3575.7" y="692.3" font-size="42.8" textLength="119.1" lengthAdjust="spacingAndGlyphs">0.352</text>
<text x="3575.7" y="822.3" font-size="42.8" textLength="118.3" lengthAdjust="spacingAndGlyphs">0.004</text>
<text x="3577.7" y="952.3" font-size="42.8" textLength="151.5" lengthAdjust="spacingAndGlyphs">−0.343</text>
<text x="3577.7" y="1082.3" font-size="42.8" textLength="151.2" lengthAdjust="spacingAndGlyphs">−0.691</text>
<text x="3576.2" y="1587.3" font-size="42.8" textLength="92.8" lengthAdjust="spacingAndGlyphs">5.89</text>
<text x="3576.2" y="1717.3" font-size="42.8" textLength="92.8" lengthAdjust="spacingAndGlyphs">3.27</text>
<text x="3576.2" y="1847.3" font-size="42.8" textLength="92.8" lengthAdjust="spacingAndGlyphs">0.65</text>
<text x="3577.7" y="1977.3" font-size="42.8" textLength="125.8" lengthAdjust="spacingAndGlyphs">−1.96</text>
<text x="3577.7" y="2107.3" font-size="42.8" textLength="125.8" lengthAdjust="spacingAndGlyphs">−4.58</text>
<text x="3577.7" y="2237.3" font-size="42.8" textLength="125.8" lengthAdjust="spacingAndGlyphs">−7.20</text>
<text x="1744.7" y="1587.3" font-size="42.8" textLength="52.3" lengthAdjust="spacingAndGlyphs">50</text>
<text x="1744.7" y="1684.8" font-size="42.8" textLength="52.3" lengthAdjust="spacingAndGlyphs">20</text>
<text x="1745.7" y="1782.3" font-size="42.8" textLength="26.7" lengthAdjust="spacingAndGlyphs">6</text>
<text x="1746.8" y="1879.8" font-size="42.8" textLength="25.5" lengthAdjust="spacingAndGlyphs">0</text>
<text x="1747.6" y="1977.3" font-size="42.8" textLength="58.3" lengthAdjust="spacingAndGlyphs">−6</text>
<text x="1747.6" y="2074.8" font-size="42.8" textLength="83.7" lengthAdjust="spacingAndGlyphs">−20</text>
<text x="1747.6" y="2172.3" font-size="42.8" textLength="83.7" lengthAdjust="spacingAndGlyphs">−50</text>
<text x="3434.7" y="340.1" font-size="42.8" textLength="110.3" lengthAdjust="spacingAndGlyphs">1e−5</text>
<text x="3433.9" y="1494.8" font-size="42.8" textLength="112.7" lengthAdjust="spacingAndGlyphs">1e−6</text>
<rect x="2070.5" y="1469.5" width="21.4" height="3.2" fill="#000"/>
<rect x="3477" y="352" width="70.5" height="65.6" fill="#c12b30"/>
<rect x="3477" y="417" width="70.5" height="65.6" fill="#d85646"/>
<rect x="3477" y="482" width="70.5" height="65.6" fill="#e97a5f"/>
<rect x="3477" y="547" width="70.5" height="65.6" fill="#f4987a"/>
<rect x="3477" y="612" width="70.5" height="65.6" fill="#f7b396"/>
<rect x="3477" y="677" width="70.5" height="65.6" fill="#f2c9b4"/>
<rect x="3477" y="742" width="70.5" height="65.6" fill="#e6d7cf"/>
<rect x="3477" y="807" width="70.5" height="65.6" fill="#ccd9ed"/>
<rect x="3477" y="872" width="70.5" height="65.6" fill="#a3c2fe"/>
<rect x="3477" y="937" width="70.5" height="65.6" fill="#779af7"/>
<rect x="3477" y="1002" width="70.5" height="65.6" fill="#4e68d8"/>
<rect x="3477" y="352" width="70.5" height="715" fill="none" stroke="#000" stroke-width="2.8"/>
<path d="M3548.9 417h14M3548.9 547h14M3548.9 677h14M3548.9 807h14M3548.9 937h14M3548.9 1067h14" stroke="#000" stroke-width="2.9" fill="none"/>
<rect x="3477" y="1507" width="70.5" height="65.6" fill="#c43032"/>
<rect x="3477" y="1572" width="70.5" height="65.6" fill="#e0654f"/>
<rect x="3477" y="1637" width="70.5" height="65.6" fill="#f29072"/>
<rect x="3477" y="1702" width="70.5" height="65.6" fill="#f7b396"/>
<rect x="3477" y="1767" width="70.5" height="65.6" fill="#f1cdba"/>
<rect x="3477" y="1832" width="70.5" height="65.6" fill="#dcdddd"/>
<rect x="3477" y="1897" width="70.5" height="65.6" fill="#c3d5f4"/>
<rect x="3477" y="1962" width="70.5" height="65.6" fill="#a5c3fe"/>
<rect x="3477" y="2027" width="70.5" height="65.6" fill="#85a8fc"/>
<rect x="3477" y="2092" width="70.5" height="65.6" fill="#6485ec"/>
<rect x="3477" y="2157" width="70.5" height="65.6" fill="#485fd1"/>
<rect x="3477" y="1507" width="70.5" height="715" fill="none" stroke="#000" stroke-width="2.8"/>
<path d="M3548.9 1572h14M3548.9 1702h14M3548.9 1832h14M3548.9 1962h14M3548.9 2092h14M3548.9 2222h14" stroke="#000" stroke-width="2.9" fill="none"/>
<rect x="1646" y="1507" width="70.5" height="33.1" fill="#7f3b08"/>
<rect x="1646" y="1539.5" width="70.5" height="33.1" fill="#974907"/>
<rect x="1646" y="1572" width="70.5" height="33.1" fill="#b05606"/>
<rect x="1646" y="1604.5" width="70.5" height="33.1" fill="#c6690c"/>
<rect x="1646" y="1637" width="70.5" height="33.1" fill="#db7d12"/>
<rect x="1646" y="1669.5" width="70.5" height="33.1" fill="#ea9530"/>
<rect x="1646" y="1702" width="70.5" height="33.1" fill="#f9b158"/>
<rect x="1646" y="1734.5" width="70.5" height="33.1" fill="#fdc57f"/>
<rect x="1646" y="1767" width="70.5" height="33.1" fill="#fed8a6"/>
<rect x="1646" y="1799.5" width="70.5" height="33.1" fill="#fce6c8"/>
<rect x="1646" y="1832" width="70.5" height="33.1" fill="#f9f1e6"/>
<rect x="1646" y="1864.5" width="70.5" height="33.1" fill="#eff0f4"/>
<rect x="1646" y="1897" width="70.5" height="33.1" fill="#e1e2ee"/>
<rect x="1646" y="1929.5" width="70.5" height="33.1" fill="#d1d1e6"/>
<rect x="1646" y="1962" width="70.5" height="33.1" fill="#bfbbda"/>
<rect x="1646" y="1994.5" width="70.5" height="33.1" fill="#aba3cd"/>
<rect x="1646" y="2027" width="70.5" height="33.1" fill="#9287b9"/>
<rect x="1646" y="2059.5" width="70.5" height="33.1" fill="#7b6aa8"/>
<rect x="1646" y="2092" width="70.5" height="33.1" fill="#664697"/>
<rect x="1646" y="2124.5" width="70.5" height="33.1" fill="#522584"/>
<rect x="1646" y="2157" width="70.5" height="33.1" fill="#3f1268"/>
<rect x="1646" y="2189.5" width="70.5" height="33.1" fill="#2d004b"/>
<rect x="1646" y="1507" width="70.5" height="715" fill="none" stroke="#000" stroke-width="2.8"/>
<path d="M1717.9 1507h7M1717.9 1539.5h7M1717.9 1572h7M1717.9 1604.5h7M1717.9 1637h7M1717.9 1669.5h7M1717.9 1702h7M1717.9 1734.5h7M1717.9 1767h7M1717.9 1799.5h7M1717.9 1832h7M1717.9 1864.5h7M1717.9 1897h7M1717.9 1929.5h7M1717.9 1962h7M1717.9 1994.5h7M1717.9 2027h7M1717.9 2059.5h7M1717.9 2092h7M1717.9 2124.5h7M1717.9 2157h7M1717.9 2189.5h7M1717.9 2222h7M1717.9 1572h14M1717.9 1669.5h14M1717.9 1767h14M1717.9 1864.5h14M1717.9 1962h14M1717.9 2059.5h14M1717.9 2157h14" stroke="#000" stroke-width="2.9" fill="none"/>
</svg>
</body></html>
